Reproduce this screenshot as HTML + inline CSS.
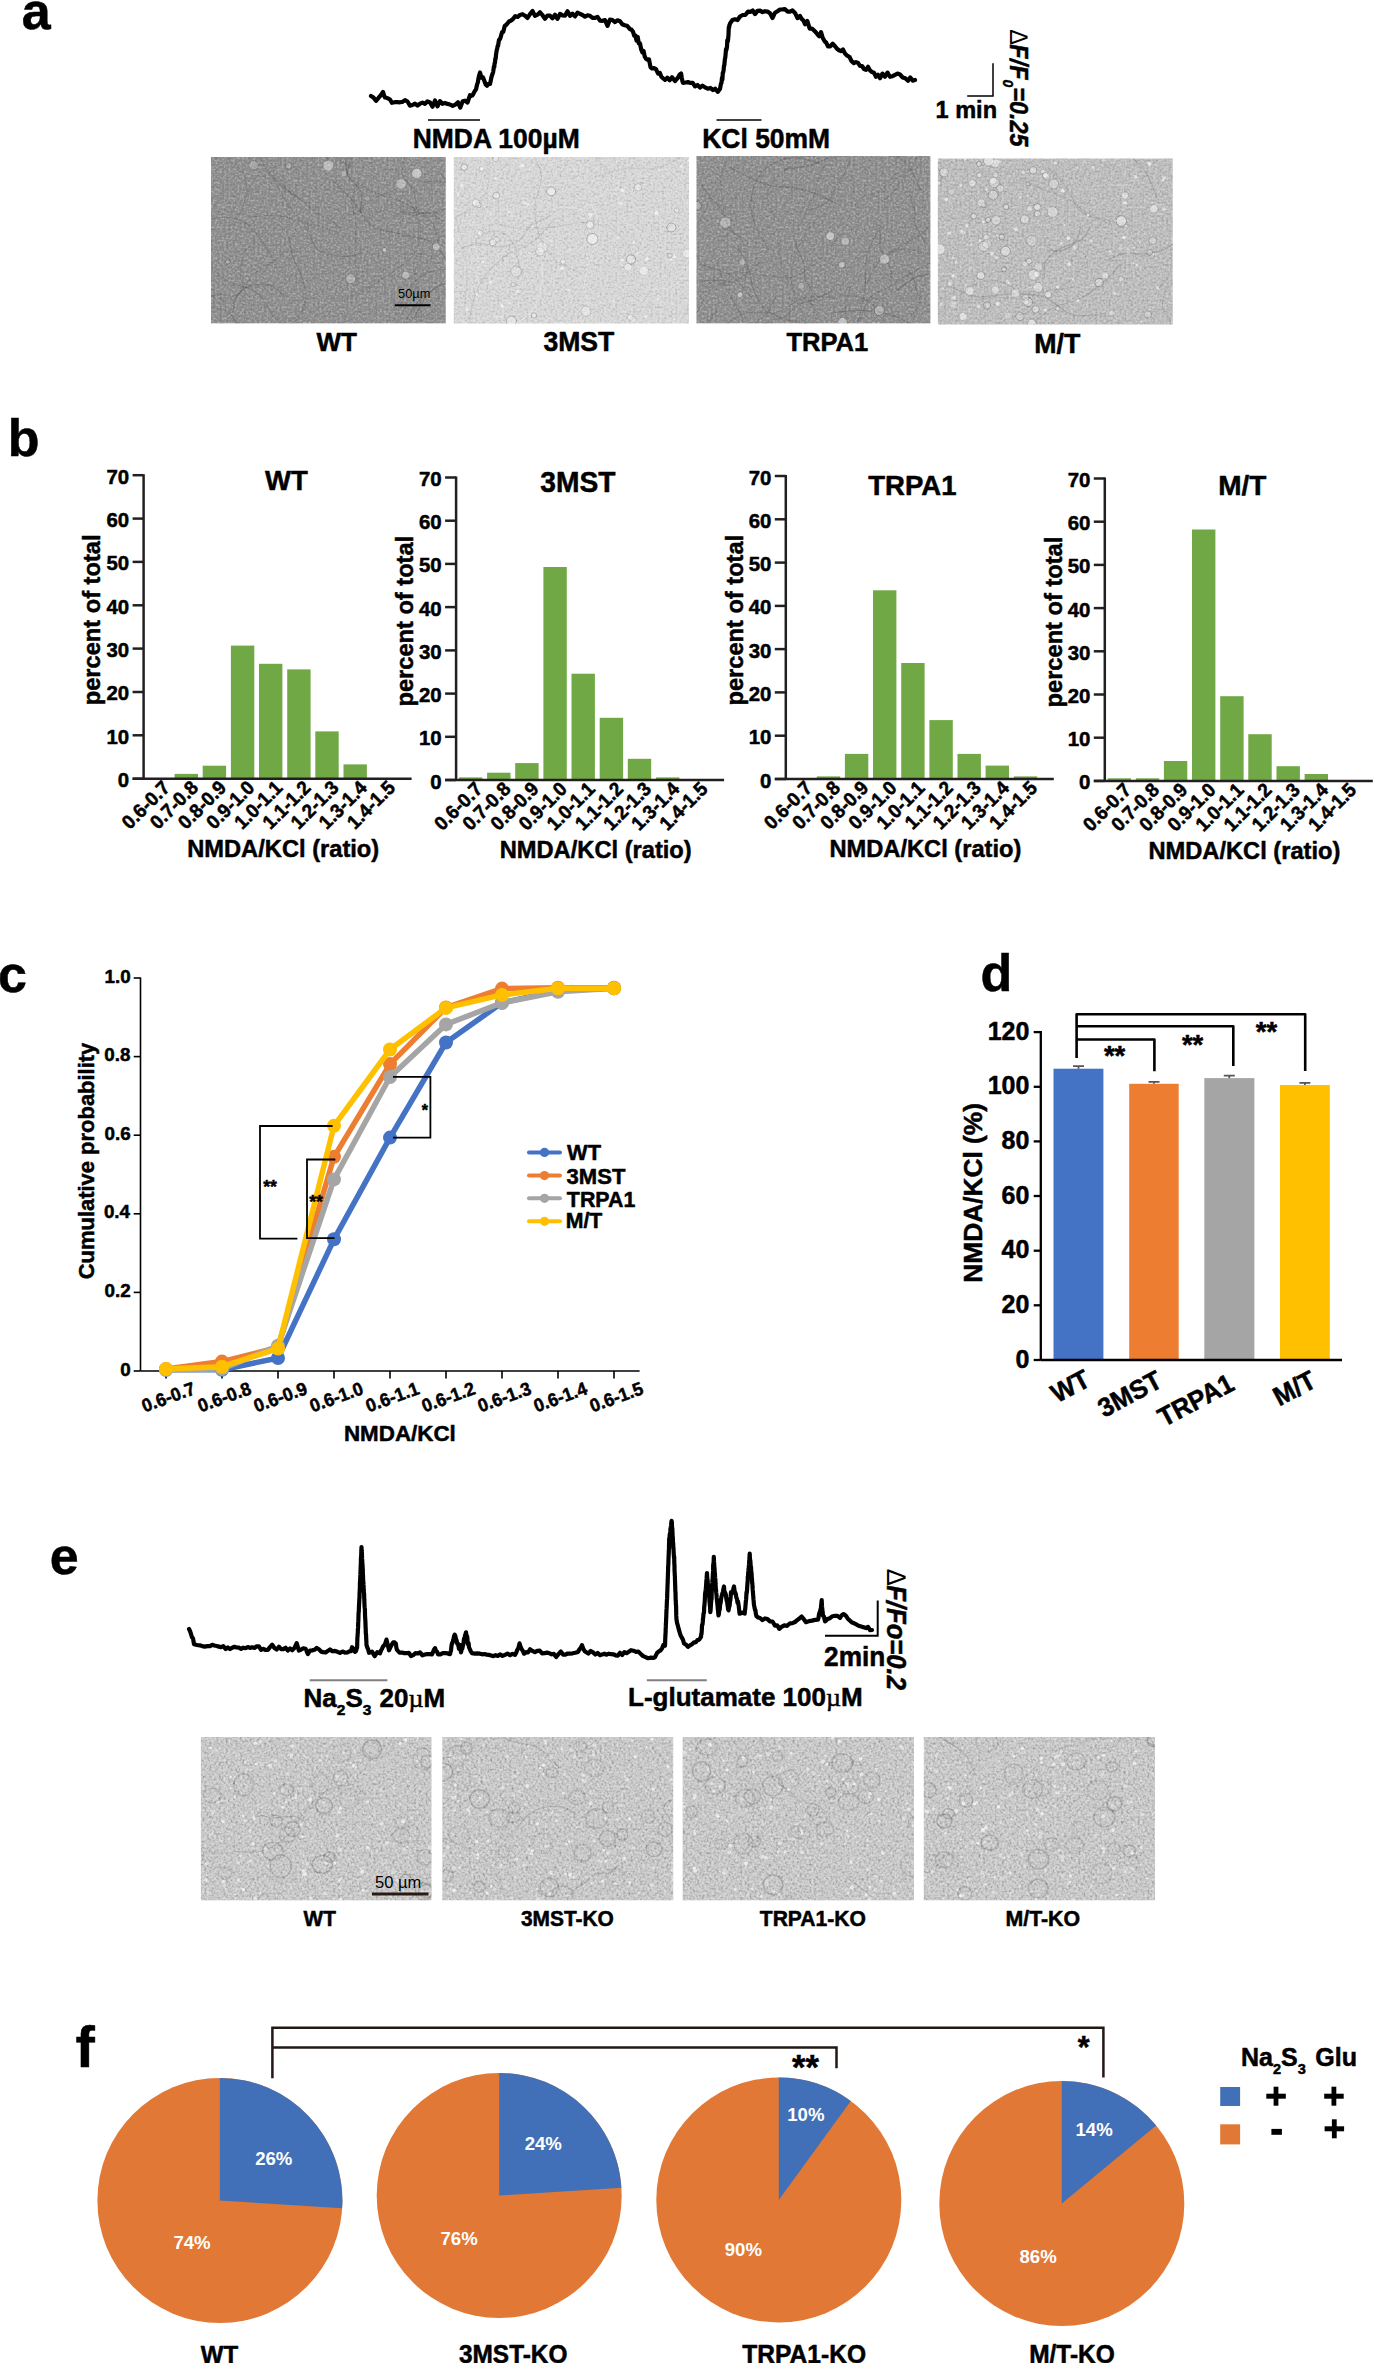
<!DOCTYPE html>
<html><head><meta charset="utf-8"><style>html,body{margin:0;padding:0;background:#fff;}svg{display:block;}text{stroke:#000;stroke-width:0.5px;stroke-linejoin:round;}text[fill="#fff"]{stroke:none;}</style></head>
<body><svg width="1373" height="2363" viewBox="0 0 1373 2363">
<defs>
<filter id="tex" x="0" y="0" width="100%" height="100%"><feTurbulence type="fractalNoise" baseFrequency="0.45" numOctaves="2" seed="3"/><feColorMatrix type="saturate" values="0"/><feComponentTransfer><feFuncA type="linear" slope="0" intercept="1"/></feComponentTransfer><feBlend in="SourceGraphic" mode="overlay"/></filter>
<filter id="tex2" x="0" y="0" width="100%" height="100%"><feTurbulence type="fractalNoise" baseFrequency="0.42" numOctaves="2" seed="8"/><feColorMatrix type="saturate" values="0"/><feComponentTransfer><feFuncA type="linear" slope="0" intercept="1"/></feComponentTransfer><feBlend in="SourceGraphic" mode="overlay"/></filter>
</defs>
<rect width="1373" height="2363" fill="#fff"/>
<text transform="translate(23.20,28.50)" x="-1.52" y="0" font-family="Liberation Sans, sans-serif" font-size="52.00" font-weight="bold" >a</text>
<polyline points="371.0,96.0 373.5,97.6 376.0,100.8 380.0,96.2 381.5,94.1 383.0,91.9 384.0,95.4 385.0,97.5 386.0,97.6 388.0,98.4 390.0,99.5 392.0,102.8 394.7,102.2 397.3,102.2 400.0,102.3 402.5,101.9 405.0,100.1 407.5,101.5 410.0,105.6 412.5,105.0 415.0,103.6 417.5,105.5 420.0,103.7 422.5,102.6 425.0,103.9 427.5,101.3 430.0,102.4 432.5,106.7 435.0,100.5 437.5,106.4 440.0,101.1 442.5,103.8 445.0,103.0 447.5,103.9 450.0,104.5 452.7,105.9 455.3,104.7 458.0,102.3 460.3,107.6 462.7,101.3 465.0,100.7 467.5,102.5 470.0,95.2 471.3,95.8 472.7,95.2 474.0,92.5 475.0,90.7 476.0,89.5 477.0,84.8 477.8,82.6 478.5,78.2 479.2,75.3 480.0,72.5 481.5,77.6 483.0,77.4 484.3,80.8 485.7,84.5 487.0,85.8 488.5,83.9 490.0,84.0 490.8,80.4 491.6,76.5 492.4,74.2 493.2,71.8 494.0,66.0 494.3,67.1 494.6,63.1 494.9,63.1 495.1,61.2 495.4,58.3 495.7,58.7 496.0,55.0 496.4,52.3 496.8,49.8 497.2,48.7 497.6,46.0 498.0,46.1 499.0,39.9 500.0,39.2 501.0,36.0 502.0,32.3 503.3,31.8 504.7,26.0 506.0,25.1 507.5,23.3 509.0,21.5 511.0,20.6 513.0,19.0 515.3,16.1 517.7,17.0 520.0,14.9 522.5,14.2 525.0,15.7 527.5,17.9 530.0,14.1 532.5,11.0 535.0,15.9 537.5,14.7 540.0,12.3 542.5,15.2 545.0,18.8 547.5,15.5 550.0,15.6 552.5,18.3 555.0,14.7 557.5,18.9 560.0,13.9 562.5,15.3 565.0,15.6 567.5,11.3 570.0,15.8 572.5,13.7 575.0,16.4 577.5,12.7 580.0,13.8 582.5,15.0 585.0,16.7 587.5,15.3 590.0,15.8 592.5,17.8 595.0,17.9 597.5,16.8 600.0,20.7 602.5,20.8 605.0,20.1 607.5,25.9 610.0,19.6 612.5,20.0 615.0,22.1 617.5,20.3 620.0,21.3 622.3,24.3 624.7,25.3 627.0,25.8 628.5,27.4 630.0,29.3 631.5,29.6 633.0,31.7 634.2,35.7 635.3,35.4 636.5,40.6 637.7,36.9 638.8,43.3 640.0,43.4 641.2,49.5 642.4,52.4 643.6,51.1 644.8,56.7 646.0,58.8 647.5,59.8 649.0,59.4 650.5,67.1 652.0,68.5 654.0,68.1 656.0,69.1 658.0,73.5 659.8,72.9 661.5,77.0 663.2,78.4 665.0,79.8 667.3,77.8 669.7,80.2 672.0,77.2 675.0,81.0 678.0,77.6 678.6,76.3 679.2,75.4 679.9,74.3 680.5,74.0 681.1,73.5 681.8,78.1 682.4,81.0 683.0,82.8 685.5,82.5 688.0,82.1 690.3,82.9 692.7,82.8 695.0,86.4 697.5,85.0 700.0,87.5 702.5,85.6 705.0,87.4 707.7,88.7 710.3,87.9 713.0,90.0 715.3,88.7 717.7,91.8 720.0,89.0 720.5,86.2 721.0,83.6 721.5,82.7 722.0,77.6 722.4,79.6 722.8,72.9 723.2,72.4 723.6,70.4 724.0,65.3 724.3,65.5 724.7,61.0 725.0,58.6 725.3,57.4 725.7,53.1 726.0,49.1 726.3,50.3 726.7,48.5 727.0,46.9 727.3,40.3 727.6,39.8 727.9,41.2 728.2,38.1 728.5,35.0 728.8,27.0 729.1,27.9 729.4,25.1 729.7,24.9 730.0,23.4 732.5,20.1 735.0,19.3 737.5,20.1 740.0,16.5 742.7,15.0 745.3,15.0 748.0,11.6 750.3,11.9 752.7,10.5 755.0,14.1 757.5,10.9 760.0,10.7 762.5,12.1 765.0,11.2 767.5,11.6 770.0,13.3 772.5,18.0 775.0,12.7 777.5,11.2 780.0,9.5 782.5,9.4 785.0,9.2 787.5,11.6 790.0,11.6 792.5,10.4 795.0,12.9 797.5,18.1 800.0,15.9 801.7,19.0 803.3,20.3 805.0,24.3 807.3,21.0 809.7,28.6 812.0,28.6 813.8,30.2 815.6,32.0 817.4,34.3 819.2,36.2 821.0,32.2 822.8,38.0 824.5,41.1 826.2,42.6 828.0,46.3 830.3,46.3 832.7,43.8 835.0,46.2 837.0,48.8 839.0,50.3 841.0,51.1 843.0,49.5 845.0,53.6 847.2,55.7 849.4,56.8 851.6,61.2 853.8,63.1 856.0,62.1 858.0,62.9 860.0,65.9 862.0,66.0 864.0,69.0 866.0,69.8 868.0,66.8 870.0,70.4 872.0,72.1 874.0,72.8 876.0,76.7 878.0,74.8 880.0,78.2 882.5,73.6 885.0,76.7 887.5,72.6 890.0,76.8 892.5,76.2 895.0,74.9 897.5,73.6 900.0,74.5 902.7,77.5 905.3,78.3 908.0,80.8 910.3,77.4 912.7,80.6 915.0,80.0" fill="none" stroke="#000" stroke-width="4.2" stroke-linejoin="round" stroke-linecap="round"/>
<line x1="428" y1="120" x2="480" y2="120" stroke="#000" stroke-width="1.6"/>
<line x1="716.5" y1="120" x2="761.5" y2="120" stroke="#000" stroke-width="1.6"/>
<text transform="translate(414.50,148.20) scale(1,1.02)" x="-1.77" y="0" font-family="Liberation Sans, sans-serif" font-size="26.44" font-weight="bold" >NMDA 100µM</text>
<text transform="translate(704.00,148.30) scale(1,1.02)" x="-1.77" y="0" font-family="Liberation Sans, sans-serif" font-size="26.46" font-weight="bold" >KCl 50mM</text>
<polyline points="967.2,96 993,96 993,63.3" fill="none" stroke="#000" stroke-width="1.5"/>
<text transform="translate(937.00,118.00) scale(1,1.02)" x="-1.48" y="0" font-family="Liberation Sans, sans-serif" font-size="23.56" font-weight="bold" >1 min</text>
<text transform="translate(1009.5,30) rotate(90) scale(0.92,1)" font-family="Liberation Sans, sans-serif" font-size="25.5" font-weight="bold" font-style="italic"><tspan font-weight="normal" font-style="normal" style="stroke:none">∆</tspan>F/F<tspan font-size="15" dy="6">0</tspan><tspan dy="-6">=0.25</tspan></text>
<clipPath id="c1"><rect x="211" y="157" width="234.8" height="166.4"/></clipPath>
<g clip-path="url(#c1)">
<rect x="211" y="157" width="234.8" height="166.4" fill="#8f8f8f"/>
<rect x="211" y="157" width="234.8" height="166.4" fill="#8f8f8f" filter="url(#tex)" opacity="0.5"/>
<path d="M231.0,230.9 C233.0,227.0 239.1,215.3 242.6,207.2 C246.1,199.2 247.3,189.8 252.0,182.6 C256.6,175.4 264.2,170.0 270.5,163.9 C276.8,157.8 285.6,153.3 289.9,146.1 C294.2,138.9 295.2,124.8 296.2,120.5" fill="none" stroke="#000" stroke-opacity="0.11" stroke-width="0.8"/>
<path d="M447.4,332.5 C445.3,334.1 438.1,338.3 434.7,342.3 C431.3,346.3 428.4,351.4 427.0,356.4 C425.6,361.4 425.4,367.3 426.3,372.4 C427.2,377.6 429.9,382.6 432.4,387.3 C434.9,392.0 440.0,398.3 441.5,400.5" fill="none" stroke="#000" stroke-opacity="0.12" stroke-width="1.5"/>
<path d="M248.9,334.3 C245.3,330.6 235.5,317.3 226.9,311.9 C218.2,306.6 206.5,306.4 197.0,302.1 C187.5,297.8 179.6,289.0 169.9,286.3 C160.1,283.7 147.7,283.0 138.4,286.4 C129.2,289.7 118.3,303.1 114.2,306.4" fill="none" stroke="#000" stroke-opacity="0.10" stroke-width="1.3"/>
<path d="M346.6,176.8 C347.7,171.6 351.3,156.1 353.0,145.7 C354.8,135.2 354.8,124.4 357.2,114.2 C359.6,103.9 361.6,92.4 367.4,84.1 C373.2,75.7 386.0,72.4 392.0,64.1 C398.0,55.8 401.5,39.4 403.4,34.4" fill="none" stroke="#000" stroke-opacity="0.12" stroke-width="1.5"/>
<path d="M358.4,285.1 C357.9,281.6 356.0,271.1 355.5,264.1 C355.0,257.0 355.2,249.9 355.2,242.9 C355.3,235.8 356.4,228.7 355.9,221.7 C355.3,214.7 351.4,207.7 351.8,200.9 C352.2,194.1 357.1,184.1 358.2,180.7" fill="none" stroke="#000" stroke-opacity="0.10" stroke-width="1.1"/>
<path d="M400.3,305.0 C402.4,301.4 407.3,289.3 413.0,283.5 C418.7,277.8 426.6,272.6 434.3,270.5 C442.0,268.5 451.1,269.7 459.2,271.1 C467.3,272.6 475.7,275.1 482.8,279.1 C490.0,283.1 498.8,292.5 501.9,295.2" fill="none" stroke="#000" stroke-opacity="0.11" stroke-width="1.1"/>
<path d="M351.1,167.4 C347.0,164.4 333.5,156.6 326.7,149.3 C319.8,142.1 314.3,133.0 310.0,123.9 C305.8,114.8 306.5,103.1 301.3,94.8 C296.2,86.5 287.8,78.1 279.1,74.0 C270.4,70.0 253.9,71.0 248.9,70.4" fill="none" stroke="#000" stroke-opacity="0.12" stroke-width="1.0"/>
<path d="M276.1,265.2 C273.8,261.3 267.8,248.8 262.3,241.5 C256.9,234.2 251.1,225.5 243.4,221.6 C235.7,217.7 224.9,216.8 216.1,218.1 C207.4,219.3 198.2,223.8 191.0,229.1 C183.7,234.3 175.7,246.2 172.7,249.6" fill="none" stroke="#000" stroke-opacity="0.11" stroke-width="1.3"/>
<path d="M248.5,217.5 C251.5,217.2 260.7,215.7 266.8,215.6 C272.9,215.5 279.2,215.7 285.2,216.8 C291.2,217.9 296.9,220.4 302.8,222.0 C308.7,223.7 314.8,225.0 320.6,226.7 C326.5,228.4 335.2,231.5 338.1,232.5" fill="none" stroke="#000" stroke-opacity="0.13" stroke-width="0.9"/>
<path d="M410.5,317.2 C412.7,317.0 419.7,317.8 423.6,316.4 C427.6,315.0 431.6,312.0 434.3,308.7 C437.0,305.5 437.7,300.6 439.9,296.9 C442.2,293.1 446.2,290.3 447.8,286.3 C449.4,282.4 449.0,275.4 449.3,273.3" fill="none" stroke="#000" stroke-opacity="0.07" stroke-width="1.5"/>
<path d="M301.5,248.6 C298.7,249.2 290.0,250.0 285.0,252.4 C280.0,254.7 276.2,259.5 271.5,262.7 C266.9,265.9 261.2,267.8 257.0,271.4 C252.9,275.1 248.7,279.6 246.4,284.6 C244.1,289.6 243.8,298.5 243.3,301.3" fill="none" stroke="#000" stroke-opacity="0.08" stroke-width="1.1"/>
<path d="M446.7,260.4 C449.4,259.0 457.4,254.1 463.2,252.3 C469.0,250.4 475.8,251.5 481.4,249.3 C487.0,247.1 491.0,240.4 496.6,239.0 C502.2,237.6 508.8,240.7 515.0,240.9 C521.1,241.1 530.3,240.1 533.4,240.0" fill="none" stroke="#000" stroke-opacity="0.09" stroke-width="1.0"/>
<path d="M274.7,330.3 C278.1,328.8 290.1,326.0 295.2,321.1 C300.3,316.2 304.0,308.0 305.2,300.9 C306.4,293.8 304.3,285.7 302.3,278.6 C300.3,271.4 295.6,265.0 293.3,257.9 C291.0,250.8 289.4,239.6 288.6,235.9" fill="none" stroke="#000" stroke-opacity="0.12" stroke-width="1.4"/>
<path d="M416.6,209.8 C416.1,206.6 415.9,196.4 413.5,190.5 C411.2,184.6 404.1,180.3 402.5,174.3 C400.8,168.4 405.4,160.8 403.8,154.8 C402.1,148.9 395.9,144.4 392.7,138.7 C389.5,133.1 385.8,124.0 384.4,121.0" fill="none" stroke="#000" stroke-opacity="0.10" stroke-width="1.4"/>
<path d="M230.5,320.9 C234.8,322.2 247.7,326.3 256.3,329.0 C264.9,331.8 273.3,336.7 282.1,337.4 C290.9,338.2 300.2,335.6 309.0,333.6 C317.8,331.7 326.3,328.5 334.8,325.5 C343.3,322.5 355.8,317.1 360.0,315.4" fill="none" stroke="#000" stroke-opacity="0.08" stroke-width="0.9"/>
<path d="M422.5,250.4 C421.2,254.3 415.4,265.7 414.9,273.5 C414.5,281.3 418.5,289.3 419.6,297.3 C420.7,305.3 421.3,313.4 421.4,321.5 C421.5,329.6 418.6,338.1 420.3,345.7 C422.1,353.3 430.0,363.5 432.0,367.0" fill="none" stroke="#000" stroke-opacity="0.09" stroke-width="1.4"/>
<path d="M350.1,183.0 C347.0,184.3 338.0,189.6 331.6,190.4 C325.2,191.2 318.1,186.8 311.8,187.9 C305.6,188.9 298.5,192.1 293.9,196.5 C289.4,200.9 287.5,208.1 284.6,214.1 C281.7,220.1 278.1,229.4 276.8,232.4" fill="none" stroke="#000" stroke-opacity="0.06" stroke-width="0.9"/>
<path d="M220.2,155.3 C219.1,153.9 214.7,150.3 213.5,147.2 C212.3,144.1 214.1,140.0 213.1,136.7 C212.2,133.5 208.9,130.9 207.7,127.7 C206.5,124.5 206.3,120.9 205.9,117.4 C205.5,113.9 205.3,108.7 205.2,106.9" fill="none" stroke="#000" stroke-opacity="0.08" stroke-width="1.5"/>
<path d="M393.4,215.3 C395.2,214.9 400.4,212.8 403.9,212.8 C407.3,212.9 410.8,215.5 414.2,215.4 C417.7,215.4 421.1,212.4 424.5,212.3 C427.9,212.3 431.7,213.8 434.8,215.4 C437.9,217.0 441.7,221.1 443.0,222.2" fill="none" stroke="#000" stroke-opacity="0.15" stroke-width="1.0"/>
<path d="M393.9,297.9 C394.0,299.4 394.3,303.9 394.5,306.8 C394.6,309.8 394.9,312.8 394.9,315.7 C395.0,318.7 394.1,321.8 394.8,324.6 C395.5,327.4 398.0,329.7 399.2,332.4 C400.4,335.1 401.6,339.4 402.0,340.8" fill="none" stroke="#000" stroke-opacity="0.07" stroke-width="1.1"/>
<path d="M331.3,179.0 C335.0,182.7 346.5,193.5 353.4,201.4 C360.3,209.3 364.3,220.9 372.6,226.4 C380.9,231.9 393.0,231.5 403.1,234.4 C413.2,237.2 425.1,237.7 433.2,243.4 C441.3,249.2 448.7,264.6 451.8,268.8" fill="none" stroke="#000" stroke-opacity="0.14" stroke-width="1.3"/>
<path d="M201.9,256.4 C205.9,260.3 216.7,273.9 225.9,280.0 C235.1,286.0 248.4,286.1 257.0,292.7 C265.6,299.3 268.8,312.9 277.4,319.5 C285.9,326.1 297.7,329.6 308.5,332.3 C319.3,335.0 336.4,335.4 341.9,336.0" fill="none" stroke="#000" stroke-opacity="0.09" stroke-width="1.4"/>
<path d="M382.3,329.8 C383.3,331.2 386.7,335.2 388.0,338.4 C389.3,341.5 389.7,345.0 390.2,348.4 C390.6,351.8 391.5,355.5 390.6,358.7 C389.8,361.9 387.3,364.8 385.1,367.4 C382.9,370.0 378.6,373.0 377.3,374.1" fill="none" stroke="#000" stroke-opacity="0.07" stroke-width="1.0"/>
<path d="M247.0,192.3 C246.4,189.0 246.7,178.4 243.8,173.0 C240.8,167.6 232.5,165.3 229.2,160.0 C225.9,154.7 227.0,146.7 224.0,141.2 C220.9,135.6 214.2,132.2 210.7,126.8 C207.3,121.4 204.3,111.8 203.1,108.8" fill="none" stroke="#000" stroke-opacity="0.14" stroke-width="0.8"/>
<path d="M340.0,338.2 C343.5,338.0 354.0,338.0 360.9,337.0 C367.8,336.0 375.2,335.3 381.3,332.4 C387.5,329.5 393.6,324.9 398.0,319.7 C402.3,314.4 405.4,307.6 407.5,301.0 C409.5,294.5 409.9,283.8 410.4,280.3" fill="none" stroke="#000" stroke-opacity="0.08" stroke-width="1.0"/>
<path d="M438.8,332.9 C439.2,334.3 441.1,338.5 441.1,341.3 C441.2,344.1 439.1,346.9 439.1,349.8 C439.1,352.6 440.7,355.4 441.0,358.3 C441.3,361.1 440.2,364.3 440.9,367.0 C441.7,369.7 444.8,373.1 445.6,374.4" fill="none" stroke="#000" stroke-opacity="0.10" stroke-width="0.9"/>
<path d="M360.4,213.4 C360.5,209.8 362.8,198.4 360.7,192.0 C358.6,185.5 350.5,181.3 347.6,174.9 C344.8,168.6 347.1,159.7 343.8,153.8 C340.5,147.9 333.3,144.1 328.0,139.2 C322.7,134.4 314.8,127.1 312.2,124.7" fill="none" stroke="#000" stroke-opacity="0.16" stroke-width="1.4"/>
<path d="M288.7,328.9 C288.1,332.7 287.4,344.5 285.1,351.8 C282.7,359.0 277.1,365.2 274.7,372.4 C272.3,379.6 271.5,387.5 270.8,395.2 C270.0,402.8 269.4,410.7 270.1,418.3 C270.9,425.9 274.3,437.1 275.1,440.9" fill="none" stroke="#000" stroke-opacity="0.15" stroke-width="1.3"/>
<path d="M284.4,296.7 C282.6,295.1 277.9,289.0 273.7,287.0 C269.6,285.0 264.3,284.4 259.5,284.5 C254.8,284.6 249.5,285.5 245.5,287.8 C241.5,290.1 237.7,294.2 235.7,298.3 C233.6,302.5 233.7,310.2 233.3,312.5" fill="none" stroke="#000" stroke-opacity="0.12" stroke-width="1.4"/>
<path d="M420.4,182.2 C423.1,182.1 431.5,181.2 437.0,181.2 C442.6,181.3 448.2,182.1 453.7,182.5 C459.3,182.8 465.0,182.2 470.4,183.1 C475.8,184.1 481.9,185.2 486.3,188.1 C490.8,191.1 495.5,198.6 497.3,200.7" fill="none" stroke="#000" stroke-opacity="0.13" stroke-width="1.2"/>
<path d="M427.7,291.0 C424.4,295.4 410.9,307.7 407.6,317.7 C404.2,327.7 410.9,341.1 407.5,351.1 C404.1,361.2 395.9,371.7 387.2,377.8 C378.5,383.8 366.0,384.6 355.3,387.6 C344.5,390.7 328.3,394.6 322.9,395.9" fill="none" stroke="#000" stroke-opacity="0.14" stroke-width="1.3"/>
<path d="M218.1,301.2 C214.2,297.4 203.3,284.4 194.4,278.1 C185.6,271.8 173.5,269.9 164.8,263.3 C156.2,256.7 149.8,247.1 142.8,238.6 C135.7,230.1 126.7,222.2 122.6,212.4 C118.5,202.5 118.9,185.0 118.2,179.6" fill="none" stroke="#000" stroke-opacity="0.06" stroke-width="1.3"/>
<path d="M441.0,174.6 C443.4,177.1 451.3,184.0 455.7,189.3 C460.1,194.6 463.6,200.6 467.4,206.4 C471.2,212.2 474.2,218.6 478.5,224.0 C482.7,229.4 489.1,233.2 493.1,238.7 C497.2,244.2 501.3,253.9 502.9,257.0" fill="none" stroke="#000" stroke-opacity="0.16" stroke-width="1.2"/>
<path d="M299.7,337.0 C299.6,340.7 300.9,352.4 299.2,359.6 C297.6,366.8 294.1,374.1 289.9,380.2 C285.7,386.3 279.9,391.7 274.1,396.4 C268.2,401.0 261.0,404.0 254.7,408.1 C248.4,412.2 239.3,419.0 236.2,421.1" fill="none" stroke="#000" stroke-opacity="0.16" stroke-width="0.8"/>
<path d="M307.4,230.0 C305.9,227.9 301.5,221.5 298.3,217.5 C295.2,213.4 291.3,209.8 288.4,205.6 C285.5,201.4 283.3,196.6 280.9,192.1 C278.5,187.5 274.9,183.1 273.9,178.2 C272.9,173.4 274.7,165.4 274.8,162.8" fill="none" stroke="#000" stroke-opacity="0.11" stroke-width="0.9"/>
<path d="M367.4,217.4 C370.3,216.2 378.6,212.2 384.5,210.4 C390.4,208.7 396.7,206.4 402.6,206.9 C408.5,207.4 414.5,210.5 419.8,213.6 C425.0,216.7 430.8,220.5 433.9,225.4 C436.9,230.4 437.4,240.4 438.1,243.3" fill="none" stroke="#000" stroke-opacity="0.07" stroke-width="1.4"/>
<path d="M400.8,186.6 C398.9,187.5 393.3,190.1 389.5,191.8 C385.7,193.5 381.6,194.8 377.9,196.7 C374.3,198.6 370.7,200.8 367.3,203.3 C364.0,205.7 361.3,209.2 357.8,211.4 C354.4,213.6 348.3,215.6 346.4,216.4" fill="none" stroke="#000" stroke-opacity="0.13" stroke-width="0.9"/>
<path d="M347.8,297.5 C351.9,295.4 364.3,289.6 372.3,285.1 C380.2,280.6 388.1,275.8 395.4,270.3 C402.6,264.8 411.6,259.5 415.7,251.9 C419.8,244.4 421.4,233.5 420.2,224.9 C419.0,216.2 410.6,204.1 408.7,200.0" fill="none" stroke="#000" stroke-opacity="0.13" stroke-width="1.0"/>
<path d="M333.7,170.6 C331.1,165.8 324.3,151.0 318.4,142.1 C312.5,133.1 301.8,126.5 298.2,116.9 C294.6,107.3 298.5,95.2 297.0,84.6 C295.5,74.0 293.3,63.1 289.2,53.3 C285.0,43.5 275.0,30.4 272.1,25.8" fill="none" stroke="#000" stroke-opacity="0.10" stroke-width="1.5"/>
<path d="M297.4,197.0 C294.1,194.6 283.3,188.2 277.6,182.5 C271.8,176.8 266.9,170.0 262.8,162.9 C258.7,155.9 256.8,147.6 253.1,140.4 C249.5,133.1 245.2,126.0 240.8,119.1 C236.4,112.3 229.0,102.4 226.7,99.1" fill="none" stroke="#000" stroke-opacity="0.16" stroke-width="1.1"/>
<path d="M400.1,211.1 C403.1,211.4 412.1,212.8 418.1,213.0 C424.2,213.2 430.6,213.7 436.3,212.3 C442.1,210.8 448.1,208.1 452.7,204.4 C457.3,200.7 461.8,195.4 463.7,190.0 C465.6,184.5 464.0,174.8 464.1,171.8" fill="none" stroke="#000" stroke-opacity="0.13" stroke-width="1.2"/>
<path d="M415.2,315.2 C417.8,311.2 423.9,297.2 430.9,291.3 C437.9,285.4 448.0,281.6 457.2,279.8 C466.3,278.1 477.1,278.0 485.8,280.9 C494.5,283.7 501.2,292.4 509.6,296.9 C518.0,301.3 531.8,305.7 536.2,307.4" fill="none" stroke="#000" stroke-opacity="0.16" stroke-width="1.4"/>
<path d="M414.4,312.3 C414.4,308.5 412.3,296.3 414.4,289.4 C416.6,282.4 424.2,277.3 427.5,270.5 C430.8,263.7 431.4,255.7 434.5,248.7 C437.5,241.7 440.4,233.7 445.7,228.7 C451.0,223.7 462.9,220.3 466.3,218.7" fill="none" stroke="#000" stroke-opacity="0.09" stroke-width="0.9"/>
<path d="M276.3,228.2 C274.1,228.9 266.8,230.1 263.0,232.6 C259.1,235.0 256.4,239.3 253.3,242.7 C250.1,246.2 246.0,249.2 244.0,253.3 C241.9,257.3 241.5,262.4 240.9,267.0 C240.4,271.7 240.8,278.7 240.7,281.1" fill="none" stroke="#000" stroke-opacity="0.08" stroke-width="1.2"/>
<path d="M361.4,184.4 C363.6,185.8 369.8,190.6 374.4,192.6 C379.0,194.7 384.3,195.3 389.2,197.0 C394.0,198.6 398.9,200.4 403.5,202.5 C408.2,204.7 412.7,207.2 417.1,209.9 C421.4,212.5 427.6,217.2 429.7,218.6" fill="none" stroke="#000" stroke-opacity="0.09" stroke-width="1.4"/>
<path d="M362.1,252.7 C359.7,253.3 352.3,256.0 347.2,256.4 C342.2,256.8 336.9,256.3 331.9,255.1 C327.0,253.9 321.3,252.6 317.7,249.4 C314.1,246.2 312.0,240.7 310.3,235.9 C308.6,231.1 308.0,223.3 307.6,220.8" fill="none" stroke="#000" stroke-opacity="0.16" stroke-width="1.0"/>
<path d="M267.1,342.8 C263.2,342.6 251.3,340.1 244.0,341.7 C236.8,343.2 229.0,347.2 223.5,352.2 C218.0,357.2 215.1,365.1 211.2,371.7 C207.2,378.3 202.1,384.6 199.8,391.8 C197.5,399.0 197.9,410.9 197.6,414.8" fill="none" stroke="#000" stroke-opacity="0.07" stroke-width="1.3"/>
<path d="M342.3,230.8 C340.3,229.1 334.7,223.3 330.4,220.2 C326.1,217.2 320.8,215.6 316.4,212.7 C312.0,209.7 308.3,205.7 304.2,202.5 C300.0,199.2 295.4,196.3 291.4,193.0 C287.3,189.6 281.6,183.9 279.7,182.1" fill="none" stroke="#000" stroke-opacity="0.11" stroke-width="1.2"/>
<path d="M203.5,298.0 C205.1,297.6 209.8,296.4 213.0,295.8 C216.2,295.2 219.5,294.3 222.7,294.4 C226.0,294.5 229.3,296.8 232.3,296.4 C235.4,296.0 238.9,294.1 241.1,291.9 C243.2,289.7 244.6,284.5 245.3,283.1" fill="none" stroke="#000" stroke-opacity="0.11" stroke-width="1.2"/>
<path d="M219.9,297.2 C222.6,301.7 232.1,314.5 235.9,324.0 C239.8,333.5 243.2,344.3 242.9,354.4 C242.7,364.5 235.9,374.3 234.6,384.5 C233.3,394.7 235.8,405.3 235.2,415.7 C234.6,426.0 231.6,441.4 230.9,446.6" fill="none" stroke="#000" stroke-opacity="0.06" stroke-width="1.3"/>
<circle cx="253.6" cy="165.3" r="4.7" fill="#fff" fill-opacity="0.22" stroke="#000" stroke-opacity="0.19" stroke-width="1"/>
<circle cx="436.3" cy="246.9" r="3.9" fill="#fff" fill-opacity="0.43" stroke="#000" stroke-opacity="0.21" stroke-width="1"/>
<circle cx="328.4" cy="165.6" r="5.4" fill="#fff" fill-opacity="0.42" stroke="#000" stroke-opacity="0.16" stroke-width="1"/>
<circle cx="367.7" cy="198.8" r="2.8" fill="#fff" fill-opacity="0.21" stroke="#000" stroke-opacity="0.15" stroke-width="1"/>
<circle cx="343.9" cy="173.9" r="2.6" fill="#fff" fill-opacity="0.32" stroke="#000" stroke-opacity="0.08" stroke-width="1"/>
<circle cx="401.1" cy="183.9" r="5.2" fill="#fff" fill-opacity="0.37" stroke="#000" stroke-opacity="0.13" stroke-width="1"/>
<circle cx="227.8" cy="261.8" r="2.2" fill="#fff" fill-opacity="0.30" stroke="#000" stroke-opacity="0.25" stroke-width="1"/>
<circle cx="405.6" cy="275.1" r="4.0" fill="#fff" fill-opacity="0.39" stroke="#000" stroke-opacity="0.21" stroke-width="1"/>
<circle cx="416.8" cy="173.4" r="5.1" fill="#fff" fill-opacity="0.49" stroke="#000" stroke-opacity="0.18" stroke-width="1"/>
<circle cx="288.7" cy="165.7" r="3.2" fill="#fff" fill-opacity="0.21" stroke="#000" stroke-opacity="0.20" stroke-width="1"/>
<circle cx="350.7" cy="278.7" r="5.0" fill="#fff" fill-opacity="0.29" stroke="#000" stroke-opacity="0.21" stroke-width="1"/>
<circle cx="384.6" cy="249.9" r="2.2" fill="#fff" fill-opacity="0.46" stroke="#000" stroke-opacity="0.17" stroke-width="1"/>
</g>
<clipPath id="c2"><rect x="453.8" y="157" width="235.2" height="166.4"/></clipPath>
<g clip-path="url(#c2)">
<rect x="453.8" y="157" width="235.2" height="166.4" fill="#d8d8d8"/>
<rect x="453.8" y="157" width="235.2" height="166.4" fill="#d8d8d8" filter="url(#tex)" opacity="0.55"/>
<path d="M593.7,177.2 C598.9,175.8 614.2,170.4 624.6,168.8 C635.1,167.2 646.5,170.1 656.6,167.7 C666.8,165.3 677.2,160.4 685.7,154.2 C694.1,148.0 701.5,139.4 707.4,130.7 C713.4,122.0 719.0,106.6 721.3,101.8" fill="none" stroke="#000" stroke-opacity="0.05" stroke-width="1.5"/>
<path d="M453.2,176.9 C457.5,178.6 470.5,183.8 479.3,187.1 C488.0,190.3 496.7,194.3 505.8,196.2 C514.8,198.1 524.5,197.0 533.7,198.7 C542.8,200.4 551.5,204.4 560.6,206.4 C569.7,208.4 583.7,209.8 588.3,210.5" fill="none" stroke="#fff" stroke-opacity="0.19" stroke-width="1.0"/>
<path d="M464.3,306.9 C464.7,302.8 466.5,290.2 466.7,281.8 C466.9,273.4 466.6,264.9 465.4,256.5 C464.3,248.2 462.2,240.0 459.9,231.9 C457.6,223.8 455.0,215.7 451.8,207.9 C448.5,200.2 442.4,189.0 440.5,185.3" fill="none" stroke="#000" stroke-opacity="0.04" stroke-width="1.1"/>
<path d="M581.1,208.3 C584.8,206.0 595.8,198.8 603.5,194.6 C611.2,190.3 620.6,188.4 627.1,182.9 C633.6,177.4 640.1,169.5 642.5,161.6 C645.0,153.6 644.0,143.6 641.9,135.3 C639.7,127.0 631.9,115.7 629.9,111.8" fill="none" stroke="#fff" stroke-opacity="0.13" stroke-width="1.3"/>
<path d="M634.2,211.9 C632.3,209.1 624.7,201.4 622.5,195.3 C620.2,189.1 622.1,181.5 620.7,175.0 C619.2,168.4 614.2,162.4 613.6,155.9 C613.0,149.4 615.0,142.2 616.9,135.8 C618.9,129.4 624.1,120.4 625.5,117.3" fill="none" stroke="#000" stroke-opacity="0.04" stroke-width="0.9"/>
<path d="M442.6,208.4 C447.7,209.1 463.3,213.8 473.1,212.5 C482.9,211.2 491.6,203.1 501.5,200.6 C511.3,198.0 522.0,196.4 532.0,197.2 C542.1,198.0 552.8,200.8 561.7,205.5 C570.5,210.2 581.1,222.2 585.0,225.5" fill="none" stroke="#000" stroke-opacity="0.05" stroke-width="0.9"/>
<path d="M651.9,289.4 C655.2,288.9 665.5,289.2 671.4,286.8 C677.2,284.5 681.2,277.1 687.1,275.2 C693.0,273.3 700.7,273.6 706.7,275.3 C712.8,277.0 717.6,282.7 723.5,285.4 C729.4,288.1 739.1,290.5 742.2,291.5" fill="none" stroke="#fff" stroke-opacity="0.21" stroke-width="1.3"/>
<path d="M530.2,148.9 C532.1,153.4 540.7,166.7 541.5,176.1 C542.3,185.4 535.5,195.1 535.1,204.8 C534.7,214.4 535.8,224.9 538.9,234.0 C542.1,243.0 547.3,252.7 554.2,259.2 C561.1,265.6 575.9,270.6 580.2,272.8" fill="none" stroke="#000" stroke-opacity="0.09" stroke-width="1.0"/>
<path d="M460.1,271.8 C461.3,271.2 464.7,268.4 467.3,267.7 C469.9,267.0 472.9,267.7 475.6,267.5 C478.4,267.4 481.2,267.0 483.9,266.9 C486.7,266.8 489.6,266.4 492.2,267.0 C494.9,267.7 498.5,270.0 499.8,270.6" fill="none" stroke="#fff" stroke-opacity="0.15" stroke-width="1.3"/>
<path d="M585.8,247.5 C584.6,252.7 582.1,269.0 578.3,279.0 C574.6,289.0 570.4,300.1 563.3,307.6 C556.1,315.2 544.3,318.0 535.4,324.1 C526.6,330.2 515.8,335.8 510.1,344.3 C504.5,352.9 502.9,370.3 501.4,375.5" fill="none" stroke="#fff" stroke-opacity="0.11" stroke-width="0.9"/>
<path d="M466.9,207.7 C464.2,209.5 456.4,215.7 450.6,218.6 C444.8,221.4 438.4,223.7 432.1,225.1 C425.7,226.4 418.9,225.5 412.5,226.6 C406.1,227.7 400.0,230.8 393.6,231.7 C387.1,232.7 377.2,232.4 373.9,232.5" fill="none" stroke="#fff" stroke-opacity="0.13" stroke-width="1.2"/>
<path d="M521.4,276.5 C521.0,274.2 519.8,267.1 518.8,262.5 C517.7,257.9 517.0,253.0 515.2,248.7 C513.4,244.3 511.4,239.4 508.0,236.4 C504.6,233.4 499.3,231.3 494.8,230.9 C490.3,230.6 483.3,233.7 481.0,234.3" fill="none" stroke="#000" stroke-opacity="0.08" stroke-width="1.1"/>
<path d="M617.3,192.5 C618.0,187.1 620.4,170.9 621.6,160.1 C622.8,149.2 620.2,136.9 624.4,127.5 C628.6,118.1 637.9,108.9 647.0,103.8 C656.1,98.7 669.9,102.0 678.9,96.7 C687.9,91.5 697.2,76.5 700.9,72.4" fill="none" stroke="#fff" stroke-opacity="0.19" stroke-width="1.0"/>
<path d="M603.4,166.6 C600.5,162.5 590.3,151.0 585.6,142.2 C580.8,133.4 579.8,122.4 574.8,113.8 C569.8,105.2 561.1,98.8 555.5,90.5 C549.9,82.1 544.6,73.2 541.1,63.8 C537.5,54.5 535.3,39.2 534.2,34.3" fill="none" stroke="#000" stroke-opacity="0.09" stroke-width="1.0"/>
<path d="M634.7,167.3 C633.0,164.6 628.9,155.9 624.7,151.3 C620.6,146.7 615.3,142.6 609.7,139.9 C604.2,137.3 597.0,138.0 591.5,135.3 C585.9,132.5 582.2,125.9 576.6,123.6 C571.0,121.4 561.0,122.0 557.9,121.7" fill="none" stroke="#fff" stroke-opacity="0.14" stroke-width="0.9"/>
<path d="M634.7,258.2 C631.7,253.9 624.7,238.4 616.8,232.4 C608.8,226.5 597.1,223.7 586.9,222.7 C576.8,221.6 566.2,225.2 555.7,226.4 C545.3,227.5 534.8,229.9 524.5,229.4 C514.1,228.8 498.9,224.0 493.7,222.9" fill="none" stroke="#000" stroke-opacity="0.07" stroke-width="1.0"/>
<path d="M596.9,329.9 C592.2,332.4 578.1,340.4 568.4,344.9 C558.7,349.4 548.4,352.7 538.4,356.8 C528.5,360.8 517.0,363.0 508.8,369.4 C500.6,375.8 493.2,385.4 489.4,395.1 C485.6,404.7 486.6,421.8 486.1,427.1" fill="none" stroke="#fff" stroke-opacity="0.22" stroke-width="1.3"/>
<path d="M707.2,261.4 C709.8,259.7 719.1,256.1 722.9,251.7 C726.7,247.2 728.6,240.6 730.2,234.7 C731.7,228.8 731.3,222.4 732.1,216.3 C732.9,210.2 732.1,203.2 734.9,198.0 C737.6,192.9 746.2,187.6 748.5,185.6" fill="none" stroke="#fff" stroke-opacity="0.15" stroke-width="1.3"/>
<path d="M540.7,252.3 C540.9,257.3 543.1,272.6 541.7,282.4 C540.2,292.2 537.7,303.3 532.0,311.0 C526.4,318.8 515.0,322.1 507.7,329.0 C500.5,335.8 491.8,343.2 488.3,352.0 C484.8,360.9 487.1,377.2 486.9,382.2" fill="none" stroke="#fff" stroke-opacity="0.28" stroke-width="1.1"/>
<path d="M488.9,168.2 C488.8,171.4 489.8,181.7 487.8,187.6 C485.8,193.5 481.4,199.1 477.0,203.7 C472.5,208.2 466.9,212.2 461.1,214.9 C455.3,217.6 448.0,216.9 442.3,219.8 C436.7,222.7 429.8,230.1 427.3,232.2" fill="none" stroke="#000" stroke-opacity="0.05" stroke-width="1.2"/>
<path d="M443.0,321.2 C445.0,324.5 451.7,334.3 455.0,341.3 C458.3,348.3 461.1,355.8 462.7,363.4 C464.3,371.0 463.2,379.1 464.5,386.8 C465.9,394.4 470.2,401.7 470.6,409.4 C471.1,417.0 467.8,428.7 467.2,432.5" fill="none" stroke="#000" stroke-opacity="0.08" stroke-width="1.5"/>
<path d="M667.7,148.5 C667.2,146.8 666.1,141.7 664.9,138.5 C663.7,135.2 661.1,132.4 660.5,129.1 C659.8,125.8 661.8,121.9 661.0,118.7 C660.1,115.6 656.1,113.3 655.2,110.1 C654.3,106.9 655.5,101.4 655.6,99.7" fill="none" stroke="#fff" stroke-opacity="0.11" stroke-width="0.8"/>
<path d="M468.3,340.5 C468.8,335.3 469.0,319.1 471.4,308.9 C473.8,298.6 477.0,287.8 482.6,279.0 C488.1,270.3 496.4,262.5 504.8,256.2 C513.2,250.0 524.6,247.8 533.0,241.5 C541.4,235.2 551.4,222.4 555.1,218.6" fill="none" stroke="#000" stroke-opacity="0.08" stroke-width="1.3"/>
<path d="M512.1,219.0 C512.2,215.4 510.6,204.1 512.8,197.6 C515.0,191.1 521.4,186.2 525.3,180.2 C529.1,174.1 530.9,166.5 535.7,161.5 C540.5,156.4 549.5,155.3 553.8,150.1 C558.2,144.9 560.4,133.5 561.7,130.2" fill="none" stroke="#fff" stroke-opacity="0.24" stroke-width="0.8"/>
<path d="M625.4,196.0 C621.6,194.9 608.6,193.6 602.2,189.3 C595.8,185.1 593.1,175.6 587.2,170.3 C581.2,165.1 573.9,160.1 566.4,157.9 C558.9,155.7 550.3,157.0 542.2,157.1 C534.2,157.1 522.1,158.0 518.0,158.2" fill="none" stroke="#fff" stroke-opacity="0.12" stroke-width="1.3"/>
<path d="M460.6,248.7 C463.8,247.8 473.3,243.6 479.7,243.3 C486.1,243.0 492.7,247.2 499.1,246.9 C505.5,246.5 512.9,244.7 518.1,241.3 C523.4,237.8 525.7,230.1 530.7,226.0 C535.8,221.9 545.4,218.4 548.3,216.8" fill="none" stroke="#000" stroke-opacity="0.09" stroke-width="1.3"/>
<path d="M574.1,334.7 C576.4,330.7 586.0,319.1 587.8,310.5 C589.5,301.8 584.2,291.9 584.7,282.8 C585.2,273.7 588.3,264.5 590.9,255.7 C593.6,246.8 600.3,238.2 600.3,229.5 C600.4,220.7 592.7,207.6 591.1,203.2" fill="none" stroke="#fff" stroke-opacity="0.24" stroke-width="1.2"/>
<path d="M588.6,196.3 C586.2,191.7 578.8,178.2 574.4,168.9 C570.0,159.6 564.7,150.4 562.2,140.6 C559.8,130.7 563.3,119.0 559.7,109.8 C556.1,100.6 548.7,91.5 540.8,85.4 C532.9,79.3 517.2,75.2 512.5,73.2" fill="none" stroke="#fff" stroke-opacity="0.27" stroke-width="0.9"/>
<path d="M474.4,240.2 C474.6,242.1 475.2,247.9 475.9,251.7 C476.6,255.5 478.5,259.2 478.7,263.0 C478.8,266.8 476.4,270.8 476.7,274.5 C476.9,278.3 479.7,281.9 480.0,285.7 C480.3,289.5 478.6,295.3 478.4,297.2" fill="none" stroke="#fff" stroke-opacity="0.15" stroke-width="1.3"/>
<path d="M435.7,203.5 C435.9,205.8 435.2,213.1 436.6,217.4 C437.9,221.8 442.0,225.2 443.7,229.5 C445.4,233.7 447.1,238.6 446.9,243.1 C446.6,247.6 442.9,251.7 442.1,256.3 C441.4,260.8 442.2,267.9 442.2,270.2" fill="none" stroke="#000" stroke-opacity="0.06" stroke-width="1.3"/>
<circle cx="590.4" cy="215.3" r="1.9" fill="#fff" fill-opacity="0.58"/>
<circle cx="528.9" cy="252.4" r="1.2" fill="#fff" fill-opacity="0.41"/>
<circle cx="674.5" cy="319.3" r="1.0" fill="#fff" fill-opacity="0.67"/>
<circle cx="621.7" cy="158.8" r="0.9" fill="#fff" fill-opacity="0.47"/>
<circle cx="662.5" cy="302.4" r="1.1" fill="#fff" fill-opacity="0.48"/>
<circle cx="671.4" cy="191.9" r="0.9" fill="#fff" fill-opacity="0.47"/>
<circle cx="613.9" cy="302.2" r="1.9" fill="#fff" fill-opacity="0.30"/>
<circle cx="495.1" cy="178.4" r="1.5" fill="#fff" fill-opacity="0.46"/>
<circle cx="670.7" cy="259.4" r="1.5" fill="#fff" fill-opacity="0.57"/>
<circle cx="502.0" cy="305.9" r="1.8" fill="#fff" fill-opacity="0.63"/>
<circle cx="637.8" cy="185.7" r="0.9" fill="#fff" fill-opacity="0.45"/>
<circle cx="622.4" cy="190.4" r="1.8" fill="#fff" fill-opacity="0.64"/>
<circle cx="617.7" cy="237.6" r="1.0" fill="#fff" fill-opacity="0.62"/>
<circle cx="494.4" cy="239.5" r="1.7" fill="#fff" fill-opacity="0.55"/>
<circle cx="509.3" cy="303.3" r="1.2" fill="#fff" fill-opacity="0.47"/>
<circle cx="556.9" cy="273.7" r="0.8" fill="#fff" fill-opacity="0.56"/>
<circle cx="568.5" cy="290.3" r="1.2" fill="#fff" fill-opacity="0.53"/>
<circle cx="681.4" cy="166.7" r="1.8" fill="#fff" fill-opacity="0.49"/>
<circle cx="524.3" cy="202.7" r="1.1" fill="#fff" fill-opacity="0.64"/>
<circle cx="501.4" cy="317.1" r="1.4" fill="#fff" fill-opacity="0.41"/>
<circle cx="638.0" cy="253.7" r="1.9" fill="#fff" fill-opacity="0.36"/>
<circle cx="616.6" cy="161.6" r="1.0" fill="#fff" fill-opacity="0.47"/>
<circle cx="527.5" cy="204.0" r="1.5" fill="#fff" fill-opacity="0.60"/>
<circle cx="551.6" cy="241.6" r="1.7" fill="#fff" fill-opacity="0.39"/>
<circle cx="688.5" cy="160.9" r="1.2" fill="#fff" fill-opacity="0.63"/>
<circle cx="509.1" cy="212.0" r="1.0" fill="#fff" fill-opacity="0.69"/>
<circle cx="659.9" cy="170.5" r="1.4" fill="#fff" fill-opacity="0.36"/>
<circle cx="458.1" cy="193.8" r="1.6" fill="#fff" fill-opacity="0.51"/>
<circle cx="521.4" cy="253.5" r="0.9" fill="#fff" fill-opacity="0.44"/>
<circle cx="476.9" cy="294.2" r="1.3" fill="#fff" fill-opacity="0.59"/>
<circle cx="532.7" cy="226.1" r="1.5" fill="#fff" fill-opacity="0.40"/>
<circle cx="582.5" cy="285.5" r="0.9" fill="#fff" fill-opacity="0.38"/>
<circle cx="458.6" cy="238.3" r="0.9" fill="#fff" fill-opacity="0.51"/>
<circle cx="491.7" cy="244.5" r="1.1" fill="#fff" fill-opacity="0.60"/>
<circle cx="645.6" cy="316.6" r="1.4" fill="#fff" fill-opacity="0.66"/>
<circle cx="656.5" cy="212.9" r="2.0" fill="#fff" fill-opacity="0.68"/>
<circle cx="490.8" cy="282.1" r="1.6" fill="#fff" fill-opacity="0.55"/>
<circle cx="621.0" cy="203.3" r="1.8" fill="#fff" fill-opacity="0.59"/>
<circle cx="496.9" cy="317.7" r="1.7" fill="#fff" fill-opacity="0.32"/>
<circle cx="461.4" cy="185.2" r="1.6" fill="#fff" fill-opacity="0.59"/>
<circle cx="672.8" cy="304.0" r="1.0" fill="#fff" fill-opacity="0.38"/>
<circle cx="473.8" cy="221.9" r="1.3" fill="#fff" fill-opacity="0.45"/>
<circle cx="646.9" cy="259.0" r="1.8" fill="#fff" fill-opacity="0.64"/>
<circle cx="633.8" cy="242.5" r="1.3" fill="#fff" fill-opacity="0.51"/>
<circle cx="562.0" cy="268.3" r="1.8" fill="#fff" fill-opacity="0.57"/>
<circle cx="513.6" cy="250.9" r="1.3" fill="#fff" fill-opacity="0.35"/>
<circle cx="478.6" cy="232.0" r="1.9" fill="#fff" fill-opacity="0.58"/>
<circle cx="466.9" cy="309.5" r="1.7" fill="#fff" fill-opacity="0.54"/>
<circle cx="455.3" cy="208.6" r="1.2" fill="#fff" fill-opacity="0.49"/>
<circle cx="482.7" cy="261.8" r="1.5" fill="#fff" fill-opacity="0.56"/>
<circle cx="570.1" cy="249.8" r="0.9" fill="#fff" fill-opacity="0.63"/>
<circle cx="658.0" cy="298.7" r="1.7" fill="#fff" fill-opacity="0.40"/>
<circle cx="522.9" cy="165.5" r="1.7" fill="#fff" fill-opacity="0.64"/>
<circle cx="674.1" cy="256.9" r="1.8" fill="#fff" fill-opacity="0.64"/>
<circle cx="482.2" cy="168.4" r="1.9" fill="#fff" fill-opacity="0.69"/>
<circle cx="622.2" cy="260.1" r="1.3" fill="#fff" fill-opacity="0.64"/>
<circle cx="520.8" cy="166.0" r="1.8" fill="#fff" fill-opacity="0.32"/>
<circle cx="622.2" cy="265.2" r="0.9" fill="#fff" fill-opacity="0.47"/>
<circle cx="517.8" cy="291.3" r="1.7" fill="#fff" fill-opacity="0.43"/>
<circle cx="490.1" cy="214.0" r="1.3" fill="#fff" fill-opacity="0.54"/>
<circle cx="676.7" cy="210.4" r="2.5" fill="#fff" fill-opacity="0.39" stroke="#000" stroke-opacity="0.15" stroke-width="1"/>
<circle cx="628.1" cy="267.2" r="3.9" fill="#fff" fill-opacity="0.44" stroke="#000" stroke-opacity="0.11" stroke-width="1"/>
<circle cx="637.9" cy="187.4" r="3.7" fill="#fff" fill-opacity="0.37" stroke="#000" stroke-opacity="0.17" stroke-width="1"/>
<circle cx="480.2" cy="233.4" r="3.0" fill="#fff" fill-opacity="0.28" stroke="#000" stroke-opacity="0.15" stroke-width="1"/>
<circle cx="551.1" cy="191.4" r="4.4" fill="#fff" fill-opacity="0.48" stroke="#000" stroke-opacity="0.24" stroke-width="1"/>
<circle cx="496.2" cy="195.6" r="3.4" fill="#fff" fill-opacity="0.38" stroke="#000" stroke-opacity="0.20" stroke-width="1"/>
<circle cx="592.4" cy="239.0" r="5.5" fill="#fff" fill-opacity="0.49" stroke="#000" stroke-opacity="0.22" stroke-width="1"/>
<circle cx="513.1" cy="284.7" r="2.1" fill="#fff" fill-opacity="0.48" stroke="#000" stroke-opacity="0.20" stroke-width="1"/>
<circle cx="671.4" cy="227.5" r="4.5" fill="#fff" fill-opacity="0.28" stroke="#000" stroke-opacity="0.24" stroke-width="1"/>
<circle cx="495.8" cy="158.5" r="3.0" fill="#fff" fill-opacity="0.40" stroke="#000" stroke-opacity="0.17" stroke-width="1"/>
<circle cx="643.7" cy="270.8" r="4.7" fill="#fff" fill-opacity="0.48" stroke="#000" stroke-opacity="0.09" stroke-width="1"/>
<circle cx="478.7" cy="205.0" r="2.5" fill="#fff" fill-opacity="0.37" stroke="#000" stroke-opacity="0.20" stroke-width="1"/>
<circle cx="496.5" cy="239.6" r="2.9" fill="#fff" fill-opacity="0.21" stroke="#000" stroke-opacity="0.13" stroke-width="1"/>
<circle cx="516.2" cy="271.5" r="5.4" fill="#fff" fill-opacity="0.22" stroke="#000" stroke-opacity="0.16" stroke-width="1"/>
<circle cx="563.0" cy="261.5" r="2.5" fill="#fff" fill-opacity="0.49" stroke="#000" stroke-opacity="0.13" stroke-width="1"/>
<circle cx="589.9" cy="224.9" r="4.0" fill="#fff" fill-opacity="0.46" stroke="#000" stroke-opacity="0.19" stroke-width="1"/>
<circle cx="534.0" cy="315.5" r="2.6" fill="#fff" fill-opacity="0.49" stroke="#000" stroke-opacity="0.19" stroke-width="1"/>
<circle cx="511.3" cy="321.1" r="5.0" fill="#fff" fill-opacity="0.35" stroke="#000" stroke-opacity="0.22" stroke-width="1"/>
<circle cx="475.9" cy="202.8" r="3.7" fill="#fff" fill-opacity="0.48" stroke="#000" stroke-opacity="0.14" stroke-width="1"/>
<circle cx="687.1" cy="253.5" r="4.5" fill="#fff" fill-opacity="0.43" stroke="#000" stroke-opacity="0.10" stroke-width="1"/>
<circle cx="669.9" cy="255.7" r="2.4" fill="#fff" fill-opacity="0.25" stroke="#000" stroke-opacity="0.22" stroke-width="1"/>
<circle cx="585.9" cy="311.3" r="5.0" fill="#fff" fill-opacity="0.36" stroke="#000" stroke-opacity="0.15" stroke-width="1"/>
<circle cx="633.0" cy="319.7" r="3.1" fill="#fff" fill-opacity="0.36" stroke="#000" stroke-opacity="0.10" stroke-width="1"/>
<circle cx="464.2" cy="167.2" r="3.3" fill="#fff" fill-opacity="0.39" stroke="#000" stroke-opacity="0.23" stroke-width="1"/>
<circle cx="630.2" cy="317.4" r="2.9" fill="#fff" fill-opacity="0.46" stroke="#000" stroke-opacity="0.13" stroke-width="1"/>
<circle cx="542.0" cy="247.4" r="5.5" fill="#fff" fill-opacity="0.34" stroke="#000" stroke-opacity="0.09" stroke-width="1"/>
<circle cx="540.0" cy="251.4" r="4.4" fill="#fff" fill-opacity="0.25" stroke="#000" stroke-opacity="0.13" stroke-width="1"/>
<circle cx="492.9" cy="242.3" r="3.4" fill="#fff" fill-opacity="0.30" stroke="#000" stroke-opacity="0.17" stroke-width="1"/>
<circle cx="631.0" cy="259.5" r="4.6" fill="#fff" fill-opacity="0.32" stroke="#000" stroke-opacity="0.24" stroke-width="1"/>
<circle cx="481.3" cy="169.0" r="2.3" fill="#fff" fill-opacity="0.34" stroke="#000" stroke-opacity="0.14" stroke-width="1"/>
</g>
<clipPath id="c3"><rect x="696.4" y="156" width="234.1" height="167.4"/></clipPath>
<g clip-path="url(#c3)">
<rect x="696.4" y="156" width="234.1" height="167.4" fill="#8f8f8f"/>
<rect x="696.4" y="156" width="234.1" height="167.4" fill="#8f8f8f" filter="url(#tex)" opacity="0.5"/>
<path d="M717.0,263.8 C718.5,267.9 722.5,280.6 726.2,288.6 C729.9,296.6 735.6,303.7 739.3,311.7 C743.0,319.7 745.8,328.2 748.4,336.6 C751.1,345.0 750.6,355.2 755.2,362.3 C759.8,369.3 772.5,376.0 775.9,378.8" fill="none" stroke="#000" stroke-opacity="0.11" stroke-width="1.2"/>
<path d="M818.8,318.4 C817.5,315.8 814.5,306.8 810.7,302.6 C806.8,298.3 799.8,297.0 795.7,292.9 C791.7,288.7 788.7,283.2 786.3,277.8 C783.8,272.5 782.4,266.5 781.1,260.8 C779.8,255.0 779.0,246.1 778.6,243.1" fill="none" stroke="#000" stroke-opacity="0.10" stroke-width="1.2"/>
<path d="M737.3,246.0 C739.1,249.6 745.5,260.0 748.3,267.5 C751.1,275.0 750.8,283.7 754.0,291.0 C757.2,298.2 761.5,306.1 767.4,311.0 C773.4,315.9 782.0,318.3 789.6,320.6 C797.3,322.9 809.4,324.1 813.4,324.7" fill="none" stroke="#000" stroke-opacity="0.13" stroke-width="1.2"/>
<path d="M881.3,225.4 C879.0,230.1 869.8,243.7 867.1,253.6 C864.4,263.6 866.6,274.7 865.3,285.2 C864.1,295.6 862.5,306.1 859.6,316.2 C856.8,326.3 851.6,335.8 848.3,345.8 C845.1,355.8 841.3,371.1 839.9,376.2" fill="none" stroke="#000" stroke-opacity="0.12" stroke-width="1.1"/>
<path d="M859.7,320.3 C861.4,316.6 864.7,303.7 869.9,298.0 C875.2,292.2 884.4,290.1 891.4,285.8 C898.4,281.5 904.7,276.1 911.9,272.2 C919.0,268.3 926.6,263.5 934.4,262.3 C942.3,261.1 954.8,264.4 958.9,264.9" fill="none" stroke="#000" stroke-opacity="0.13" stroke-width="1.1"/>
<path d="M880.1,260.5 C883.6,258.6 893.9,250.4 901.4,249.2 C909.0,248.0 917.4,251.9 925.3,253.4 C933.2,255.0 940.9,257.4 948.9,258.6 C956.9,259.8 965.9,257.5 973.0,260.4 C980.2,263.2 988.7,273.1 991.8,275.7" fill="none" stroke="#000" stroke-opacity="0.15" stroke-width="0.9"/>
<path d="M696.3,314.0 C697.7,311.3 701.3,302.9 704.7,298.1 C708.2,293.2 712.0,287.7 717.0,284.9 C722.0,282.1 729.2,283.6 734.6,281.2 C740.0,278.9 744.6,274.6 749.4,271.0 C754.2,267.4 761.0,261.5 763.4,259.6" fill="none" stroke="#000" stroke-opacity="0.13" stroke-width="1.0"/>
<path d="M790.1,165.6 C788.4,167.2 782.8,171.5 779.6,174.8 C776.3,178.1 772.5,181.4 770.5,185.5 C768.5,189.5 767.4,194.7 767.6,199.2 C767.9,203.6 769.6,208.6 772.0,212.4 C774.5,216.2 780.5,220.4 782.2,222.0" fill="none" stroke="#000" stroke-opacity="0.10" stroke-width="1.0"/>
<path d="M876.0,221.9 C876.7,224.0 879.5,230.0 880.2,234.1 C880.8,238.3 879.2,242.9 880.0,247.0 C880.8,251.2 883.3,255.0 885.0,258.9 C886.8,262.8 889.7,266.4 890.7,270.5 C891.7,274.6 890.9,281.2 891.0,283.4" fill="none" stroke="#000" stroke-opacity="0.14" stroke-width="1.1"/>
<path d="M907.4,269.2 C908.4,270.7 912.0,274.7 913.3,277.8 C914.7,280.9 914.5,284.7 915.4,288.0 C916.4,291.3 918.6,294.4 919.0,297.7 C919.4,301.1 919.2,305.1 917.8,308.1 C916.4,311.1 911.8,314.3 910.6,315.6" fill="none" stroke="#000" stroke-opacity="0.15" stroke-width="1.1"/>
<path d="M678.5,193.3 C678.1,197.4 679.3,210.7 676.3,218.1 C673.4,225.5 666.7,231.9 660.7,237.5 C654.7,243.1 647.8,249.4 640.3,251.6 C632.7,253.8 623.6,251.8 615.4,250.7 C607.2,249.6 595.2,246.0 591.2,245.0" fill="none" stroke="#000" stroke-opacity="0.11" stroke-width="1.4"/>
<path d="M751.5,297.5 C748.0,293.8 738.8,280.8 730.5,275.3 C722.3,269.7 709.6,270.2 702.2,264.0 C694.7,257.8 693.0,244.9 685.9,238.2 C678.7,231.4 668.2,228.0 659.2,223.4 C650.1,218.7 636.1,212.6 631.5,210.4" fill="none" stroke="#000" stroke-opacity="0.12" stroke-width="1.1"/>
<path d="M917.4,334.2 C915.7,334.9 910.3,337.1 906.9,338.8 C903.4,340.5 899.7,341.8 896.7,344.1 C893.7,346.4 890.7,349.4 889.0,352.6 C887.3,355.9 886.0,360.2 886.4,363.8 C886.8,367.4 890.6,372.4 891.4,374.1" fill="none" stroke="#000" stroke-opacity="0.12" stroke-width="1.0"/>
<path d="M828.9,327.7 C824.7,331.2 813.2,343.6 803.9,349.0 C794.6,354.3 783.7,358.2 773.0,360.0 C762.4,361.8 750.1,363.0 740.3,359.6 C730.5,356.2 724.1,342.9 714.3,339.6 C704.5,336.3 686.9,339.6 681.5,339.6" fill="none" stroke="#000" stroke-opacity="0.11" stroke-width="1.2"/>
<path d="M840.4,233.7 C837.1,237.8 828.3,251.2 820.8,258.3 C813.2,265.5 804.6,273.6 795.1,276.5 C785.5,279.4 774.1,276.3 763.6,275.7 C753.1,275.0 742.2,270.5 732.3,272.5 C722.4,274.4 709.1,284.7 704.5,287.2" fill="none" stroke="#000" stroke-opacity="0.13" stroke-width="0.9"/>
<path d="M882.2,270.5 C883.7,271.8 887.9,276.4 891.4,278.2 C894.9,279.9 899.9,279.0 903.0,281.0 C906.2,283.1 907.4,287.9 910.4,290.5 C913.3,293.1 918.0,293.8 920.7,296.6 C923.4,299.3 925.5,305.3 926.4,307.0" fill="none" stroke="#000" stroke-opacity="0.07" stroke-width="1.0"/>
<path d="M805.8,210.3 C808.1,209.7 815.5,208.9 819.7,206.8 C823.8,204.8 828.2,201.8 830.9,198.1 C833.6,194.4 833.7,188.9 836.0,184.8 C838.2,180.7 842.0,177.4 844.4,173.3 C846.7,169.2 849.1,162.4 850.0,160.2" fill="none" stroke="#000" stroke-opacity="0.11" stroke-width="1.3"/>
<path d="M700.8,147.3 C695.8,144.6 681.2,136.1 671.1,131.0 C661.1,125.8 648.0,124.1 640.5,116.6 C633.0,109.1 628.3,96.8 626.0,86.0 C623.8,75.3 623.1,62.1 626.9,52.2 C630.7,42.3 645.3,30.8 648.9,26.5" fill="none" stroke="#000" stroke-opacity="0.11" stroke-width="1.5"/>
<path d="M691.7,233.9 C693.3,231.3 698.1,223.6 700.9,218.2 C703.8,212.9 706.8,207.6 709.0,202.0 C711.2,196.4 711.3,189.7 714.2,184.6 C717.1,179.4 721.3,173.8 726.3,171.1 C731.3,168.3 741.2,168.4 744.2,167.8" fill="none" stroke="#000" stroke-opacity="0.08" stroke-width="1.0"/>
<path d="M896.7,290.3 C900.3,287.9 910.3,278.9 918.2,276.1 C926.0,273.3 935.2,273.5 943.8,273.4 C952.3,273.3 960.9,276.2 969.4,275.6 C977.9,275.0 987.3,274.0 994.5,270.0 C1001.7,266.0 1009.5,254.6 1012.4,251.6" fill="none" stroke="#000" stroke-opacity="0.15" stroke-width="1.4"/>
<path d="M920.8,190.9 C918.3,186.2 913.2,169.4 905.8,162.4 C898.4,155.5 886.7,151.3 876.4,149.3 C866.2,147.3 854.5,148.0 844.3,150.4 C834.0,152.9 825.1,160.6 815.0,163.8 C804.8,167.0 788.6,168.6 783.3,169.5" fill="none" stroke="#000" stroke-opacity="0.14" stroke-width="1.4"/>
<path d="M865.3,338.9 C868.2,340.2 877.7,343.3 883.0,346.8 C888.4,350.2 892.2,356.3 897.6,359.6 C903.1,362.9 909.9,363.9 915.8,366.6 C921.6,369.2 926.8,374.0 932.9,375.6 C939.0,377.2 949.1,376.0 952.4,376.1" fill="none" stroke="#000" stroke-opacity="0.10" stroke-width="1.4"/>
<path d="M679.1,247.3 C677.8,249.4 673.8,256.0 671.0,260.3 C668.2,264.6 664.8,268.5 662.4,273.1 C660.1,277.6 657.5,282.6 657.1,287.5 C656.7,292.4 658.8,297.6 660.2,302.5 C661.6,307.4 664.6,314.5 665.4,316.9" fill="none" stroke="#000" stroke-opacity="0.13" stroke-width="0.9"/>
<path d="M891.6,153.3 C888.8,152.4 879.6,151.0 875.0,147.8 C870.3,144.7 866.6,139.4 863.6,134.5 C860.6,129.5 860.1,123.2 857.2,118.2 C854.3,113.1 850.5,108.4 846.4,104.3 C842.3,100.2 834.9,95.3 832.6,93.5" fill="none" stroke="#000" stroke-opacity="0.14" stroke-width="1.2"/>
<path d="M850.5,286.1 C849.7,289.0 846.6,297.6 845.7,303.5 C844.8,309.4 846.7,315.9 845.1,321.5 C843.5,327.1 837.7,331.5 836.1,337.1 C834.5,342.7 833.7,349.7 835.4,355.1 C837.1,360.5 844.4,367.1 846.1,369.5" fill="none" stroke="#000" stroke-opacity="0.11" stroke-width="1.0"/>
<path d="M839.7,295.7 C843.2,295.9 854.3,294.8 860.6,297.1 C866.9,299.4 873.2,304.3 877.5,309.6 C881.9,314.8 885.5,321.8 886.7,328.4 C887.9,335.0 886.7,342.6 884.9,349.3 C883.2,356.0 877.7,365.3 876.3,368.5" fill="none" stroke="#000" stroke-opacity="0.09" stroke-width="1.2"/>
<path d="M825.5,212.3 C822.6,215.2 812.4,222.9 807.6,229.5 C802.8,236.2 799.7,244.2 796.9,252.0 C794.1,259.8 791.0,268.1 790.9,276.1 C790.9,284.2 794.1,292.5 796.7,300.3 C799.4,308.1 805.3,319.2 807.0,323.0" fill="none" stroke="#000" stroke-opacity="0.10" stroke-width="0.9"/>
<path d="M853.2,207.3 C854.7,205.5 858.4,198.6 862.3,196.2 C866.1,193.9 872.1,195.2 876.3,193.2 C880.5,191.2 884.0,187.5 887.4,184.2 C890.8,180.9 892.8,175.6 896.7,173.3 C900.6,171.1 908.4,171.0 910.8,170.5" fill="none" stroke="#000" stroke-opacity="0.10" stroke-width="1.0"/>
<path d="M718.5,308.0 C715.7,312.4 705.4,324.7 702.1,334.2 C698.8,343.6 703.0,356.1 698.7,364.8 C694.5,373.5 685.3,381.7 676.6,386.4 C667.9,391.0 656.6,392.4 646.4,392.8 C636.3,393.2 621.0,389.3 615.9,388.6" fill="none" stroke="#000" stroke-opacity="0.12" stroke-width="1.3"/>
<path d="M936.2,176.9 C937.0,181.5 942.4,195.7 940.9,204.3 C939.4,212.9 933.4,222.0 927.3,228.6 C921.2,235.3 912.0,239.1 904.3,244.2 C896.5,249.3 887.0,252.6 880.8,259.1 C874.5,265.6 869.0,279.1 866.7,283.1" fill="none" stroke="#000" stroke-opacity="0.12" stroke-width="1.2"/>
<path d="M835.5,297.5 C830.3,297.6 814.0,295.3 804.2,297.8 C794.4,300.3 786.4,309.7 776.6,312.3 C766.8,314.9 755.2,310.7 745.4,313.4 C735.7,316.0 727.8,326.2 718.0,328.3 C708.2,330.4 692.1,326.5 686.9,326.1" fill="none" stroke="#000" stroke-opacity="0.15" stroke-width="0.9"/>
<path d="M731.6,281.7 C728.6,281.4 719.7,280.0 713.9,280.2 C708.0,280.5 701.6,280.6 696.3,282.9 C691.1,285.2 687.2,290.4 682.4,293.9 C677.6,297.4 673.1,302.0 667.7,303.8 C662.3,305.7 653.0,304.9 650.0,305.1" fill="none" stroke="#000" stroke-opacity="0.16" stroke-width="0.9"/>
<path d="M880.9,203.2 C883.1,201.1 890.4,195.5 894.3,190.9 C898.2,186.4 901.0,180.9 904.5,175.9 C907.9,171.0 912.7,166.6 915.0,161.1 C917.2,155.7 915.9,148.8 917.9,143.2 C920.0,137.6 925.7,130.3 927.2,127.7" fill="none" stroke="#000" stroke-opacity="0.09" stroke-width="1.3"/>
<path d="M740.1,237.9 C738.4,236.4 732.5,232.7 729.9,229.2 C727.4,225.7 726.9,220.8 724.9,216.8 C722.9,212.8 720.7,208.8 718.1,205.3 C715.4,201.7 711.7,199.0 709.0,195.5 C706.2,192.0 702.8,186.2 701.6,184.3" fill="none" stroke="#000" stroke-opacity="0.13" stroke-width="1.4"/>
<path d="M831.3,313.1 C836.6,312.7 852.7,309.9 863.2,310.4 C873.8,310.9 884.7,313.0 894.8,316.3 C904.8,319.7 913.6,326.6 923.5,330.6 C933.4,334.6 943.9,340.0 954.1,340.3 C964.4,340.6 980.1,333.8 985.3,332.5" fill="none" stroke="#000" stroke-opacity="0.15" stroke-width="1.1"/>
<path d="M769.0,249.9 C766.7,245.5 757.7,233.2 754.8,223.9 C751.9,214.7 749.8,203.7 751.7,194.5 C753.6,185.3 759.2,174.9 766.1,168.7 C773.1,162.6 784.1,158.3 793.5,157.5 C802.9,156.8 817.5,163.1 822.3,164.2" fill="none" stroke="#000" stroke-opacity="0.12" stroke-width="1.4"/>
<path d="M838.3,312.0 C840.8,310.4 847.7,304.5 853.1,302.1 C858.4,299.8 864.7,297.5 870.3,297.9 C875.9,298.3 882.3,300.9 886.8,304.3 C891.3,307.8 893.7,314.0 897.3,318.7 C901.0,323.3 906.7,330.1 908.6,332.4" fill="none" stroke="#000" stroke-opacity="0.10" stroke-width="0.9"/>
<path d="M909.8,192.4 C910.2,194.1 911.1,199.4 912.0,202.8 C912.9,206.2 914.9,209.5 915.3,212.9 C915.7,216.4 913.6,220.2 914.4,223.5 C915.1,226.8 917.8,229.7 919.6,232.8 C921.3,235.9 924.1,240.4 925.0,241.9" fill="none" stroke="#000" stroke-opacity="0.13" stroke-width="1.3"/>
<path d="M728.5,235.7 C727.6,230.5 724.2,215.0 723.0,204.5 C721.9,194.0 719.2,182.7 721.4,172.8 C723.7,162.8 730.7,153.6 736.5,144.8 C742.3,136.0 748.1,126.5 756.0,119.8 C763.9,113.0 779.1,106.9 783.7,104.3" fill="none" stroke="#000" stroke-opacity="0.09" stroke-width="1.1"/>
<path d="M680.2,301.6 C679.1,299.8 676.4,293.8 673.5,290.8 C670.7,287.8 667.0,284.6 663.1,283.5 C659.3,282.4 654.6,284.5 650.4,284.1 C646.3,283.6 642.2,280.6 638.2,280.7 C634.1,280.7 628.1,284.0 626.1,284.6" fill="none" stroke="#000" stroke-opacity="0.13" stroke-width="0.9"/>
<path d="M682.6,288.8 C680.4,285.2 672.5,275.1 669.1,267.6 C665.8,260.0 666.4,250.5 662.6,243.3 C658.8,236.1 651.9,230.3 646.1,224.3 C640.3,218.3 633.4,213.2 627.7,207.2 C621.9,201.1 614.3,191.0 611.6,187.8" fill="none" stroke="#000" stroke-opacity="0.15" stroke-width="1.3"/>
<path d="M810.1,306.0 C810.4,303.6 813.1,296.1 812.2,291.7 C811.4,287.2 806.1,283.7 804.8,279.2 C803.5,274.8 805.5,269.4 804.5,264.7 C803.4,260.1 800.2,256.0 798.5,251.5 C796.7,247.0 794.7,240.1 794.0,237.8" fill="none" stroke="#000" stroke-opacity="0.11" stroke-width="1.3"/>
<path d="M933.6,272.2 C936.2,274.2 943.6,280.3 949.0,283.7 C954.4,287.1 961.0,288.7 966.0,292.5 C971.1,296.3 975.4,301.4 979.2,306.5 C983.1,311.5 986.4,317.2 989.2,322.9 C992.0,328.6 994.9,337.8 996.1,340.8" fill="none" stroke="#000" stroke-opacity="0.15" stroke-width="1.5"/>
<path d="M745.4,281.5 C745.5,280.1 745.8,275.7 745.7,272.8 C745.6,269.9 744.7,267.1 744.8,264.2 C744.8,261.3 746.1,258.4 746.0,255.6 C745.8,252.7 744.7,249.9 743.9,247.1 C743.0,244.3 741.4,240.3 740.9,238.9" fill="none" stroke="#000" stroke-opacity="0.07" stroke-width="1.5"/>
<path d="M687.9,151.1 C686.4,147.5 679.7,137.1 679.0,129.8 C678.4,122.6 681.4,114.5 684.1,107.4 C686.8,100.3 691.7,94.1 695.1,87.3 C698.6,80.4 700.6,72.7 704.7,66.4 C708.8,60.0 717.4,52.0 719.9,49.2" fill="none" stroke="#000" stroke-opacity="0.15" stroke-width="1.4"/>
<path d="M776.2,296.6 C774.7,299.2 771.1,307.7 767.5,312.4 C763.8,317.0 758.2,320.2 754.1,324.5 C749.9,328.8 746.5,333.8 742.5,338.3 C738.5,342.8 734.1,346.9 730.1,351.4 C726.2,356.0 720.8,363.2 718.9,365.6" fill="none" stroke="#000" stroke-opacity="0.13" stroke-width="1.2"/>
<path d="M800.6,223.0 C802.7,218.6 809.7,205.8 813.3,196.8 C816.9,187.9 817.0,176.9 822.2,169.2 C827.4,161.4 836.3,155.4 844.5,150.5 C852.7,145.6 862.3,142.7 871.5,139.8 C880.8,136.8 895.1,134.1 899.8,133.0" fill="none" stroke="#000" stroke-opacity="0.12" stroke-width="0.9"/>
<path d="M832.0,290.8 C829.2,292.2 821.1,296.8 815.4,299.2 C809.7,301.6 803.0,302.1 797.7,305.2 C792.4,308.2 789.0,314.6 783.7,317.5 C778.4,320.4 770.7,319.2 765.8,322.5 C760.8,325.7 755.9,334.4 753.9,336.8" fill="none" stroke="#000" stroke-opacity="0.14" stroke-width="1.2"/>
<path d="M745.1,188.1 C743.6,189.5 738.7,193.3 736.2,196.5 C733.8,199.7 731.2,203.4 730.4,207.2 C729.5,211.0 731.4,215.3 731.3,219.4 C731.2,223.4 731.3,228.0 729.6,231.5 C727.8,234.9 722.2,238.5 720.8,239.9" fill="none" stroke="#000" stroke-opacity="0.09" stroke-width="1.0"/>
<path d="M836.6,203.6 C833.2,202.0 823.1,196.5 816.0,193.8 C808.9,191.1 801.4,189.0 793.9,187.6 C786.5,186.3 778.5,187.5 771.1,185.8 C763.8,184.1 756.7,180.6 749.8,177.5 C742.8,174.4 732.8,168.9 729.4,167.2" fill="none" stroke="#000" stroke-opacity="0.15" stroke-width="1.1"/>
<circle cx="845.2" cy="241.4" r="4.1" fill="#fff" fill-opacity="0.35" stroke="#000" stroke-opacity="0.11" stroke-width="1"/>
<circle cx="725.4" cy="222.5" r="5.5" fill="#fff" fill-opacity="0.35" stroke="#000" stroke-opacity="0.16" stroke-width="1"/>
<circle cx="801.3" cy="285.9" r="3.2" fill="#fff" fill-opacity="0.32" stroke="#000" stroke-opacity="0.14" stroke-width="1"/>
<circle cx="830.3" cy="236.2" r="4.1" fill="#fff" fill-opacity="0.48" stroke="#000" stroke-opacity="0.14" stroke-width="1"/>
<circle cx="842.6" cy="322.1" r="4.6" fill="#fff" fill-opacity="0.45" stroke="#000" stroke-opacity="0.22" stroke-width="1"/>
<circle cx="742.4" cy="262.0" r="3.2" fill="#fff" fill-opacity="0.31" stroke="#000" stroke-opacity="0.10" stroke-width="1"/>
<circle cx="879.3" cy="310.5" r="5.0" fill="#fff" fill-opacity="0.33" stroke="#000" stroke-opacity="0.24" stroke-width="1"/>
<circle cx="884.6" cy="259.1" r="4.8" fill="#fff" fill-opacity="0.43" stroke="#000" stroke-opacity="0.08" stroke-width="1"/>
<circle cx="841.7" cy="264.8" r="3.3" fill="#fff" fill-opacity="0.44" stroke="#000" stroke-opacity="0.21" stroke-width="1"/>
<circle cx="717.7" cy="220.9" r="2.0" fill="#fff" fill-opacity="0.31" stroke="#000" stroke-opacity="0.10" stroke-width="1"/>
<circle cx="696.8" cy="205.9" r="4.5" fill="#fff" fill-opacity="0.25" stroke="#000" stroke-opacity="0.24" stroke-width="1"/>
<circle cx="740.0" cy="294.8" r="2.9" fill="#fff" fill-opacity="0.46" stroke="#000" stroke-opacity="0.17" stroke-width="1"/>
</g>
<clipPath id="c4"><rect x="937.8" y="158.5" width="234.9" height="166.0"/></clipPath>
<g clip-path="url(#c4)">
<rect x="937.8" y="158.5" width="234.9" height="166.0" fill="#bdbdbd"/>
<rect x="937.8" y="158.5" width="234.9" height="166.0" fill="#bdbdbd" filter="url(#tex)" opacity="0.6"/>
<path d="M1186.9,232.5 C1184.4,228.8 1178.5,215.5 1171.7,210.0 C1165.0,204.6 1154.7,203.8 1146.6,199.9 C1138.5,195.9 1131.6,188.5 1123.2,186.2 C1114.8,183.9 1105.1,185.4 1096.1,186.2 C1087.1,186.9 1073.8,189.9 1069.4,190.6" fill="none" stroke="#fff" stroke-opacity="0.14" stroke-width="0.9"/>
<path d="M940.4,184.3 C940.6,182.9 941.8,178.5 941.3,175.7 C940.9,173.0 939.4,170.1 937.6,167.9 C935.8,165.8 932.8,164.7 930.5,163.0 C928.2,161.3 926.1,159.0 923.6,157.9 C921.0,156.7 916.5,156.5 915.1,156.2" fill="none" stroke="#000" stroke-opacity="0.12" stroke-width="1.3"/>
<path d="M1031.9,300.4 C1027.0,299.9 1012.3,297.5 1002.6,297.4 C992.8,297.3 983.0,299.5 973.1,299.7 C963.3,299.9 952.5,301.9 943.7,298.7 C934.9,295.6 927.5,287.3 920.3,280.7 C913.1,274.1 903.6,262.7 900.3,259.1" fill="none" stroke="#000" stroke-opacity="0.08" stroke-width="1.0"/>
<path d="M977.1,341.7 C981.2,338.4 992.7,327.4 1001.6,322.2 C1010.5,317.0 1021.7,315.8 1030.6,310.6 C1039.5,305.4 1047.1,297.8 1055.2,291.3 C1063.3,284.7 1073.3,279.5 1079.2,271.4 C1085.2,263.2 1089.0,247.2 1090.9,242.4" fill="none" stroke="#000" stroke-opacity="0.08" stroke-width="0.9"/>
<path d="M1170.6,158.4 C1169.8,154.1 1167.5,141.2 1165.9,132.6 C1164.3,124.1 1159.5,115.1 1160.7,107.0 C1161.9,98.9 1167.1,89.4 1173.2,83.9 C1179.3,78.4 1189.1,76.9 1197.3,73.9 C1205.5,70.9 1218.2,67.3 1222.3,66.0" fill="none" stroke="#fff" stroke-opacity="0.12" stroke-width="1.0"/>
<path d="M1069.0,261.5 C1065.4,264.8 1055.5,276.1 1047.4,281.3 C1039.3,286.5 1027.5,286.6 1020.4,292.6 C1013.2,298.6 1009.6,308.8 1004.6,317.3 C999.7,325.7 992.4,334.0 990.9,343.1 C989.3,352.3 994.5,367.3 995.2,372.1" fill="none" stroke="#fff" stroke-opacity="0.14" stroke-width="1.2"/>
<path d="M1073.2,266.7 C1073.3,269.7 1074.1,278.8 1073.6,284.8 C1073.1,290.7 1070.9,296.5 1070.3,302.5 C1069.7,308.5 1070.1,314.5 1070.1,320.6 C1070.1,326.6 1069.6,332.7 1070.4,338.6 C1071.2,344.5 1074.1,353.1 1074.9,356.1" fill="none" stroke="#fff" stroke-opacity="0.12" stroke-width="1.0"/>
<path d="M1106.1,313.4 C1100.5,313.6 1083.0,317.4 1072.6,314.7 C1062.3,311.9 1054.4,300.7 1044.1,297.2 C1033.8,293.7 1021.9,293.8 1010.8,293.7 C999.7,293.6 988.2,298.0 977.4,296.6 C966.6,295.1 951.3,286.8 946.0,284.9" fill="none" stroke="#000" stroke-opacity="0.11" stroke-width="1.4"/>
<path d="M1177.3,279.0 C1175.3,281.0 1168.0,286.1 1165.6,290.8 C1163.1,295.5 1161.8,302.0 1162.6,307.2 C1163.4,312.4 1169.2,316.7 1170.3,321.9 C1171.5,327.2 1170.3,333.1 1169.5,338.5 C1168.7,344.0 1166.4,352.0 1165.7,354.7" fill="none" stroke="#000" stroke-opacity="0.09" stroke-width="1.0"/>
<path d="M1156.8,197.5 C1154.9,193.3 1150.7,179.9 1145.8,172.4 C1140.8,165.0 1133.1,159.3 1126.9,152.7 C1120.7,146.0 1115.2,138.6 1108.6,132.3 C1102.1,126.0 1094.3,121.0 1087.7,114.7 C1081.1,108.4 1072.3,97.9 1069.2,94.6" fill="none" stroke="#000" stroke-opacity="0.13" stroke-width="1.1"/>
<path d="M955.2,298.1 C958.8,295.7 968.7,286.4 976.5,283.7 C984.3,280.9 994.2,279.9 1002.2,281.8 C1010.1,283.6 1016.4,293.3 1024.3,294.8 C1032.2,296.4 1041.3,292.3 1049.7,290.9 C1058.2,289.5 1070.8,287.3 1075.0,286.5" fill="none" stroke="#000" stroke-opacity="0.08" stroke-width="1.0"/>
<path d="M1044.6,278.0 C1044.7,275.6 1043.2,267.6 1044.8,263.2 C1046.5,258.9 1050.7,255.0 1054.5,252.0 C1058.3,249.1 1063.2,247.5 1067.7,245.4 C1072.2,243.4 1077.6,242.7 1081.3,239.8 C1085.1,236.8 1088.6,229.8 1090.1,227.9" fill="none" stroke="#000" stroke-opacity="0.14" stroke-width="1.2"/>
<path d="M1154.2,299.9 C1152.6,295.4 1149.3,280.9 1144.6,272.6 C1139.9,264.4 1132.6,257.5 1126.1,250.4 C1119.6,243.3 1111.0,237.8 1105.6,230.0 C1100.3,222.1 1096.0,212.7 1094.1,203.4 C1092.1,194.2 1094.1,179.3 1094.1,174.5" fill="none" stroke="#fff" stroke-opacity="0.11" stroke-width="1.1"/>
<path d="M971.2,275.8 C970.2,272.4 964.8,262.1 965.1,255.3 C965.4,248.6 968.8,240.7 973.1,235.5 C977.5,230.3 986.6,229.1 991.1,224.0 C995.7,218.9 998.4,211.5 1000.5,204.8 C1002.6,198.1 1003.3,187.2 1003.9,183.7" fill="none" stroke="#fff" stroke-opacity="0.12" stroke-width="1.0"/>
<path d="M1173.7,233.4 C1173.3,231.9 1173.2,226.8 1171.7,224.3 C1170.1,221.8 1166.4,220.7 1164.5,218.3 C1162.5,216.0 1161.6,212.8 1160.2,210.0 C1158.8,207.2 1156.5,204.5 1156.2,201.6 C1155.8,198.6 1157.6,193.9 1157.9,192.4" fill="none" stroke="#fff" stroke-opacity="0.08" stroke-width="1.0"/>
<path d="M1020.9,179.3 C1024.7,181.0 1036.0,186.3 1043.6,189.4 C1051.3,192.5 1059.8,194.0 1067.0,198.0 C1074.2,201.9 1079.7,209.1 1086.9,212.9 C1094.1,216.8 1102.5,218.6 1110.5,221.0 C1118.4,223.3 1130.6,226.0 1134.6,227.0" fill="none" stroke="#000" stroke-opacity="0.08" stroke-width="1.3"/>
<path d="M944.9,220.8 C948.8,222.5 962.3,225.5 968.2,230.9 C974.2,236.2 976.4,245.7 980.7,253.0 C984.9,260.4 990.2,267.2 993.7,274.9 C997.2,282.5 999.0,291.0 1001.5,299.1 C1003.9,307.2 1007.3,319.4 1008.4,323.5" fill="none" stroke="#fff" stroke-opacity="0.12" stroke-width="1.2"/>
<path d="M926.6,167.7 C928.6,165.3 933.9,157.6 938.3,153.1 C942.6,148.6 947.1,143.7 952.5,140.9 C957.8,138.1 964.4,136.7 970.6,136.2 C976.7,135.6 983.8,135.4 989.2,137.8 C994.6,140.1 1000.8,148.2 1003.1,150.3" fill="none" stroke="#fff" stroke-opacity="0.14" stroke-width="1.1"/>
<path d="M991.3,161.2 C990.1,166.3 983.1,181.7 984.0,191.6 C984.8,201.4 989.6,213.0 996.2,220.3 C1002.8,227.7 1014.3,230.7 1023.5,235.5 C1032.7,240.3 1042.4,244.4 1051.6,249.2 C1060.8,254.0 1074.3,262.0 1078.8,264.6" fill="none" stroke="#000" stroke-opacity="0.05" stroke-width="1.0"/>
<path d="M1158.9,287.9 C1160.4,286.0 1166.0,280.5 1168.1,276.1 C1170.3,271.7 1171.2,266.5 1171.7,261.5 C1172.2,256.6 1169.8,251.1 1171.1,246.5 C1172.5,242.0 1177.7,238.7 1179.6,234.2 C1181.6,229.7 1182.1,221.9 1182.6,219.5" fill="none" stroke="#000" stroke-opacity="0.07" stroke-width="1.4"/>
<path d="M1106.7,260.2 C1109.9,259.1 1119.1,254.3 1125.5,253.3 C1132.0,252.2 1139.0,254.7 1145.6,254.0 C1152.2,253.3 1159.1,251.8 1165.0,249.1 C1171.0,246.3 1175.8,241.2 1181.4,237.5 C1186.9,233.7 1195.5,228.5 1198.3,226.7" fill="none" stroke="#000" stroke-opacity="0.13" stroke-width="1.3"/>
<path d="M1121.9,262.8 C1118.8,266.1 1109.9,276.6 1103.1,282.5 C1096.2,288.5 1088.8,294.3 1080.8,298.4 C1072.7,302.5 1062.7,302.7 1054.8,307.0 C1047.0,311.4 1038.9,317.3 1033.8,324.5 C1028.8,331.7 1026.2,346.0 1024.7,350.3" fill="none" stroke="#000" stroke-opacity="0.11" stroke-width="1.3"/>
<path d="M1048.1,250.5 C1049.7,250.5 1054.3,251.1 1057.4,250.7 C1060.4,250.4 1063.6,249.9 1066.4,248.7 C1069.2,247.5 1072.1,245.8 1074.1,243.5 C1076.1,241.3 1077.3,238.2 1078.4,235.4 C1079.5,232.5 1080.3,227.9 1080.7,226.4" fill="none" stroke="#000" stroke-opacity="0.13" stroke-width="1.5"/>
<path d="M1191.0,290.4 C1192.7,292.0 1198.3,296.6 1201.2,300.3 C1204.1,303.9 1207.1,308.1 1208.3,312.5 C1209.6,316.9 1207.6,322.2 1208.7,326.7 C1209.8,331.2 1212.1,335.7 1214.8,339.5 C1217.6,343.3 1223.4,347.6 1225.1,349.3" fill="none" stroke="#000" stroke-opacity="0.10" stroke-width="1.1"/>
<path d="M1047.2,167.0 C1049.4,169.1 1056.4,174.9 1060.3,179.4 C1064.2,184.0 1067.3,189.2 1070.5,194.3 C1073.6,199.4 1075.0,206.2 1079.1,210.2 C1083.2,214.1 1089.8,215.8 1095.3,218.2 C1100.8,220.6 1109.3,223.6 1112.1,224.7" fill="none" stroke="#000" stroke-opacity="0.11" stroke-width="1.1"/>
<path d="M1138.2,195.1 C1137.4,194.0 1134.5,191.0 1133.4,188.6 C1132.3,186.1 1131.6,183.2 1131.7,180.6 C1131.8,178.0 1133.5,175.5 1133.9,172.8 C1134.3,170.2 1134.5,167.3 1134.0,164.7 C1133.4,162.1 1131.2,158.5 1130.7,157.3" fill="none" stroke="#fff" stroke-opacity="0.11" stroke-width="0.9"/>
<path d="M1189.6,255.1 C1189.2,258.6 1188.2,269.2 1186.9,276.1 C1185.7,283.0 1183.2,289.7 1182.0,296.6 C1180.8,303.6 1179.8,310.6 1179.5,317.7 C1179.3,324.7 1181.5,331.8 1180.8,338.8 C1180.1,345.7 1176.1,355.8 1175.2,359.2" fill="none" stroke="#000" stroke-opacity="0.13" stroke-width="1.3"/>
<path d="M1177.2,170.2 C1178.3,166.0 1179.4,151.8 1183.8,144.5 C1188.2,137.3 1196.9,132.6 1203.4,126.6 C1209.9,120.7 1218.1,115.8 1223.0,108.8 C1227.9,101.7 1231.4,92.6 1232.9,84.1 C1234.5,75.6 1232.4,62.0 1232.3,57.6" fill="none" stroke="#fff" stroke-opacity="0.13" stroke-width="1.0"/>
<path d="M1163.1,146.3 C1163.9,142.3 1164.0,129.3 1167.5,122.3 C1171.0,115.3 1177.8,109.3 1184.2,104.4 C1190.6,99.5 1198.1,94.8 1205.7,92.8 C1213.4,90.8 1222.0,92.7 1230.2,92.4 C1238.3,92.1 1250.5,91.1 1254.6,90.8" fill="none" stroke="#fff" stroke-opacity="0.09" stroke-width="1.3"/>
<path d="M1124.2,221.8 C1124.1,217.3 1123.0,204.0 1123.2,195.1 C1123.4,186.2 1124.8,177.4 1125.5,168.5 C1126.1,159.7 1126.0,150.7 1127.2,141.9 C1128.3,133.1 1133.5,124.1 1132.4,115.8 C1131.3,107.4 1122.5,95.8 1120.6,91.9" fill="none" stroke="#fff" stroke-opacity="0.09" stroke-width="1.3"/>
<circle cx="994.5" cy="161.9" r="1.4" fill="#fff" fill-opacity="0.56"/>
<circle cx="1120.7" cy="248.3" r="1.9" fill="#fff" fill-opacity="0.37"/>
<circle cx="966.8" cy="225.5" r="1.6" fill="#fff" fill-opacity="0.61"/>
<circle cx="953.1" cy="257.8" r="1.2" fill="#fff" fill-opacity="0.51"/>
<circle cx="960.9" cy="185.3" r="1.6" fill="#fff" fill-opacity="0.44"/>
<circle cx="1167.1" cy="242.6" r="1.2" fill="#fff" fill-opacity="0.37"/>
<circle cx="1061.4" cy="243.3" r="1.1" fill="#fff" fill-opacity="0.69"/>
<circle cx="1057.3" cy="286.8" r="1.6" fill="#fff" fill-opacity="0.63"/>
<circle cx="962.0" cy="318.3" r="1.5" fill="#fff" fill-opacity="0.37"/>
<circle cx="1077.5" cy="168.0" r="1.3" fill="#fff" fill-opacity="0.34"/>
<circle cx="949.2" cy="233.2" r="1.8" fill="#fff" fill-opacity="0.60"/>
<circle cx="1157.5" cy="287.8" r="1.5" fill="#fff" fill-opacity="0.54"/>
<circle cx="1163.0" cy="180.0" r="1.4" fill="#fff" fill-opacity="0.52"/>
<circle cx="941.1" cy="303.8" r="1.6" fill="#fff" fill-opacity="0.44"/>
<circle cx="1124.5" cy="237.6" r="1.7" fill="#fff" fill-opacity="0.52"/>
<circle cx="1139.8" cy="242.3" r="0.9" fill="#fff" fill-opacity="0.61"/>
<circle cx="992.0" cy="253.5" r="1.9" fill="#fff" fill-opacity="0.59"/>
<circle cx="954.1" cy="297.7" r="2.0" fill="#fff" fill-opacity="0.49"/>
<circle cx="997.6" cy="235.4" r="1.4" fill="#fff" fill-opacity="0.32"/>
<circle cx="1136.8" cy="265.2" r="1.3" fill="#fff" fill-opacity="0.63"/>
<circle cx="978.5" cy="306.2" r="1.8" fill="#fff" fill-opacity="0.49"/>
<circle cx="964.3" cy="232.9" r="0.9" fill="#fff" fill-opacity="0.52"/>
<circle cx="971.2" cy="244.8" r="1.3" fill="#fff" fill-opacity="0.43"/>
<circle cx="1074.7" cy="247.2" r="1.9" fill="#fff" fill-opacity="0.48"/>
<circle cx="1072.8" cy="279.3" r="1.0" fill="#fff" fill-opacity="0.51"/>
<circle cx="980.1" cy="240.7" r="1.4" fill="#fff" fill-opacity="0.66"/>
<circle cx="1163.9" cy="209.1" r="1.8" fill="#fff" fill-opacity="0.45"/>
<circle cx="996.5" cy="257.5" r="1.2" fill="#fff" fill-opacity="0.68"/>
<circle cx="1149.5" cy="163.8" r="2.0" fill="#fff" fill-opacity="0.66"/>
<circle cx="970.2" cy="268.1" r="1.5" fill="#fff" fill-opacity="0.36"/>
<circle cx="1103.4" cy="160.2" r="1.2" fill="#fff" fill-opacity="0.50"/>
<circle cx="1126.3" cy="226.1" r="1.1" fill="#fff" fill-opacity="0.49"/>
<circle cx="1064.5" cy="224.9" r="0.9" fill="#fff" fill-opacity="0.64"/>
<circle cx="986.2" cy="189.5" r="1.1" fill="#fff" fill-opacity="0.69"/>
<circle cx="956.0" cy="261.9" r="1.5" fill="#fff" fill-opacity="0.39"/>
<circle cx="1121.9" cy="188.1" r="0.9" fill="#fff" fill-opacity="0.31"/>
<circle cx="1093.1" cy="167.2" r="1.5" fill="#fff" fill-opacity="0.56"/>
<circle cx="961.9" cy="319.2" r="1.0" fill="#fff" fill-opacity="0.43"/>
<circle cx="1125.8" cy="202.9" r="1.7" fill="#fff" fill-opacity="0.58"/>
<circle cx="1116.0" cy="220.8" r="1.1" fill="#fff" fill-opacity="0.49"/>
<circle cx="1084.3" cy="162.3" r="0.9" fill="#fff" fill-opacity="0.41"/>
<circle cx="949.9" cy="283.7" r="2.0" fill="#fff" fill-opacity="0.51"/>
<circle cx="1015.9" cy="229.2" r="1.9" fill="#fff" fill-opacity="0.59"/>
<circle cx="1069.0" cy="264.2" r="1.9" fill="#fff" fill-opacity="0.55"/>
<circle cx="987.3" cy="306.1" r="0.9" fill="#fff" fill-opacity="0.36"/>
<circle cx="983.4" cy="222.0" r="1.5" fill="#fff" fill-opacity="0.63"/>
<circle cx="997.6" cy="303.9" r="2.0" fill="#fff" fill-opacity="0.65"/>
<circle cx="1128.7" cy="252.6" r="1.3" fill="#fff" fill-opacity="0.36"/>
<circle cx="1028.0" cy="195.7" r="1.2" fill="#fff" fill-opacity="0.33"/>
<circle cx="1164.2" cy="228.1" r="0.9" fill="#fff" fill-opacity="0.35"/>
<circle cx="1042.9" cy="171.4" r="1.6" fill="#fff" fill-opacity="0.42"/>
<circle cx="1088.2" cy="215.0" r="1.3" fill="#fff" fill-opacity="0.65"/>
<circle cx="1045.3" cy="310.0" r="1.6" fill="#fff" fill-opacity="0.60"/>
<circle cx="1110.0" cy="251.6" r="1.2" fill="#fff" fill-opacity="0.57"/>
<circle cx="946.3" cy="199.6" r="1.8" fill="#fff" fill-opacity="0.64"/>
<circle cx="942.9" cy="288.4" r="1.3" fill="#fff" fill-opacity="0.38"/>
<circle cx="1153.5" cy="254.2" r="1.1" fill="#fff" fill-opacity="0.67"/>
<circle cx="953.2" cy="275.8" r="1.7" fill="#fff" fill-opacity="0.60"/>
<circle cx="1048.9" cy="208.3" r="1.1" fill="#fff" fill-opacity="0.60"/>
<circle cx="1055.4" cy="163.0" r="1.6" fill="#fff" fill-opacity="0.59"/>
<circle cx="1123.5" cy="237.5" r="1.6" fill="#fff" fill-opacity="0.54"/>
<circle cx="1123.8" cy="203.1" r="1.1" fill="#fff" fill-opacity="0.64"/>
<circle cx="999.1" cy="161.8" r="1.6" fill="#fff" fill-opacity="0.61"/>
<circle cx="1141.0" cy="321.8" r="0.9" fill="#fff" fill-opacity="0.68"/>
<circle cx="1004.5" cy="181.0" r="1.1" fill="#fff" fill-opacity="0.34"/>
<circle cx="939.1" cy="183.1" r="1.5" fill="#fff" fill-opacity="0.33"/>
<circle cx="1116.3" cy="158.9" r="1.1" fill="#fff" fill-opacity="0.37"/>
<circle cx="965.2" cy="158.5" r="1.4" fill="#fff" fill-opacity="0.33"/>
<circle cx="965.3" cy="158.7" r="1.8" fill="#fff" fill-opacity="0.36"/>
<circle cx="1034.3" cy="287.0" r="1.0" fill="#fff" fill-opacity="0.44"/>
<circle cx="1133.6" cy="263.7" r="1.0" fill="#fff" fill-opacity="0.51"/>
<circle cx="1134.1" cy="248.0" r="1.1" fill="#fff" fill-opacity="0.38"/>
<circle cx="1150.4" cy="223.6" r="1.0" fill="#fff" fill-opacity="0.41"/>
<circle cx="1078.0" cy="300.6" r="1.6" fill="#fff" fill-opacity="0.54"/>
<circle cx="1020.2" cy="197.5" r="1.6" fill="#fff" fill-opacity="0.44"/>
<circle cx="1007.9" cy="281.8" r="1.9" fill="#fff" fill-opacity="0.64"/>
<circle cx="966.3" cy="285.0" r="1.4" fill="#fff" fill-opacity="0.33"/>
<circle cx="1127.7" cy="248.8" r="1.4" fill="#fff" fill-opacity="0.33"/>
<circle cx="1068.4" cy="238.2" r="1.8" fill="#fff" fill-opacity="0.66"/>
<circle cx="968.8" cy="309.3" r="1.3" fill="#fff" fill-opacity="0.31"/>
<circle cx="1114.5" cy="293.2" r="1.8" fill="#fff" fill-opacity="0.36"/>
<circle cx="1111.2" cy="312.8" r="1.9" fill="#fff" fill-opacity="0.44"/>
<circle cx="1135.7" cy="176.9" r="1.9" fill="#fff" fill-opacity="0.53"/>
<circle cx="1093.1" cy="285.2" r="1.1" fill="#fff" fill-opacity="0.39"/>
<circle cx="952.8" cy="276.8" r="0.8" fill="#fff" fill-opacity="0.31"/>
<circle cx="1091.1" cy="241.1" r="2.0" fill="#fff" fill-opacity="0.35"/>
<circle cx="1062.8" cy="190.7" r="1.8" fill="#fff" fill-opacity="0.68"/>
<circle cx="1164.3" cy="177.6" r="1.7" fill="#fff" fill-opacity="0.52"/>
<circle cx="961.4" cy="231.2" r="1.7" fill="#fff" fill-opacity="0.59"/>
<circle cx="1045.1" cy="172.6" r="1.3" fill="#fff" fill-opacity="0.43"/>
<circle cx="1020.0" cy="316.4" r="4.2" fill="#fff" fill-opacity="0.20" stroke="#000" stroke-opacity="0.14" stroke-width="1"/>
<circle cx="1028.0" cy="184.0" r="2.1" fill="#fff" fill-opacity="0.30" stroke="#000" stroke-opacity="0.22" stroke-width="1"/>
<circle cx="1121.3" cy="221.0" r="5.2" fill="#fff" fill-opacity="0.48" stroke="#000" stroke-opacity="0.24" stroke-width="1"/>
<circle cx="1147.9" cy="314.5" r="3.6" fill="#fff" fill-opacity="0.28" stroke="#000" stroke-opacity="0.19" stroke-width="1"/>
<circle cx="1031.9" cy="323.6" r="4.4" fill="#fff" fill-opacity="0.49" stroke="#000" stroke-opacity="0.19" stroke-width="1"/>
<circle cx="1031.8" cy="240.7" r="5.4" fill="#fff" fill-opacity="0.24" stroke="#000" stroke-opacity="0.12" stroke-width="1"/>
<circle cx="979.1" cy="164.0" r="2.5" fill="#fff" fill-opacity="0.39" stroke="#000" stroke-opacity="0.21" stroke-width="1"/>
<circle cx="1033.3" cy="274.9" r="5.3" fill="#fff" fill-opacity="0.43" stroke="#000" stroke-opacity="0.18" stroke-width="1"/>
<circle cx="1003.9" cy="269.4" r="2.5" fill="#fff" fill-opacity="0.21" stroke="#000" stroke-opacity="0.23" stroke-width="1"/>
<circle cx="1029.7" cy="208.7" r="3.1" fill="#fff" fill-opacity="0.41" stroke="#000" stroke-opacity="0.14" stroke-width="1"/>
<circle cx="1028.2" cy="302.1" r="4.4" fill="#fff" fill-opacity="0.27" stroke="#000" stroke-opacity="0.23" stroke-width="1"/>
<circle cx="972.3" cy="183.2" r="3.6" fill="#fff" fill-opacity="0.44" stroke="#000" stroke-opacity="0.13" stroke-width="1"/>
<circle cx="995.4" cy="174.9" r="2.9" fill="#fff" fill-opacity="0.40" stroke="#000" stroke-opacity="0.17" stroke-width="1"/>
<circle cx="979.3" cy="175.2" r="2.6" fill="#fff" fill-opacity="0.41" stroke="#000" stroke-opacity="0.19" stroke-width="1"/>
<circle cx="1025.7" cy="301.7" r="3.0" fill="#fff" fill-opacity="0.47" stroke="#000" stroke-opacity="0.11" stroke-width="1"/>
<circle cx="1025.2" cy="263.9" r="2.9" fill="#fff" fill-opacity="0.43" stroke="#000" stroke-opacity="0.14" stroke-width="1"/>
<circle cx="1024.8" cy="219.3" r="4.4" fill="#fff" fill-opacity="0.38" stroke="#000" stroke-opacity="0.19" stroke-width="1"/>
<circle cx="983.8" cy="205.3" r="2.3" fill="#fff" fill-opacity="0.22" stroke="#000" stroke-opacity="0.20" stroke-width="1"/>
<circle cx="994.1" cy="182.6" r="5.1" fill="#fff" fill-opacity="0.32" stroke="#000" stroke-opacity="0.19" stroke-width="1"/>
<circle cx="1052.6" cy="212.1" r="5.4" fill="#fff" fill-opacity="0.35" stroke="#000" stroke-opacity="0.15" stroke-width="1"/>
<circle cx="1048.2" cy="294.5" r="3.4" fill="#fff" fill-opacity="0.50" stroke="#000" stroke-opacity="0.22" stroke-width="1"/>
<circle cx="1038.5" cy="266.9" r="4.3" fill="#fff" fill-opacity="0.29" stroke="#000" stroke-opacity="0.14" stroke-width="1"/>
<circle cx="983.4" cy="246.4" r="5.2" fill="#fff" fill-opacity="0.30" stroke="#000" stroke-opacity="0.16" stroke-width="1"/>
<circle cx="1149.7" cy="252.4" r="3.0" fill="#fff" fill-opacity="0.25" stroke="#000" stroke-opacity="0.22" stroke-width="1"/>
<circle cx="996.0" cy="220.4" r="4.8" fill="#fff" fill-opacity="0.31" stroke="#000" stroke-opacity="0.14" stroke-width="1"/>
<circle cx="1009.7" cy="283.7" r="2.7" fill="#fff" fill-opacity="0.25" stroke="#000" stroke-opacity="0.16" stroke-width="1"/>
<circle cx="1035.6" cy="309.3" r="3.7" fill="#fff" fill-opacity="0.41" stroke="#000" stroke-opacity="0.22" stroke-width="1"/>
<circle cx="1023.3" cy="172.4" r="2.4" fill="#fff" fill-opacity="0.44" stroke="#000" stroke-opacity="0.14" stroke-width="1"/>
<circle cx="993.0" cy="180.6" r="3.7" fill="#fff" fill-opacity="0.39" stroke="#000" stroke-opacity="0.11" stroke-width="1"/>
<circle cx="986.9" cy="244.0" r="4.4" fill="#fff" fill-opacity="0.25" stroke="#000" stroke-opacity="0.11" stroke-width="1"/>
<circle cx="953.3" cy="304.5" r="3.9" fill="#fff" fill-opacity="0.30" stroke="#000" stroke-opacity="0.08" stroke-width="1"/>
<circle cx="1006.2" cy="206.9" r="2.7" fill="#fff" fill-opacity="0.41" stroke="#000" stroke-opacity="0.25" stroke-width="1"/>
<circle cx="938.3" cy="183.2" r="2.8" fill="#fff" fill-opacity="0.29" stroke="#000" stroke-opacity="0.13" stroke-width="1"/>
<circle cx="1000.3" cy="188.5" r="3.8" fill="#fff" fill-opacity="0.35" stroke="#000" stroke-opacity="0.19" stroke-width="1"/>
<circle cx="1053.7" cy="184.0" r="4.9" fill="#fff" fill-opacity="0.30" stroke="#000" stroke-opacity="0.18" stroke-width="1"/>
<circle cx="1121.1" cy="279.4" r="2.8" fill="#fff" fill-opacity="0.32" stroke="#000" stroke-opacity="0.14" stroke-width="1"/>
<circle cx="963.3" cy="316.3" r="3.9" fill="#fff" fill-opacity="0.48" stroke="#000" stroke-opacity="0.09" stroke-width="1"/>
<circle cx="1033.1" cy="170.3" r="3.7" fill="#fff" fill-opacity="0.45" stroke="#000" stroke-opacity="0.23" stroke-width="1"/>
<circle cx="1153.8" cy="208.7" r="4.2" fill="#fff" fill-opacity="0.48" stroke="#000" stroke-opacity="0.13" stroke-width="1"/>
<circle cx="995.3" cy="289.9" r="3.9" fill="#fff" fill-opacity="0.44" stroke="#000" stroke-opacity="0.09" stroke-width="1"/>
<circle cx="1037.3" cy="207.2" r="3.5" fill="#fff" fill-opacity="0.49" stroke="#000" stroke-opacity="0.23" stroke-width="1"/>
<circle cx="995.2" cy="163.3" r="4.1" fill="#fff" fill-opacity="0.44" stroke="#000" stroke-opacity="0.09" stroke-width="1"/>
<circle cx="987.0" cy="305.4" r="3.7" fill="#fff" fill-opacity="0.22" stroke="#000" stroke-opacity="0.22" stroke-width="1"/>
<circle cx="1046.2" cy="175.7" r="3.7" fill="#fff" fill-opacity="0.46" stroke="#000" stroke-opacity="0.17" stroke-width="1"/>
<circle cx="1124.9" cy="195.7" r="3.7" fill="#fff" fill-opacity="0.46" stroke="#000" stroke-opacity="0.14" stroke-width="1"/>
<circle cx="1001.8" cy="237.0" r="2.8" fill="#fff" fill-opacity="0.26" stroke="#000" stroke-opacity="0.23" stroke-width="1"/>
<circle cx="1037.5" cy="213.7" r="3.1" fill="#fff" fill-opacity="0.35" stroke="#000" stroke-opacity="0.19" stroke-width="1"/>
<circle cx="1025.6" cy="297.4" r="3.3" fill="#fff" fill-opacity="0.24" stroke="#000" stroke-opacity="0.17" stroke-width="1"/>
<circle cx="1029.1" cy="261.1" r="2.9" fill="#fff" fill-opacity="0.37" stroke="#000" stroke-opacity="0.19" stroke-width="1"/>
<circle cx="973.6" cy="216.1" r="2.9" fill="#fff" fill-opacity="0.40" stroke="#000" stroke-opacity="0.23" stroke-width="1"/>
<circle cx="988.1" cy="219.8" r="2.5" fill="#fff" fill-opacity="0.40" stroke="#000" stroke-opacity="0.24" stroke-width="1"/>
<circle cx="981.2" cy="202.7" r="3.8" fill="#fff" fill-opacity="0.36" stroke="#000" stroke-opacity="0.11" stroke-width="1"/>
<circle cx="1015.5" cy="293.2" r="4.1" fill="#fff" fill-opacity="0.44" stroke="#000" stroke-opacity="0.09" stroke-width="1"/>
<circle cx="1036.8" cy="274.2" r="3.3" fill="#fff" fill-opacity="0.42" stroke="#000" stroke-opacity="0.12" stroke-width="1"/>
<circle cx="951.5" cy="191.7" r="3.4" fill="#fff" fill-opacity="0.21" stroke="#000" stroke-opacity="0.10" stroke-width="1"/>
<circle cx="1099.0" cy="282.6" r="4.1" fill="#fff" fill-opacity="0.32" stroke="#000" stroke-opacity="0.23" stroke-width="1"/>
<circle cx="969.7" cy="290.9" r="4.5" fill="#fff" fill-opacity="0.49" stroke="#000" stroke-opacity="0.13" stroke-width="1"/>
<circle cx="986.5" cy="237.2" r="2.7" fill="#fff" fill-opacity="0.45" stroke="#000" stroke-opacity="0.12" stroke-width="1"/>
<circle cx="1105.1" cy="275.4" r="3.3" fill="#fff" fill-opacity="0.46" stroke="#000" stroke-opacity="0.09" stroke-width="1"/>
<circle cx="1005.5" cy="251.3" r="4.9" fill="#fff" fill-opacity="0.40" stroke="#000" stroke-opacity="0.20" stroke-width="1"/>
<circle cx="1057.7" cy="308.5" r="2.3" fill="#fff" fill-opacity="0.36" stroke="#000" stroke-opacity="0.17" stroke-width="1"/>
<circle cx="943.9" cy="172.4" r="4.5" fill="#fff" fill-opacity="0.36" stroke="#000" stroke-opacity="0.17" stroke-width="1"/>
<circle cx="939.6" cy="249.3" r="5.4" fill="#fff" fill-opacity="0.48" stroke="#000" stroke-opacity="0.08" stroke-width="1"/>
<circle cx="1152.6" cy="240.7" r="4.0" fill="#fff" fill-opacity="0.28" stroke="#000" stroke-opacity="0.19" stroke-width="1"/>
<circle cx="1008.7" cy="316.1" r="3.9" fill="#fff" fill-opacity="0.26" stroke="#000" stroke-opacity="0.08" stroke-width="1"/>
<circle cx="988.7" cy="160.7" r="5.2" fill="#fff" fill-opacity="0.50" stroke="#000" stroke-opacity="0.19" stroke-width="1"/>
<circle cx="993.1" cy="195.1" r="4.9" fill="#fff" fill-opacity="0.24" stroke="#000" stroke-opacity="0.20" stroke-width="1"/>
<circle cx="1045.5" cy="175.5" r="2.8" fill="#fff" fill-opacity="0.45" stroke="#000" stroke-opacity="0.18" stroke-width="1"/>
<circle cx="980.8" cy="275.6" r="4.0" fill="#fff" fill-opacity="0.48" stroke="#000" stroke-opacity="0.21" stroke-width="1"/>
<circle cx="1037.9" cy="287.3" r="4.9" fill="#fff" fill-opacity="0.38" stroke="#000" stroke-opacity="0.15" stroke-width="1"/>
</g>
<text transform="translate(398.50,298.00) scale(1,1.02)" x="-0.51" y="0" font-family="Liberation Sans, sans-serif" font-size="12.83" style="stroke:none">50µm</text>
<line x1="394.8" y1="305.2" x2="430.5" y2="305.2" stroke="#000" stroke-width="2"/>
<text transform="translate(316.50,350.70) scale(1,1.02)" x="-0.03" y="0" font-family="Liberation Sans, sans-serif" font-size="25.99" font-weight="bold" >WT</text>
<text transform="translate(544.00,350.70) scale(1,1.02)" x="-0.61" y="0" font-family="Liberation Sans, sans-serif" font-size="26.58" font-weight="bold" >3MST</text>
<text transform="translate(786.70,350.80) scale(1,1.02)" x="-0.29" y="0" font-family="Liberation Sans, sans-serif" font-size="25.53" font-weight="bold" >TRPA1</text>
<text transform="translate(1036.00,353.30) scale(1,1.02)" x="-1.79" y="0" font-family="Liberation Sans, sans-serif" font-size="26.76" font-weight="bold" >M/T</text>
<text transform="translate(11.20,455.50)" x="-3.43" y="0" font-family="Liberation Sans, sans-serif" font-size="52.00" font-weight="bold" >b</text>
<rect x="174.6" y="773.9" width="23.4" height="4.8" fill="#70a846"/>
<rect x="202.7" y="765.7" width="23.4" height="13.0" fill="#70a846"/>
<rect x="230.9" y="645.6" width="23.4" height="133.1" fill="#70a846"/>
<rect x="259.0" y="663.8" width="23.4" height="114.9" fill="#70a846"/>
<rect x="287.2" y="669.4" width="23.4" height="109.3" fill="#70a846"/>
<rect x="315.3" y="731.4" width="23.4" height="47.3" fill="#70a846"/>
<rect x="343.5" y="764.4" width="23.4" height="14.3" fill="#70a846"/>
<line x1="143.6" y1="474.2" x2="143.6" y2="778.7" stroke="#231f20" stroke-width="2.5"/>
<line x1="132.6" y1="778.7" x2="411.6" y2="778.7" stroke="#231f20" stroke-width="2.5"/>
<line x1="132.6" y1="778.7" x2="143.6" y2="778.7" stroke="#231f20" stroke-width="2.5"/>
<text transform="translate(118.60,787.20) scale(1,1.02)" x="-0.81" y="0" font-family="Liberation Sans, sans-serif" font-size="20.40" font-weight="bold" >0</text>
<line x1="132.6" y1="735.3" x2="143.6" y2="735.3" stroke="#231f20" stroke-width="2.5"/>
<text transform="translate(107.73,743.84) scale(1,1.02)" x="-1.28" y="0" font-family="Liberation Sans, sans-serif" font-size="20.40" font-weight="bold" >10</text>
<line x1="132.6" y1="692.0" x2="143.6" y2="692.0" stroke="#231f20" stroke-width="2.5"/>
<text transform="translate(107.15,700.49) scale(1,1.02)" x="-0.71" y="0" font-family="Liberation Sans, sans-serif" font-size="20.40" font-weight="bold" >20</text>
<line x1="132.6" y1="648.6" x2="143.6" y2="648.6" stroke="#231f20" stroke-width="2.5"/>
<text transform="translate(106.91,657.13) scale(1,1.02)" x="-0.47" y="0" font-family="Liberation Sans, sans-serif" font-size="20.40" font-weight="bold" >30</text>
<line x1="132.6" y1="605.3" x2="143.6" y2="605.3" stroke="#231f20" stroke-width="2.5"/>
<text transform="translate(106.75,613.77) scale(1,1.02)" x="-0.31" y="0" font-family="Liberation Sans, sans-serif" font-size="20.40" font-weight="bold" >40</text>
<line x1="132.6" y1="561.9" x2="143.6" y2="561.9" stroke="#231f20" stroke-width="2.5"/>
<text transform="translate(107.07,570.41) scale(1,1.02)" x="-0.63" y="0" font-family="Liberation Sans, sans-serif" font-size="20.40" font-weight="bold" >50</text>
<line x1="132.6" y1="518.6" x2="143.6" y2="518.6" stroke="#231f20" stroke-width="2.5"/>
<text transform="translate(107.19,527.06) scale(1,1.02)" x="-0.75" y="0" font-family="Liberation Sans, sans-serif" font-size="20.40" font-weight="bold" >60</text>
<line x1="132.6" y1="475.2" x2="143.6" y2="475.2" stroke="#231f20" stroke-width="2.5"/>
<text transform="translate(107.32,483.70) scale(1,1.02)" x="-0.88" y="0" font-family="Liberation Sans, sans-serif" font-size="20.40" font-weight="bold" >70</text>
<text transform="translate(265.00,490.30) scale(1,1.02)" x="-0.03" y="0" font-family="Liberation Sans, sans-serif" font-size="27.48" font-weight="bold" >WT</text>
<text transform="translate(100.40,703.70) rotate(-90) scale(1,1.02)" x="-1.56" y="0" font-family="Liberation Sans, sans-serif" font-size="23.65" font-weight="bold" >percent of total</text>
<text transform="translate(188.80,856.90) scale(1,1.02)" x="-1.58" y="0" font-family="Liberation Sans, sans-serif" font-size="23.68" font-weight="bold" >NMDA/KCl (ratio)</text>
<text transform="translate(171.1,788.9) rotate(-45) scale(1,1.04)" font-family="Liberation Sans, sans-serif" font-size="18.8" font-weight="bold" text-anchor="end">0.6-0.7</text>
<text transform="translate(199.3,788.9) rotate(-45) scale(1,1.04)" font-family="Liberation Sans, sans-serif" font-size="18.8" font-weight="bold" text-anchor="end">0.7-0.8</text>
<text transform="translate(227.4,788.9) rotate(-45) scale(1,1.04)" font-family="Liberation Sans, sans-serif" font-size="18.8" font-weight="bold" text-anchor="end">0.8-0.9</text>
<text transform="translate(255.6,788.9) rotate(-45) scale(1,1.04)" font-family="Liberation Sans, sans-serif" font-size="18.8" font-weight="bold" text-anchor="end">0.9-1.0</text>
<text transform="translate(283.7,788.9) rotate(-45) scale(1,1.04)" font-family="Liberation Sans, sans-serif" font-size="18.8" font-weight="bold" text-anchor="end">1.0-1.1</text>
<text transform="translate(311.9,788.9) rotate(-45) scale(1,1.04)" font-family="Liberation Sans, sans-serif" font-size="18.8" font-weight="bold" text-anchor="end">1.1-1.2</text>
<text transform="translate(340.0,788.9) rotate(-45) scale(1,1.04)" font-family="Liberation Sans, sans-serif" font-size="18.8" font-weight="bold" text-anchor="end">1.2-1.3</text>
<text transform="translate(368.2,788.9) rotate(-45) scale(1,1.04)" font-family="Liberation Sans, sans-serif" font-size="18.8" font-weight="bold" text-anchor="end">1.3-1.4</text>
<text transform="translate(396.3,788.9) rotate(-45) scale(1,1.04)" font-family="Liberation Sans, sans-serif" font-size="18.8" font-weight="bold" text-anchor="end">1.4-1.5</text>
<rect x="458.9" y="777.4" width="23.4" height="2.6" fill="#70a846"/>
<rect x="487.1" y="772.7" width="23.4" height="7.3" fill="#70a846"/>
<rect x="515.2" y="763.1" width="23.4" height="16.9" fill="#70a846"/>
<rect x="543.4" y="567.0" width="23.4" height="213.0" fill="#70a846"/>
<rect x="571.5" y="673.7" width="23.4" height="106.3" fill="#70a846"/>
<rect x="599.7" y="717.8" width="23.4" height="62.2" fill="#70a846"/>
<rect x="627.8" y="758.8" width="23.4" height="21.2" fill="#70a846"/>
<rect x="656.0" y="777.4" width="23.4" height="2.6" fill="#70a846"/>
<line x1="456.1" y1="476.5" x2="456.1" y2="780.0" stroke="#231f20" stroke-width="2.5"/>
<line x1="445.1" y1="780.0" x2="724.1" y2="780.0" stroke="#231f20" stroke-width="2.5"/>
<line x1="445.1" y1="780.0" x2="456.1" y2="780.0" stroke="#231f20" stroke-width="2.5"/>
<text transform="translate(431.10,788.50) scale(1,1.02)" x="-0.81" y="0" font-family="Liberation Sans, sans-serif" font-size="20.40" font-weight="bold" >0</text>
<line x1="445.1" y1="736.8" x2="456.1" y2="736.8" stroke="#231f20" stroke-width="2.5"/>
<text transform="translate(420.23,745.29) scale(1,1.02)" x="-1.28" y="0" font-family="Liberation Sans, sans-serif" font-size="20.40" font-weight="bold" >10</text>
<line x1="445.1" y1="693.6" x2="456.1" y2="693.6" stroke="#231f20" stroke-width="2.5"/>
<text transform="translate(419.65,702.07) scale(1,1.02)" x="-0.71" y="0" font-family="Liberation Sans, sans-serif" font-size="20.40" font-weight="bold" >20</text>
<line x1="445.1" y1="650.4" x2="456.1" y2="650.4" stroke="#231f20" stroke-width="2.5"/>
<text transform="translate(419.41,658.86) scale(1,1.02)" x="-0.47" y="0" font-family="Liberation Sans, sans-serif" font-size="20.40" font-weight="bold" >30</text>
<line x1="445.1" y1="607.1" x2="456.1" y2="607.1" stroke="#231f20" stroke-width="2.5"/>
<text transform="translate(419.25,615.64) scale(1,1.02)" x="-0.31" y="0" font-family="Liberation Sans, sans-serif" font-size="20.40" font-weight="bold" >40</text>
<line x1="445.1" y1="563.9" x2="456.1" y2="563.9" stroke="#231f20" stroke-width="2.5"/>
<text transform="translate(419.57,572.43) scale(1,1.02)" x="-0.63" y="0" font-family="Liberation Sans, sans-serif" font-size="20.40" font-weight="bold" >50</text>
<line x1="445.1" y1="520.7" x2="456.1" y2="520.7" stroke="#231f20" stroke-width="2.5"/>
<text transform="translate(419.69,529.21) scale(1,1.02)" x="-0.75" y="0" font-family="Liberation Sans, sans-serif" font-size="20.40" font-weight="bold" >60</text>
<line x1="445.1" y1="477.5" x2="456.1" y2="477.5" stroke="#231f20" stroke-width="2.5"/>
<text transform="translate(419.82,486.00) scale(1,1.02)" x="-0.88" y="0" font-family="Liberation Sans, sans-serif" font-size="20.40" font-weight="bold" >70</text>
<text transform="translate(541.00,492.00) scale(1,1.02)" x="-0.65" y="0" font-family="Liberation Sans, sans-serif" font-size="28.18" font-weight="bold" >3MST</text>
<text transform="translate(412.90,705.00) rotate(-90) scale(1,1.02)" x="-1.56" y="0" font-family="Liberation Sans, sans-serif" font-size="23.65" font-weight="bold" >percent of total</text>
<text transform="translate(501.30,858.20) scale(1,1.02)" x="-1.58" y="0" font-family="Liberation Sans, sans-serif" font-size="23.68" font-weight="bold" >NMDA/KCl (ratio)</text>
<text transform="translate(483.6,790.2) rotate(-45) scale(1,1.04)" font-family="Liberation Sans, sans-serif" font-size="18.8" font-weight="bold" text-anchor="end">0.6-0.7</text>
<text transform="translate(511.8,790.2) rotate(-45) scale(1,1.04)" font-family="Liberation Sans, sans-serif" font-size="18.8" font-weight="bold" text-anchor="end">0.7-0.8</text>
<text transform="translate(539.9,790.2) rotate(-45) scale(1,1.04)" font-family="Liberation Sans, sans-serif" font-size="18.8" font-weight="bold" text-anchor="end">0.8-0.9</text>
<text transform="translate(568.1,790.2) rotate(-45) scale(1,1.04)" font-family="Liberation Sans, sans-serif" font-size="18.8" font-weight="bold" text-anchor="end">0.9-1.0</text>
<text transform="translate(596.2,790.2) rotate(-45) scale(1,1.04)" font-family="Liberation Sans, sans-serif" font-size="18.8" font-weight="bold" text-anchor="end">1.0-1.1</text>
<text transform="translate(624.4,790.2) rotate(-45) scale(1,1.04)" font-family="Liberation Sans, sans-serif" font-size="18.8" font-weight="bold" text-anchor="end">1.1-1.2</text>
<text transform="translate(652.5,790.2) rotate(-45) scale(1,1.04)" font-family="Liberation Sans, sans-serif" font-size="18.8" font-weight="bold" text-anchor="end">1.2-1.3</text>
<text transform="translate(680.7,790.2) rotate(-45) scale(1,1.04)" font-family="Liberation Sans, sans-serif" font-size="18.8" font-weight="bold" text-anchor="end">1.3-1.4</text>
<text transform="translate(708.8,790.2) rotate(-45) scale(1,1.04)" font-family="Liberation Sans, sans-serif" font-size="18.8" font-weight="bold" text-anchor="end">1.4-1.5</text>
<rect x="816.8" y="776.4" width="23.4" height="2.6" fill="#70a846"/>
<rect x="844.9" y="753.9" width="23.4" height="25.1" fill="#70a846"/>
<rect x="873.0" y="590.3" width="23.4" height="188.7" fill="#70a846"/>
<rect x="901.2" y="663.0" width="23.4" height="116.0" fill="#70a846"/>
<rect x="929.4" y="720.1" width="23.4" height="58.9" fill="#70a846"/>
<rect x="957.5" y="753.9" width="23.4" height="25.1" fill="#70a846"/>
<rect x="985.6" y="765.6" width="23.4" height="13.4" fill="#70a846"/>
<rect x="1013.8" y="776.4" width="23.4" height="2.6" fill="#70a846"/>
<line x1="785.8" y1="475.0" x2="785.8" y2="779.0" stroke="#231f20" stroke-width="2.5"/>
<line x1="774.8" y1="779.0" x2="1053.8" y2="779.0" stroke="#231f20" stroke-width="2.5"/>
<line x1="774.8" y1="779.0" x2="785.8" y2="779.0" stroke="#231f20" stroke-width="2.5"/>
<text transform="translate(760.80,787.50) scale(1,1.02)" x="-0.81" y="0" font-family="Liberation Sans, sans-serif" font-size="20.40" font-weight="bold" >0</text>
<line x1="774.8" y1="735.7" x2="785.8" y2="735.7" stroke="#231f20" stroke-width="2.5"/>
<text transform="translate(749.93,744.21) scale(1,1.02)" x="-1.28" y="0" font-family="Liberation Sans, sans-serif" font-size="20.40" font-weight="bold" >10</text>
<line x1="774.8" y1="692.4" x2="785.8" y2="692.4" stroke="#231f20" stroke-width="2.5"/>
<text transform="translate(749.35,700.93) scale(1,1.02)" x="-0.71" y="0" font-family="Liberation Sans, sans-serif" font-size="20.40" font-weight="bold" >20</text>
<line x1="774.8" y1="649.1" x2="785.8" y2="649.1" stroke="#231f20" stroke-width="2.5"/>
<text transform="translate(749.11,657.64) scale(1,1.02)" x="-0.47" y="0" font-family="Liberation Sans, sans-serif" font-size="20.40" font-weight="bold" >30</text>
<line x1="774.8" y1="605.9" x2="785.8" y2="605.9" stroke="#231f20" stroke-width="2.5"/>
<text transform="translate(748.95,614.36) scale(1,1.02)" x="-0.31" y="0" font-family="Liberation Sans, sans-serif" font-size="20.40" font-weight="bold" >40</text>
<line x1="774.8" y1="562.6" x2="785.8" y2="562.6" stroke="#231f20" stroke-width="2.5"/>
<text transform="translate(749.27,571.07) scale(1,1.02)" x="-0.63" y="0" font-family="Liberation Sans, sans-serif" font-size="20.40" font-weight="bold" >50</text>
<line x1="774.8" y1="519.3" x2="785.8" y2="519.3" stroke="#231f20" stroke-width="2.5"/>
<text transform="translate(749.39,527.79) scale(1,1.02)" x="-0.75" y="0" font-family="Liberation Sans, sans-serif" font-size="20.40" font-weight="bold" >60</text>
<line x1="774.8" y1="476.0" x2="785.8" y2="476.0" stroke="#231f20" stroke-width="2.5"/>
<text transform="translate(749.52,484.50) scale(1,1.02)" x="-0.88" y="0" font-family="Liberation Sans, sans-serif" font-size="20.40" font-weight="bold" >70</text>
<text transform="translate(868.60,494.50) scale(1,1.02)" x="-0.31" y="0" font-family="Liberation Sans, sans-serif" font-size="27.54" font-weight="bold" >TRPA1</text>
<text transform="translate(742.60,704.00) rotate(-90) scale(1,1.02)" x="-1.56" y="0" font-family="Liberation Sans, sans-serif" font-size="23.65" font-weight="bold" >percent of total</text>
<text transform="translate(831.00,857.20) scale(1,1.02)" x="-1.58" y="0" font-family="Liberation Sans, sans-serif" font-size="23.68" font-weight="bold" >NMDA/KCl (ratio)</text>
<text transform="translate(813.3,789.2) rotate(-45) scale(1,1.04)" font-family="Liberation Sans, sans-serif" font-size="18.8" font-weight="bold" text-anchor="end">0.6-0.7</text>
<text transform="translate(841.5,789.2) rotate(-45) scale(1,1.04)" font-family="Liberation Sans, sans-serif" font-size="18.8" font-weight="bold" text-anchor="end">0.7-0.8</text>
<text transform="translate(869.6,789.2) rotate(-45) scale(1,1.04)" font-family="Liberation Sans, sans-serif" font-size="18.8" font-weight="bold" text-anchor="end">0.8-0.9</text>
<text transform="translate(897.8,789.2) rotate(-45) scale(1,1.04)" font-family="Liberation Sans, sans-serif" font-size="18.8" font-weight="bold" text-anchor="end">0.9-1.0</text>
<text transform="translate(925.9,789.2) rotate(-45) scale(1,1.04)" font-family="Liberation Sans, sans-serif" font-size="18.8" font-weight="bold" text-anchor="end">1.0-1.1</text>
<text transform="translate(954.1,789.2) rotate(-45) scale(1,1.04)" font-family="Liberation Sans, sans-serif" font-size="18.8" font-weight="bold" text-anchor="end">1.1-1.2</text>
<text transform="translate(982.2,789.2) rotate(-45) scale(1,1.04)" font-family="Liberation Sans, sans-serif" font-size="18.8" font-weight="bold" text-anchor="end">1.2-1.3</text>
<text transform="translate(1010.4,789.2) rotate(-45) scale(1,1.04)" font-family="Liberation Sans, sans-serif" font-size="18.8" font-weight="bold" text-anchor="end">1.3-1.4</text>
<text transform="translate(1038.5,789.2) rotate(-45) scale(1,1.04)" font-family="Liberation Sans, sans-serif" font-size="18.8" font-weight="bold" text-anchor="end">1.4-1.5</text>
<rect x="1107.6" y="778.3" width="23.4" height="2.6" fill="#70a846"/>
<rect x="1135.8" y="778.3" width="23.4" height="2.6" fill="#70a846"/>
<rect x="1163.9" y="761.0" width="23.4" height="19.9" fill="#70a846"/>
<rect x="1192.0" y="529.5" width="23.4" height="251.4" fill="#70a846"/>
<rect x="1220.2" y="696.2" width="23.4" height="84.7" fill="#70a846"/>
<rect x="1248.3" y="734.2" width="23.4" height="46.7" fill="#70a846"/>
<rect x="1276.5" y="766.2" width="23.4" height="14.7" fill="#70a846"/>
<rect x="1304.6" y="774.0" width="23.4" height="6.9" fill="#70a846"/>
<line x1="1104.8" y1="477.5" x2="1104.8" y2="780.9" stroke="#231f20" stroke-width="2.5"/>
<line x1="1093.8" y1="780.9" x2="1372.8" y2="780.9" stroke="#231f20" stroke-width="2.5"/>
<line x1="1093.8" y1="780.9" x2="1104.8" y2="780.9" stroke="#231f20" stroke-width="2.5"/>
<text transform="translate(1079.80,789.40) scale(1,1.02)" x="-0.81" y="0" font-family="Liberation Sans, sans-serif" font-size="20.40" font-weight="bold" >0</text>
<line x1="1093.8" y1="737.7" x2="1104.8" y2="737.7" stroke="#231f20" stroke-width="2.5"/>
<text transform="translate(1068.93,746.20) scale(1,1.02)" x="-1.28" y="0" font-family="Liberation Sans, sans-serif" font-size="20.40" font-weight="bold" >10</text>
<line x1="1093.8" y1="694.5" x2="1104.8" y2="694.5" stroke="#231f20" stroke-width="2.5"/>
<text transform="translate(1068.35,703.00) scale(1,1.02)" x="-0.71" y="0" font-family="Liberation Sans, sans-serif" font-size="20.40" font-weight="bold" >20</text>
<line x1="1093.8" y1="651.3" x2="1104.8" y2="651.3" stroke="#231f20" stroke-width="2.5"/>
<text transform="translate(1068.11,659.80) scale(1,1.02)" x="-0.47" y="0" font-family="Liberation Sans, sans-serif" font-size="20.40" font-weight="bold" >30</text>
<line x1="1093.8" y1="608.1" x2="1104.8" y2="608.1" stroke="#231f20" stroke-width="2.5"/>
<text transform="translate(1067.95,616.60) scale(1,1.02)" x="-0.31" y="0" font-family="Liberation Sans, sans-serif" font-size="20.40" font-weight="bold" >40</text>
<line x1="1093.8" y1="564.9" x2="1104.8" y2="564.9" stroke="#231f20" stroke-width="2.5"/>
<text transform="translate(1068.27,573.40) scale(1,1.02)" x="-0.63" y="0" font-family="Liberation Sans, sans-serif" font-size="20.40" font-weight="bold" >50</text>
<line x1="1093.8" y1="521.7" x2="1104.8" y2="521.7" stroke="#231f20" stroke-width="2.5"/>
<text transform="translate(1068.39,530.20) scale(1,1.02)" x="-0.75" y="0" font-family="Liberation Sans, sans-serif" font-size="20.40" font-weight="bold" >60</text>
<line x1="1093.8" y1="478.5" x2="1104.8" y2="478.5" stroke="#231f20" stroke-width="2.5"/>
<text transform="translate(1068.52,487.00) scale(1,1.02)" x="-0.88" y="0" font-family="Liberation Sans, sans-serif" font-size="20.40" font-weight="bold" >70</text>
<text transform="translate(1220.00,494.50) scale(1,1.02)" x="-1.87" y="0" font-family="Liberation Sans, sans-serif" font-size="27.98" font-weight="bold" >M/T</text>
<text transform="translate(1061.60,705.90) rotate(-90) scale(1,1.02)" x="-1.56" y="0" font-family="Liberation Sans, sans-serif" font-size="23.65" font-weight="bold" >percent of total</text>
<text transform="translate(1150.00,859.10) scale(1,1.02)" x="-1.58" y="0" font-family="Liberation Sans, sans-serif" font-size="23.68" font-weight="bold" >NMDA/KCl (ratio)</text>
<text transform="translate(1132.3,791.1) rotate(-45) scale(1,1.04)" font-family="Liberation Sans, sans-serif" font-size="18.8" font-weight="bold" text-anchor="end">0.6-0.7</text>
<text transform="translate(1160.5,791.1) rotate(-45) scale(1,1.04)" font-family="Liberation Sans, sans-serif" font-size="18.8" font-weight="bold" text-anchor="end">0.7-0.8</text>
<text transform="translate(1188.6,791.1) rotate(-45) scale(1,1.04)" font-family="Liberation Sans, sans-serif" font-size="18.8" font-weight="bold" text-anchor="end">0.8-0.9</text>
<text transform="translate(1216.8,791.1) rotate(-45) scale(1,1.04)" font-family="Liberation Sans, sans-serif" font-size="18.8" font-weight="bold" text-anchor="end">0.9-1.0</text>
<text transform="translate(1244.9,791.1) rotate(-45) scale(1,1.04)" font-family="Liberation Sans, sans-serif" font-size="18.8" font-weight="bold" text-anchor="end">1.0-1.1</text>
<text transform="translate(1273.0,791.1) rotate(-45) scale(1,1.04)" font-family="Liberation Sans, sans-serif" font-size="18.8" font-weight="bold" text-anchor="end">1.1-1.2</text>
<text transform="translate(1301.2,791.1) rotate(-45) scale(1,1.04)" font-family="Liberation Sans, sans-serif" font-size="18.8" font-weight="bold" text-anchor="end">1.2-1.3</text>
<text transform="translate(1329.3,791.1) rotate(-45) scale(1,1.04)" font-family="Liberation Sans, sans-serif" font-size="18.8" font-weight="bold" text-anchor="end">1.3-1.4</text>
<text transform="translate(1357.5,791.1) rotate(-45) scale(1,1.04)" font-family="Liberation Sans, sans-serif" font-size="18.8" font-weight="bold" text-anchor="end">1.4-1.5</text>
<text transform="translate(0.00,991.50)" x="-2.03" y="0" font-family="Liberation Sans, sans-serif" font-size="52.00" font-weight="bold" >c</text>
<line x1="140.5" y1="977.5" x2="140.5" y2="1371" stroke="#000" stroke-width="1.6"/>
<line x1="140.5" y1="1371" x2="639.6" y2="1371" stroke="#000" stroke-width="1.6"/>
<line x1="133.7" y1="1371.0" x2="140.5" y2="1371.0" stroke="#000" stroke-width="1.6"/>
<text transform="translate(120.96,1375.50) scale(1,1.02)" x="-0.74" y="0" font-family="Liberation Sans, sans-serif" font-size="18.80" font-weight="bold" >0</text>
<line x1="133.7" y1="1292.4" x2="140.5" y2="1292.4" stroke="#000" stroke-width="1.6"/>
<text transform="translate(105.26,1296.90) scale(1,1.02)" x="-0.74" y="0" font-family="Liberation Sans, sans-serif" font-size="18.80" font-weight="bold" >0.2</text>
<line x1="133.7" y1="1213.8" x2="140.5" y2="1213.8" stroke="#000" stroke-width="1.6"/>
<text transform="translate(104.61,1218.30) scale(1,1.02)" x="-0.74" y="0" font-family="Liberation Sans, sans-serif" font-size="18.80" font-weight="bold" >0.4</text>
<line x1="133.7" y1="1135.2" x2="140.5" y2="1135.2" stroke="#000" stroke-width="1.6"/>
<text transform="translate(105.19,1139.70) scale(1,1.02)" x="-0.74" y="0" font-family="Liberation Sans, sans-serif" font-size="18.80" font-weight="bold" >0.6</text>
<line x1="133.7" y1="1056.6" x2="140.5" y2="1056.6" stroke="#000" stroke-width="1.6"/>
<text transform="translate(105.09,1061.10) scale(1,1.02)" x="-0.74" y="0" font-family="Liberation Sans, sans-serif" font-size="18.80" font-weight="bold" >0.8</text>
<line x1="133.7" y1="978.0" x2="140.5" y2="978.0" stroke="#000" stroke-width="1.6"/>
<text transform="translate(105.72,982.50) scale(1,1.02)" x="-1.18" y="0" font-family="Liberation Sans, sans-serif" font-size="18.80" font-weight="bold" >1.0</text>
<line x1="166" y1="1371" x2="166" y2="1378.5" stroke="#000" stroke-width="1.6"/>
<text transform="translate(170.5,1403.0) rotate(-20) scale(1,1.04)" font-family="Liberation Sans, sans-serif" font-size="17.8" font-weight="bold" text-anchor="middle">0.6-0.7</text>
<line x1="222" y1="1371" x2="222" y2="1378.5" stroke="#000" stroke-width="1.6"/>
<text transform="translate(226.5,1403.0) rotate(-20) scale(1,1.04)" font-family="Liberation Sans, sans-serif" font-size="17.8" font-weight="bold" text-anchor="middle">0.6-0.8</text>
<line x1="278" y1="1371" x2="278" y2="1378.5" stroke="#000" stroke-width="1.6"/>
<text transform="translate(282.5,1403.0) rotate(-20) scale(1,1.04)" font-family="Liberation Sans, sans-serif" font-size="17.8" font-weight="bold" text-anchor="middle">0.6-0.9</text>
<line x1="334" y1="1371" x2="334" y2="1378.5" stroke="#000" stroke-width="1.6"/>
<text transform="translate(338.5,1403.0) rotate(-20) scale(1,1.04)" font-family="Liberation Sans, sans-serif" font-size="17.8" font-weight="bold" text-anchor="middle">0.6-1.0</text>
<line x1="390" y1="1371" x2="390" y2="1378.5" stroke="#000" stroke-width="1.6"/>
<text transform="translate(394.5,1403.0) rotate(-20) scale(1,1.04)" font-family="Liberation Sans, sans-serif" font-size="17.8" font-weight="bold" text-anchor="middle">0.6-1.1</text>
<line x1="446" y1="1371" x2="446" y2="1378.5" stroke="#000" stroke-width="1.6"/>
<text transform="translate(450.5,1403.0) rotate(-20) scale(1,1.04)" font-family="Liberation Sans, sans-serif" font-size="17.8" font-weight="bold" text-anchor="middle">0.6-1.2</text>
<line x1="502" y1="1371" x2="502" y2="1378.5" stroke="#000" stroke-width="1.6"/>
<text transform="translate(506.5,1403.0) rotate(-20) scale(1,1.04)" font-family="Liberation Sans, sans-serif" font-size="17.8" font-weight="bold" text-anchor="middle">0.6-1.3</text>
<line x1="558" y1="1371" x2="558" y2="1378.5" stroke="#000" stroke-width="1.6"/>
<text transform="translate(562.5,1403.0) rotate(-20) scale(1,1.04)" font-family="Liberation Sans, sans-serif" font-size="17.8" font-weight="bold" text-anchor="middle">0.6-1.4</text>
<line x1="614" y1="1371" x2="614" y2="1378.5" stroke="#000" stroke-width="1.6"/>
<text transform="translate(618.5,1403.0) rotate(-20) scale(1,1.04)" font-family="Liberation Sans, sans-serif" font-size="17.8" font-weight="bold" text-anchor="middle">0.6-1.5</text>
<polyline points="166.0,1369.8 222.0,1369.8 278.0,1358.0 334.0,1239.3 390.0,1137.6 446.0,1042.5 502.0,1002.8 558.0,990.6 614.0,988.2" fill="none" stroke="#4472c4" stroke-width="5.5" stroke-linejoin="round"/>
<circle cx="166.0" cy="1369.8" r="7" fill="#4472c4"/>
<circle cx="222.0" cy="1369.8" r="7" fill="#4472c4"/>
<circle cx="278.0" cy="1358.0" r="7" fill="#4472c4"/>
<circle cx="334.0" cy="1239.3" r="7" fill="#4472c4"/>
<circle cx="390.0" cy="1137.6" r="7" fill="#4472c4"/>
<circle cx="446.0" cy="1042.5" r="7" fill="#4472c4"/>
<circle cx="502.0" cy="1002.8" r="7" fill="#4472c4"/>
<circle cx="558.0" cy="990.6" r="7" fill="#4472c4"/>
<circle cx="614.0" cy="988.2" r="7" fill="#4472c4"/>
<polyline points="166.0,1369.0 222.0,1361.6 278.0,1347.4 334.0,1156.8 390.0,1064.1 446.0,1007.5 502.0,988.6 558.0,987.8 614.0,987.8" fill="none" stroke="#ed7d31" stroke-width="5.5" stroke-linejoin="round"/>
<circle cx="166.0" cy="1369.0" r="7" fill="#ed7d31"/>
<circle cx="222.0" cy="1361.6" r="7" fill="#ed7d31"/>
<circle cx="278.0" cy="1347.4" r="7" fill="#ed7d31"/>
<circle cx="334.0" cy="1156.8" r="7" fill="#ed7d31"/>
<circle cx="390.0" cy="1064.1" r="7" fill="#ed7d31"/>
<circle cx="446.0" cy="1007.5" r="7" fill="#ed7d31"/>
<circle cx="502.0" cy="988.6" r="7" fill="#ed7d31"/>
<circle cx="558.0" cy="987.8" r="7" fill="#ed7d31"/>
<circle cx="614.0" cy="987.8" r="7" fill="#ed7d31"/>
<polyline points="166.0,1369.8 222.0,1369.0 278.0,1345.8 334.0,1179.4 390.0,1077.0 446.0,1024.4 502.0,1002.8 558.0,991.8 614.0,988.2" fill="none" stroke="#a5a5a5" stroke-width="5.5" stroke-linejoin="round"/>
<circle cx="166.0" cy="1369.8" r="7" fill="#a5a5a5"/>
<circle cx="222.0" cy="1369.0" r="7" fill="#a5a5a5"/>
<circle cx="278.0" cy="1345.8" r="7" fill="#a5a5a5"/>
<circle cx="334.0" cy="1179.4" r="7" fill="#a5a5a5"/>
<circle cx="390.0" cy="1077.0" r="7" fill="#a5a5a5"/>
<circle cx="446.0" cy="1024.4" r="7" fill="#a5a5a5"/>
<circle cx="502.0" cy="1002.8" r="7" fill="#a5a5a5"/>
<circle cx="558.0" cy="991.8" r="7" fill="#a5a5a5"/>
<circle cx="614.0" cy="988.2" r="7" fill="#a5a5a5"/>
<polyline points="166.0,1369.0 222.0,1366.7 278.0,1348.6 334.0,1125.8 390.0,1049.5 446.0,1007.9 502.0,994.9 558.0,988.2 614.0,988.2" fill="none" stroke="#ffc000" stroke-width="5.5" stroke-linejoin="round"/>
<circle cx="166.0" cy="1369.0" r="7" fill="#ffc000"/>
<circle cx="222.0" cy="1366.7" r="7" fill="#ffc000"/>
<circle cx="278.0" cy="1348.6" r="7" fill="#ffc000"/>
<circle cx="334.0" cy="1125.8" r="7" fill="#ffc000"/>
<circle cx="390.0" cy="1049.5" r="7" fill="#ffc000"/>
<circle cx="446.0" cy="1007.9" r="7" fill="#ffc000"/>
<circle cx="502.0" cy="994.9" r="7" fill="#ffc000"/>
<circle cx="558.0" cy="988.2" r="7" fill="#ffc000"/>
<circle cx="614.0" cy="988.2" r="7" fill="#ffc000"/>
<path d="M332.6,1126 H260 V1238.7 H297.4 M335.3,1159.5 H307 V1238.2 H334.5 M393,1076.9 H430.4 V1137.7 H393" fill="none" stroke="#000" stroke-width="1.8"/>
<text transform="translate(263.20,1193.10) scale(1,1.02)" x="-0.05" y="0" font-family="Liberation Sans, sans-serif" font-size="17.70" font-weight="bold" >**</text>
<text transform="translate(309.20,1208.30) scale(1,1.02)" x="-0.05" y="0" font-family="Liberation Sans, sans-serif" font-size="17.70" font-weight="bold" >**</text>
<text transform="translate(421.90,1116.20) scale(1,1.02)" x="-0.05" y="0" font-family="Liberation Sans, sans-serif" font-size="16.00" font-weight="bold" >*</text>
<line x1="529" y1="1152.4" x2="560" y2="1152.4" stroke="#4472c4" stroke-width="4" stroke-linecap="round"/>
<circle cx="544.5" cy="1152.4" r="4.6" fill="#4472c4"/>
<text transform="translate(567.10,1160.10) scale(1,1.02)" x="-0.02" y="0" font-family="Liberation Sans, sans-serif" font-size="21.84" font-weight="bold" >WT</text>
<line x1="529" y1="1175.6" x2="560" y2="1175.6" stroke="#ed7d31" stroke-width="4" stroke-linecap="round"/>
<circle cx="544.5" cy="1175.6" r="4.6" fill="#ed7d31"/>
<text transform="translate(567.10,1184.00) scale(1,1.02)" x="-0.51" y="0" font-family="Liberation Sans, sans-serif" font-size="22.06" font-weight="bold" >3MST</text>
<line x1="529" y1="1198.3" x2="560" y2="1198.3" stroke="#a5a5a5" stroke-width="4" stroke-linecap="round"/>
<circle cx="544.5" cy="1198.3" r="4.6" fill="#a5a5a5"/>
<text transform="translate(567.10,1206.50) scale(1,1.02)" x="-0.24" y="0" font-family="Liberation Sans, sans-serif" font-size="21.39" font-weight="bold" >TRPA1</text>
<line x1="529" y1="1221.3" x2="560" y2="1221.3" stroke="#ffc000" stroke-width="4" stroke-linecap="round"/>
<circle cx="544.5" cy="1221.3" r="4.6" fill="#ffc000"/>
<text transform="translate(567.10,1228.40) scale(1,1.02)" x="-1.42" y="0" font-family="Liberation Sans, sans-serif" font-size="21.29" font-weight="bold" >M/T</text>
<text transform="translate(345.40,1441.00) scale(1,1.02)" x="-1.50" y="0" font-family="Liberation Sans, sans-serif" font-size="22.40" font-weight="bold" >NMDA/KCl</text>
<text transform="translate(94.40,1278.40) rotate(-90) scale(1,1.02)" x="-0.90" y="0" font-family="Liberation Sans, sans-serif" font-size="21.96" font-weight="bold" >Cumulative probability</text>
<text transform="translate(982.60,990.60)" x="-2.13" y="0" font-family="Liberation Sans, sans-serif" font-size="52.00" font-weight="bold" >d</text>
<rect x="1053.5" y="1068.7" width="49.9" height="291.3" fill="#4472c4"/>
<path d="M1078.5,1068.7 V1066.1 M1073.0,1066.1 H1084.0" stroke="#555" stroke-width="1.8" fill="none"/>
<rect x="1129.2" y="1083.8" width="49.5" height="276.2" fill="#ed7d31"/>
<path d="M1154.0,1083.8 V1081.9 M1148.5,1081.9 H1159.5" stroke="#555" stroke-width="1.8" fill="none"/>
<rect x="1204.3" y="1078.1" width="50.1" height="281.9" fill="#a5a5a5"/>
<path d="M1229.3,1078.1 V1075.6 M1223.8,1075.6 H1234.8" stroke="#555" stroke-width="1.8" fill="none"/>
<rect x="1280" y="1085" width="49.8" height="275.0" fill="#ffc000"/>
<path d="M1304.9,1085 V1082.9 M1299.4,1082.9 H1310.4" stroke="#555" stroke-width="1.8" fill="none"/>
<line x1="1040.8" y1="1031" x2="1040.8" y2="1360" stroke="#000" stroke-width="2.3"/>
<line x1="1040.8" y1="1360" x2="1342" y2="1360" stroke="#000" stroke-width="2.3"/>
<line x1="1033.7" y1="1360.0" x2="1040.8" y2="1360.0" stroke="#000" stroke-width="2.3"/>
<text transform="translate(1016.41,1367.60) scale(1,1.02)" x="-0.99" y="0" font-family="Liberation Sans, sans-serif" font-size="25.00" font-weight="bold" >0</text>
<line x1="1033.7" y1="1305.3" x2="1040.8" y2="1305.3" stroke="#000" stroke-width="2.3"/>
<text transform="translate(1002.38,1312.95) scale(1,1.02)" x="-0.87" y="0" font-family="Liberation Sans, sans-serif" font-size="25.00" font-weight="bold" >20</text>
<line x1="1033.7" y1="1250.7" x2="1040.8" y2="1250.7" stroke="#000" stroke-width="2.3"/>
<text transform="translate(1001.90,1258.30) scale(1,1.02)" x="-0.38" y="0" font-family="Liberation Sans, sans-serif" font-size="25.00" font-weight="bold" >40</text>
<line x1="1033.7" y1="1196.0" x2="1040.8" y2="1196.0" stroke="#000" stroke-width="2.3"/>
<text transform="translate(1002.43,1203.65) scale(1,1.02)" x="-0.92" y="0" font-family="Liberation Sans, sans-serif" font-size="25.00" font-weight="bold" >60</text>
<line x1="1033.7" y1="1141.4" x2="1040.8" y2="1141.4" stroke="#000" stroke-width="2.3"/>
<text transform="translate(1002.31,1149.00) scale(1,1.02)" x="-0.79" y="0" font-family="Liberation Sans, sans-serif" font-size="25.00" font-weight="bold" >80</text>
<line x1="1033.7" y1="1086.8" x2="1040.8" y2="1086.8" stroke="#000" stroke-width="2.3"/>
<text transform="translate(989.19,1094.35) scale(1,1.02)" x="-1.57" y="0" font-family="Liberation Sans, sans-serif" font-size="25.00" font-weight="bold" >100</text>
<line x1="1033.7" y1="1032.1" x2="1040.8" y2="1032.1" stroke="#000" stroke-width="2.3"/>
<text transform="translate(989.19,1039.70) scale(1,1.02)" x="-1.57" y="0" font-family="Liberation Sans, sans-serif" font-size="25.00" font-weight="bold" >120</text>
<path d="M1076.6,1058 V1014.3 H1305.2 V1071 M1076.6,1026.3 H1233.3 V1066 M1076.6,1039.5 H1154.4 V1071.3" fill="none" stroke="#000" stroke-width="2.6" stroke-linejoin="round"/>
<text transform="translate(1104.00,1064.81) scale(1,1.02)" x="-0.08" y="0" font-family="Liberation Sans, sans-serif" font-size="27.50" font-weight="bold" >**</text>
<text transform="translate(1182.00,1054.11) scale(1,1.02)" x="-0.08" y="0" font-family="Liberation Sans, sans-serif" font-size="27.50" font-weight="bold" >**</text>
<text transform="translate(1255.80,1040.51) scale(1,1.02)" x="-0.08" y="0" font-family="Liberation Sans, sans-serif" font-size="27.50" font-weight="bold" >**</text>
<text transform="translate(981.90,1281.00) rotate(-90)" x="-1.76" y="0" font-family="Liberation Sans, sans-serif" font-size="26.30" font-weight="bold" >NMDA/KCl (%)</text>
<text transform="translate(1092.0,1385.0) rotate(-28) scale(1,1.04)" font-family="Liberation Sans, sans-serif" font-size="25.5" font-weight="bold" text-anchor="end">WT</text>
<text transform="translate(1164.0,1386.0) rotate(-28) scale(1,1.04)" font-family="Liberation Sans, sans-serif" font-size="25.5" font-weight="bold" text-anchor="end">3MST</text>
<text transform="translate(1236.0,1389.0) rotate(-28) scale(1,1.04)" font-family="Liberation Sans, sans-serif" font-size="25.5" font-weight="bold" text-anchor="end">TRPA1</text>
<text transform="translate(1318.0,1386.0) rotate(-28) scale(1,1.04)" font-family="Liberation Sans, sans-serif" font-size="25.5" font-weight="bold" text-anchor="end">M/T</text>
<text transform="translate(51.70,1573.90)" x="-2.03" y="0" font-family="Liberation Sans, sans-serif" font-size="52.00" font-weight="bold" >e</text>
<polyline points="189.0,1629.0 190.0,1630.9 191.0,1634.0 192.0,1637.4 193.0,1638.3 194.0,1644.2 197.0,1645.0 199.6,1645.3 202.2,1646.1 204.8,1646.6 207.4,1646.1 210.0,1646.1 212.2,1644.9 214.4,1645.5 216.7,1646.0 218.9,1646.6 221.1,1647.2 223.3,1646.1 225.6,1649.0 227.8,1647.5 230.0,1649.1 232.2,1647.7 234.4,1646.8 236.7,1647.5 238.9,1647.7 241.1,1648.9 243.3,1647.7 245.6,1648.2 247.8,1647.0 250.0,1647.9 252.2,1647.3 254.4,1648.0 256.7,1646.3 258.9,1646.3 261.1,1649.9 263.3,1648.9 265.6,1650.0 267.8,1649.9 270.0,1647.1 272.2,1644.7 274.4,1648.0 276.7,1649.5 278.9,1646.7 281.1,1649.2 283.3,1649.1 285.6,1647.7 287.8,1650.6 290.0,1648.5 292.2,1650.2 294.4,1648.1 296.7,1643.1 298.9,1650.6 301.1,1649.5 303.3,1648.3 305.6,1648.8 307.8,1654.0 310.0,1650.7 312.2,1650.4 314.4,1649.8 316.7,1648.0 318.9,1649.3 321.1,1651.6 323.3,1652.1 325.6,1652.5 327.8,1650.9 330.0,1649.5 332.5,1651.3 335.0,1650.9 337.5,1651.8 340.0,1652.9 342.5,1651.5 345.0,1652.6 347.5,1652.4 350.0,1651.0 351.0,1651.2 352.0,1647.2 353.5,1648.7 355.0,1651.8 356.0,1651.0 357.0,1647.4 357.1,1647.8 357.2,1644.6 357.3,1641.2 357.4,1637.2 357.5,1637.0 357.7,1633.5 357.8,1633.1 357.9,1628.7 358.0,1628.8 358.1,1627.4 358.2,1622.5 358.3,1621.4 358.4,1619.8 358.5,1615.5 358.6,1612.4 358.8,1611.7 358.9,1608.0 359.0,1605.7 359.1,1603.5 359.2,1602.8 359.3,1600.1 359.4,1598.1 359.5,1598.5 359.6,1592.0 359.7,1591.4 359.8,1588.7 359.9,1587.9 359.9,1583.7 360.0,1582.5 360.1,1580.5 360.2,1579.9 360.3,1575.3 360.4,1574.4 360.5,1571.1 360.6,1569.5 360.7,1566.1 360.8,1564.4 360.9,1562.8 360.9,1559.4 361.0,1557.7 361.1,1556.2 361.2,1555.9 361.3,1550.8 361.4,1549.3 361.5,1547.0 361.6,1548.8 361.7,1551.1 361.9,1552.9 362.0,1556.5 362.1,1558.9 362.2,1560.1 362.3,1561.9 362.4,1564.3 362.6,1566.2 362.7,1569.5 362.8,1570.8 362.9,1574.5 363.0,1575.0 363.1,1578.2 363.2,1581.2 363.4,1582.4 363.5,1584.7 363.6,1586.1 363.7,1589.7 363.8,1591.1 363.9,1592.6 364.1,1593.5 364.2,1597.8 364.3,1599.2 364.4,1601.9 364.5,1605.6 364.6,1606.7 364.7,1607.8 364.9,1609.3 365.0,1614.1 365.1,1617.3 365.2,1618.1 365.3,1619.9 365.4,1621.3 365.5,1624.1 365.6,1627.6 365.7,1628.2 365.8,1633.1 365.9,1633.4 366.1,1635.1 366.2,1638.7 366.3,1640.2 366.4,1641.9 366.5,1645.0 367.3,1647.5 368.2,1649.4 369.0,1652.8 372.0,1651.7 374.7,1656.2 377.3,1652.1 380.0,1653.3 381.0,1650.5 382.0,1648.9 383.0,1646.5 384.0,1645.7 385.2,1643.5 386.5,1639.6 387.1,1642.3 387.8,1645.3 388.4,1647.6 389.0,1650.3 390.5,1647.2 392.0,1644.2 393.2,1642.4 394.5,1642.3 395.1,1643.7 395.8,1643.5 396.4,1647.7 397.0,1649.9 399.5,1652.6 402.0,1652.5 404.2,1653.1 406.5,1653.2 408.8,1652.8 411.0,1656.0 413.2,1655.1 415.5,1653.2 417.8,1653.5 420.0,1652.4 422.4,1655.4 424.8,1654.5 427.2,1654.2 429.6,1654.1 432.0,1654.4 433.0,1652.2 434.0,1649.6 435.0,1648.1 436.0,1650.8 437.0,1651.6 438.0,1654.3 440.4,1654.3 442.8,1653.1 445.2,1653.0 447.6,1653.4 450.0,1654.2 450.5,1652.0 451.0,1650.3 451.5,1645.8 452.0,1643.1 452.5,1643.2 453.1,1640.2 453.6,1638.5 454.2,1635.6 454.7,1634.6 455.4,1636.2 456.0,1639.1 456.7,1640.8 457.3,1643.8 458.0,1643.6 459.0,1648.9 460.0,1645.0 461.0,1652.4 461.7,1649.3 462.3,1648.6 463.0,1645.1 463.5,1643.3 464.0,1638.7 464.5,1639.9 465.0,1635.6 465.5,1634.3 466.0,1632.3 466.4,1634.9 466.9,1636.0 467.3,1637.2 467.7,1642.6 468.1,1644.7 468.6,1643.1 469.0,1647.2 470.5,1650.8 472.0,1653.2 474.7,1653.6 477.3,1653.4 480.0,1653.7 482.2,1654.3 484.4,1654.0 486.7,1654.6 488.9,1654.9 491.1,1655.5 493.3,1656.1 495.6,1655.2 497.8,1656.0 500.0,1654.4 502.5,1655.9 505.0,1654.8 507.5,1653.6 510.0,1655.2 512.5,1653.8 515.0,1654.9 516.1,1653.0 517.2,1650.0 518.4,1648.0 519.5,1643.4 520.6,1647.0 521.8,1649.4 522.9,1651.0 524.0,1653.7 526.0,1652.2 528.0,1652.5 530.0,1649.3 532.4,1650.9 534.9,1652.2 537.3,1650.9 539.7,1650.7 542.1,1653.4 544.6,1653.2 547.0,1652.6 549.3,1653.2 551.6,1654.3 553.9,1653.9 556.2,1657.0 558.5,1654.2 560.8,1651.5 563.1,1654.6 565.4,1654.6 567.7,1653.5 570.0,1653.6 572.7,1653.3 575.3,1652.8 578.0,1651.9 579.3,1649.6 580.7,1647.8 582.0,1645.1 583.3,1648.9 584.7,1651.2 586.0,1652.1 588.3,1653.6 590.7,1651.0 593.0,1652.4 595.3,1654.5 597.7,1653.0 600.0,1655.2 602.2,1654.4 604.4,1653.7 606.7,1654.7 608.9,1653.7 611.1,1654.2 613.3,1654.3 615.6,1655.3 617.8,1655.6 620.0,1652.8 622.2,1655.1 624.4,1652.1 626.6,1653.2 628.8,1651.8 631.0,1650.2 633.5,1650.7 636.0,1651.8 638.2,1651.5 640.5,1653.8 642.8,1655.9 645.0,1656.9 648.0,1658.2 651.0,1657.6 653.0,1657.9 655.0,1657.2 657.0,1653.1 658.7,1651.4 660.3,1650.6 662.0,1648.5 663.5,1644.8 665.0,1645.7 665.1,1643.2 665.2,1640.3 665.3,1637.5 665.4,1635.9 665.5,1633.4 665.6,1633.3 665.7,1628.7 665.8,1626.9 665.9,1623.5 666.0,1623.0 666.1,1619.8 666.2,1617.9 666.3,1615.8 666.4,1612.4 666.5,1609.7 666.6,1608.7 666.7,1607.0 666.8,1604.3 666.9,1601.4 667.0,1599.8 667.1,1598.4 667.2,1596.2 667.2,1594.4 667.3,1592.2 667.4,1589.3 667.5,1586.5 667.6,1583.5 667.7,1582.9 667.7,1579.6 667.8,1579.0 667.9,1575.3 668.0,1572.2 668.1,1570.6 668.1,1567.8 668.2,1565.9 668.3,1565.4 668.4,1562.6 668.5,1559.3 668.5,1559.4 668.6,1555.7 668.7,1554.7 668.8,1551.6 668.9,1549.7 669.0,1548.2 669.0,1545.5 669.1,1542.1 669.2,1538.3 669.5,1539.8 669.7,1534.5 670.0,1534.1 670.3,1531.4 670.5,1528.2 670.8,1527.4 671.1,1525.2 671.3,1522.7 671.6,1520.9 671.7,1523.0 671.9,1522.1 672.0,1526.8 672.2,1529.0 672.3,1528.0 672.5,1532.5 672.6,1535.7 672.8,1537.2 672.9,1540.5 673.0,1542.5 673.2,1543.3 673.3,1548.1 673.5,1548.0 673.6,1551.3 673.8,1554.7 673.9,1556.4 674.1,1558.4 674.2,1556.5 674.3,1563.6 674.4,1564.5 674.5,1566.6 674.5,1569.6 674.6,1571.2 674.7,1573.0 674.8,1575.5 674.9,1575.7 675.0,1580.4 675.1,1583.5 675.1,1583.6 675.2,1585.4 675.3,1589.9 675.4,1592.2 675.5,1591.7 675.6,1597.1 675.6,1598.0 675.7,1600.9 675.8,1600.4 675.9,1604.6 676.0,1604.8 676.1,1606.8 676.2,1612.2 676.2,1612.7 676.3,1615.9 676.4,1617.5 676.5,1619.6 677.1,1623.1 677.7,1625.1 678.2,1627.1 678.8,1629.5 679.4,1631.3 680.0,1633.7 681.0,1636.2 682.0,1637.9 683.0,1639.8 684.0,1643.5 686.0,1644.6 688.0,1646.9 690.0,1645.4 692.0,1644.2 694.0,1642.3 695.8,1642.3 697.5,1640.1 699.2,1639.7 701.0,1636.9 701.2,1634.3 701.5,1634.0 701.8,1630.3 702.0,1625.3 702.2,1624.7 702.5,1624.4 702.8,1621.7 703.0,1618.7 703.2,1617.7 703.5,1613.7 703.8,1613.1 704.0,1612.5 704.2,1606.9 704.4,1605.8 704.6,1603.1 704.8,1600.1 704.9,1598.6 705.1,1593.0 705.3,1593.7 705.5,1590.8 705.7,1589.8 705.9,1587.9 706.1,1585.6 706.2,1583.7 706.4,1580.6 706.6,1578.5 706.8,1575.5 707.0,1573.0 707.2,1577.1 707.4,1579.2 707.6,1580.0 707.8,1583.1 708.0,1585.4 708.2,1587.7 708.4,1589.7 708.6,1592.1 708.9,1593.7 709.1,1596.1 709.3,1597.4 709.5,1601.7 709.7,1602.9 709.9,1605.6 710.1,1607.7 710.3,1612.2 710.5,1611.1 710.6,1610.0 710.8,1607.2 710.9,1605.4 711.0,1603.2 711.2,1601.8 711.3,1598.2 711.5,1596.4 711.6,1599.1 711.7,1591.9 711.9,1590.2 712.0,1587.0 712.1,1585.0 712.3,1582.9 712.4,1580.2 712.6,1579.3 712.7,1577.2 712.8,1575.4 713.0,1571.6 713.1,1570.4 713.2,1564.2 713.4,1565.6 713.5,1564.3 713.7,1560.3 713.8,1556.9 714.0,1561.4 714.1,1562.6 714.3,1567.1 714.4,1566.9 714.6,1569.1 714.7,1573.1 714.9,1573.0 715.1,1577.7 715.2,1578.7 715.4,1579.2 715.5,1583.2 715.7,1586.1 715.8,1589.7 716.0,1589.4 716.2,1592.4 716.5,1594.9 716.7,1597.9 716.9,1600.1 717.1,1601.4 717.4,1604.4 717.6,1606.2 717.8,1608.8 718.0,1610.6 718.3,1613.9 718.5,1615.4 718.9,1614.0 719.2,1610.5 719.6,1610.0 719.9,1607.8 720.3,1602.3 720.6,1603.2 721.0,1599.6 721.5,1596.7 722.0,1594.9 722.5,1593.0 723.0,1591.7 723.5,1588.7 724.0,1586.5 724.5,1593.7 725.0,1592.4 725.5,1593.6 726.0,1595.5 726.4,1598.9 726.7,1600.8 727.1,1601.8 727.5,1605.0 727.9,1607.5 728.2,1609.8 728.6,1610.3 728.9,1607.9 729.3,1606.3 729.6,1605.9 730.0,1601.0 730.3,1600.6 730.7,1596.4 731.0,1592.2 732.0,1593.4 733.0,1590.1 734.0,1586.5 734.6,1591.2 735.2,1592.7 735.8,1594.1 736.4,1597.8 737.0,1598.9 737.5,1602.8 738.0,1601.5 738.6,1605.0 739.1,1609.4 739.6,1613.7 742.2,1612.7 744.7,1613.5 744.9,1610.9 745.2,1609.2 745.4,1606.9 745.6,1604.4 745.9,1600.9 746.1,1599.5 746.3,1596.3 746.5,1592.0 746.8,1592.9 747.0,1590.6 747.2,1586.8 747.3,1585.5 747.5,1582.8 747.7,1581.3 747.8,1576.6 748.0,1576.9 748.2,1572.8 748.4,1570.9 748.5,1568.8 748.7,1569.4 748.9,1565.5 749.0,1564.7 749.2,1561.1 749.4,1559.7 749.5,1556.6 749.7,1553.6 749.9,1557.7 750.1,1560.6 750.3,1560.5 750.5,1562.6 750.7,1567.1 751.0,1566.7 751.2,1571.0 751.4,1572.3 751.6,1573.9 751.8,1577.9 752.0,1579.1 752.2,1583.3 752.4,1583.6 752.5,1586.5 752.7,1589.7 752.9,1591.8 753.1,1594.7 753.3,1596.9 753.5,1599.7 753.6,1600.4 753.8,1602.8 754.0,1605.1 754.5,1607.3 755.0,1609.8 755.4,1610.1 755.9,1613.9 756.4,1616.1 758.2,1617.5 760.0,1618.0 762.5,1620.1 765.0,1618.4 767.5,1619.1 770.0,1621.4 772.5,1621.5 775.0,1625.6 777.2,1625.3 779.3,1628.9 781.5,1626.9 784.3,1625.4 787.2,1625.8 790.0,1623.3 792.5,1623.1 795.0,1622.0 797.2,1620.2 799.4,1618.5 801.6,1616.5 803.8,1619.2 806.0,1622.2 809.0,1621.1 812.0,1620.6 815.0,1619.9 818.0,1619.7 818.5,1617.8 819.0,1614.2 819.5,1612.8 820.0,1611.5 820.9,1608.0 821.7,1600.2 822.0,1606.7 822.2,1608.2 822.5,1611.3 822.7,1612.2 823.0,1615.9 824.0,1616.7 825.0,1621.4 827.5,1619.1 830.0,1618.2 832.5,1616.2 835.0,1615.8 837.5,1615.9 840.0,1617.9 841.8,1615.2 843.5,1614.1 845.0,1615.1 846.5,1616.6 848.0,1619.0 850.0,1620.7 852.0,1622.6 854.2,1623.3 856.4,1624.4 858.6,1625.8 862.0,1626.8 866.0,1628.1 868.0,1626.9 870.0,1630.1 872.0,1630.0" fill="none" stroke="#000" stroke-width="4.2" stroke-linejoin="round" stroke-linecap="round"/>
<line x1="309.7" y1="1680.2" x2="387.4" y2="1680.2" stroke="#808080" stroke-width="2"/>
<line x1="646.8" y1="1680.2" x2="706.8" y2="1680.2" stroke="#808080" stroke-width="2"/>
<text x="303.5" y="1706.7" font-family="Liberation Sans, sans-serif" font-size="26" font-weight="bold">Na<tspan font-size="15.5" dy="8.5">2</tspan><tspan dy="-8.5">S</tspan><tspan font-size="15.5" dy="8.5">3</tspan><tspan dy="-8.5" dx="1"> 20</tspan><tspan font-weight="normal" font-family="Liberation Serif, serif">µ</tspan>M</text>
<text x="628" y="1706" font-family="Liberation Sans, sans-serif" font-size="26" font-weight="bold">L-glutamate 100<tspan font-weight="normal" font-family="Liberation Serif, serif">µ</tspan>M</text>
<polyline points="825,1635.7 877.7,1635.7 877.7,1600.5" fill="none" stroke="#000" stroke-width="2"/>
<text transform="translate(825.00,1665.80) scale(1,1.02)" x="-0.91" y="0" font-family="Liberation Sans, sans-serif" font-size="26.24" font-weight="bold" >2min</text>
<text transform="translate(887.3,1569.5) rotate(90) scale(0.95,1)" font-family="Liberation Sans, sans-serif" font-size="27" font-weight="bold" font-style="italic"><tspan font-weight="normal" font-style="normal" style="stroke:none">∆</tspan>F/Fo=0.2</text>
<clipPath id="c5"><rect x="200.9" y="1737.1" width="230.5" height="163.2"/></clipPath>
<g clip-path="url(#c5)">
<rect x="200.9" y="1737.1" width="230.5" height="163.2" fill="#c9c9c9"/>
<rect x="200.9" y="1737.1" width="230.5" height="163.2" fill="#c9c9c9" filter="url(#tex2)" opacity="0.8"/>
<path d="M193.2,1758.4 C193.7,1756.5 195.8,1750.9 196.1,1747.1 C196.4,1743.2 196.7,1738.8 195.2,1735.4 C193.7,1732.0 189.9,1729.6 187.1,1726.9 C184.3,1724.2 181.6,1721.0 178.3,1719.2 C174.9,1717.4 168.9,1716.7 167.0,1716.2" fill="none" stroke="#000" stroke-opacity="0.08" stroke-width="1.1"/>
<path d="M233.1,1890.4 C232.6,1894.7 228.9,1908.2 230.3,1916.5 C231.8,1924.7 237.6,1932.4 241.8,1940.0 C246.0,1947.7 251.9,1954.5 255.4,1962.5 C258.9,1970.4 260.2,1979.3 262.7,1987.6 C265.3,1996.0 269.2,2008.5 270.6,2012.7" fill="none" stroke="#fff" stroke-opacity="0.06" stroke-width="0.9"/>
<path d="M216.1,1817.0 C218.8,1815.8 228.0,1813.3 232.5,1809.6 C236.9,1805.9 240.3,1800.2 242.6,1794.8 C245.0,1789.4 244.5,1782.9 246.5,1777.2 C248.5,1771.6 250.9,1765.8 254.5,1761.1 C258.1,1756.5 265.8,1751.4 268.1,1749.4" fill="none" stroke="#fff" stroke-opacity="0.06" stroke-width="1.2"/>
<path d="M245.1,1869.4 C242.5,1866.0 231.7,1856.8 229.1,1849.1 C226.4,1841.4 229.4,1831.8 229.3,1823.2 C229.2,1814.5 225.9,1805.0 228.4,1797.3 C230.8,1789.6 240.0,1784.2 244.1,1776.8 C248.3,1769.3 251.8,1756.6 253.3,1752.5" fill="none" stroke="#fff" stroke-opacity="0.06" stroke-width="1.3"/>
<path d="M423.5,1829.9 C419.0,1832.0 406.1,1839.5 396.7,1842.3 C387.4,1845.0 377.0,1843.8 367.5,1846.1 C358.0,1848.5 349.1,1853.0 339.8,1856.2 C330.6,1859.5 319.1,1859.9 311.9,1865.7 C304.7,1871.5 299.2,1886.7 296.7,1890.9" fill="none" stroke="#fff" stroke-opacity="0.08" stroke-width="1.3"/>
<path d="M186.2,1808.1 C186.7,1810.9 189.0,1819.3 188.9,1824.9 C188.8,1830.5 187.2,1836.1 185.5,1841.5 C183.8,1846.9 180.5,1851.8 178.8,1857.1 C177.1,1862.5 174.8,1868.3 175.2,1873.7 C175.6,1879.2 180.0,1887.0 181.0,1889.7" fill="none" stroke="#000" stroke-opacity="0.10" stroke-width="1.5"/>
<path d="M379.9,1760.2 C381.5,1758.5 386.2,1753.4 389.4,1750.1 C392.6,1746.8 396.0,1743.6 399.1,1740.2 C402.2,1736.8 406.3,1733.6 408.0,1729.6 C409.7,1725.5 407.6,1719.9 409.3,1715.8 C411.0,1711.7 416.6,1706.8 418.1,1705.0" fill="none" stroke="#000" stroke-opacity="0.09" stroke-width="0.8"/>
<path d="M184.6,1909.9 C187.2,1906.8 197.0,1898.7 200.6,1891.7 C204.1,1884.7 206.1,1875.9 205.9,1868.1 C205.7,1860.3 203.6,1851.0 199.1,1844.9 C194.6,1838.7 184.6,1836.9 179.2,1831.2 C173.7,1825.5 168.5,1814.1 166.4,1810.6" fill="none" stroke="#000" stroke-opacity="0.05" stroke-width="1.0"/>
<path d="M305.2,1822.5 C303.6,1821.5 298.9,1817.5 295.4,1816.6 C291.8,1815.7 287.7,1816.7 283.9,1816.9 C280.1,1817.2 276.3,1818.3 272.5,1818.1 C268.7,1817.9 264.9,1815.5 261.3,1815.7 C257.6,1815.9 252.2,1818.8 250.4,1819.5" fill="none" stroke="#000" stroke-opacity="0.15" stroke-width="1.3"/>
<path d="M232.8,1851.2 C237.7,1851.2 253.2,1853.6 262.3,1851.0 C271.4,1848.4 280.3,1842.1 287.4,1835.5 C294.5,1829.0 298.3,1819.1 304.7,1811.7 C311.2,1804.3 317.7,1795.9 326.0,1791.2 C334.3,1786.6 349.8,1785.2 354.6,1784.0" fill="none" stroke="#000" stroke-opacity="0.13" stroke-width="1.1"/>
<path d="M304.8,1854.6 C306.1,1858.8 308.0,1872.6 312.3,1880.0 C316.6,1887.4 325.1,1892.1 330.6,1899.0 C336.0,1905.9 340.1,1913.9 344.7,1921.3 C349.4,1928.8 352.1,1938.5 358.5,1943.9 C364.9,1949.3 378.9,1952.0 383.0,1953.7" fill="none" stroke="#fff" stroke-opacity="0.13" stroke-width="1.1"/>
<path d="M395.7,1872.7 C397.3,1873.0 401.9,1874.1 405.1,1874.5 C408.2,1874.9 411.5,1874.6 414.6,1875.2 C417.7,1875.9 420.5,1878.0 423.6,1878.3 C426.7,1878.6 430.2,1878.1 433.1,1876.9 C435.9,1875.7 439.4,1872.1 440.6,1871.1" fill="none" stroke="#000" stroke-opacity="0.15" stroke-width="0.8"/>
<circle cx="420.8" cy="1833.9" r="1.2" fill="#fff" fill-opacity="0.34"/>
<circle cx="302.4" cy="1808.0" r="0.9" fill="#fff" fill-opacity="0.46"/>
<circle cx="414.1" cy="1893.0" r="1.6" fill="#fff" fill-opacity="0.46"/>
<circle cx="400.0" cy="1743.8" r="1.7" fill="#fff" fill-opacity="0.58"/>
<circle cx="235.0" cy="1796.8" r="1.3" fill="#fff" fill-opacity="0.62"/>
<circle cx="337.2" cy="1776.3" r="1.8" fill="#fff" fill-opacity="0.49"/>
<circle cx="381.0" cy="1795.4" r="1.2" fill="#fff" fill-opacity="0.43"/>
<circle cx="238.5" cy="1862.2" r="1.6" fill="#fff" fill-opacity="0.46"/>
<circle cx="340.0" cy="1849.4" r="2.0" fill="#fff" fill-opacity="0.35"/>
<circle cx="223.1" cy="1881.6" r="1.9" fill="#fff" fill-opacity="0.59"/>
<circle cx="325.1" cy="1893.4" r="1.9" fill="#fff" fill-opacity="0.34"/>
<circle cx="360.7" cy="1868.8" r="1.1" fill="#fff" fill-opacity="0.62"/>
<circle cx="411.0" cy="1818.1" r="1.3" fill="#fff" fill-opacity="0.53"/>
<circle cx="387.1" cy="1843.1" r="2.0" fill="#fff" fill-opacity="0.50"/>
<circle cx="275.6" cy="1761.2" r="1.7" fill="#fff" fill-opacity="0.52"/>
<circle cx="340.5" cy="1899.5" r="1.8" fill="#fff" fill-opacity="0.60"/>
<circle cx="344.8" cy="1780.9" r="1.4" fill="#fff" fill-opacity="0.43"/>
<circle cx="311.1" cy="1898.3" r="1.5" fill="#fff" fill-opacity="0.62"/>
<circle cx="340.3" cy="1808.4" r="1.8" fill="#fff" fill-opacity="0.56"/>
<circle cx="282.2" cy="1807.0" r="1.6" fill="#fff" fill-opacity="0.65"/>
<circle cx="217.0" cy="1750.5" r="1.6" fill="#fff" fill-opacity="0.41"/>
<circle cx="236.0" cy="1882.2" r="1.5" fill="#fff" fill-opacity="0.37"/>
<circle cx="414.6" cy="1808.7" r="0.8" fill="#fff" fill-opacity="0.31"/>
<circle cx="238.2" cy="1879.8" r="1.6" fill="#fff" fill-opacity="0.60"/>
<circle cx="353.3" cy="1856.6" r="1.2" fill="#fff" fill-opacity="0.46"/>
<circle cx="303.5" cy="1855.6" r="1.2" fill="#fff" fill-opacity="0.60"/>
<circle cx="252.4" cy="1812.0" r="1.4" fill="#fff" fill-opacity="0.34"/>
<circle cx="222.1" cy="1841.1" r="1.0" fill="#fff" fill-opacity="0.48"/>
<circle cx="409.4" cy="1838.7" r="1.6" fill="#fff" fill-opacity="0.54"/>
<circle cx="261.1" cy="1765.3" r="1.1" fill="#fff" fill-opacity="0.37"/>
<circle cx="245.4" cy="1820.6" r="1.5" fill="#fff" fill-opacity="0.59"/>
<circle cx="327.3" cy="1756.2" r="1.3" fill="#fff" fill-opacity="0.45"/>
<circle cx="234.8" cy="1894.3" r="1.1" fill="#fff" fill-opacity="0.59"/>
<circle cx="243.0" cy="1816.2" r="1.1" fill="#fff" fill-opacity="0.67"/>
<circle cx="362.1" cy="1872.2" r="2.0" fill="#fff" fill-opacity="0.42"/>
<circle cx="301.1" cy="1824.6" r="1.7" fill="#fff" fill-opacity="0.65"/>
<circle cx="323.5" cy="1802.8" r="1.8" fill="#fff" fill-opacity="0.39"/>
<circle cx="320.2" cy="1760.3" r="1.5" fill="#fff" fill-opacity="0.47"/>
<circle cx="206.8" cy="1863.2" r="1.9" fill="#fff" fill-opacity="0.49"/>
<circle cx="207.9" cy="1892.1" r="1.2" fill="#fff" fill-opacity="0.55"/>
<circle cx="210.4" cy="1834.6" r="1.8" fill="#fff" fill-opacity="0.42"/>
<circle cx="288.2" cy="1893.4" r="0.9" fill="#fff" fill-opacity="0.50"/>
<circle cx="205.3" cy="1799.4" r="1.8" fill="#fff" fill-opacity="0.34"/>
<circle cx="337.4" cy="1835.6" r="1.8" fill="#fff" fill-opacity="0.62"/>
<circle cx="367.5" cy="1847.7" r="1.9" fill="#fff" fill-opacity="0.59"/>
<circle cx="260.4" cy="1742.0" r="1.6" fill="#fff" fill-opacity="0.50"/>
<circle cx="417.2" cy="1760.7" r="1.2" fill="#fff" fill-opacity="0.57"/>
<circle cx="289.1" cy="1800.1" r="1.3" fill="#fff" fill-opacity="0.44"/>
<circle cx="399.7" cy="1895.0" r="1.1" fill="#fff" fill-opacity="0.41"/>
<circle cx="213.2" cy="1812.3" r="2.0" fill="#fff" fill-opacity="0.46"/>
<circle cx="245.0" cy="1762.3" r="1.2" fill="#fff" fill-opacity="0.64"/>
<circle cx="362.5" cy="1871.5" r="1.8" fill="#fff" fill-opacity="0.41"/>
<circle cx="363.1" cy="1890.6" r="1.8" fill="#fff" fill-opacity="0.61"/>
<circle cx="247.5" cy="1786.8" r="1.4" fill="#fff" fill-opacity="0.36"/>
<circle cx="362.1" cy="1870.9" r="1.4" fill="#fff" fill-opacity="0.31"/>
<circle cx="318.5" cy="1880.6" r="0.9" fill="#fff" fill-opacity="0.57"/>
<circle cx="291.4" cy="1755.0" r="1.9" fill="#fff" fill-opacity="0.48"/>
<circle cx="398.6" cy="1749.8" r="1.0" fill="#fff" fill-opacity="0.44"/>
<circle cx="362.2" cy="1742.2" r="1.7" fill="#fff" fill-opacity="0.34"/>
<circle cx="210.3" cy="1747.8" r="1.4" fill="#fff" fill-opacity="0.64"/>
<circle cx="431.1" cy="1758.6" r="1.3" fill="#fff" fill-opacity="0.53"/>
<circle cx="354.4" cy="1813.0" r="1.0" fill="#fff" fill-opacity="0.35"/>
<circle cx="243.4" cy="1889.5" r="1.8" fill="#fff" fill-opacity="0.64"/>
<circle cx="217.9" cy="1802.1" r="1.6" fill="#fff" fill-opacity="0.64"/>
<circle cx="302.1" cy="1836.4" r="1.5" fill="#fff" fill-opacity="0.58"/>
<circle cx="429.2" cy="1847.9" r="1.8" fill="#fff" fill-opacity="0.49"/>
<circle cx="349.5" cy="1859.6" r="0.9" fill="#fff" fill-opacity="0.36"/>
<circle cx="354.5" cy="1797.1" r="0.9" fill="#fff" fill-opacity="0.44"/>
<circle cx="295.9" cy="1794.7" r="1.2" fill="#fff" fill-opacity="0.47"/>
<circle cx="287.2" cy="1773.3" r="1.3" fill="#fff" fill-opacity="0.48"/>
<circle cx="386.6" cy="1819.6" r="1.3" fill="#fff" fill-opacity="0.49"/>
<circle cx="261.3" cy="1807.5" r="1.1" fill="#fff" fill-opacity="0.52"/>
<circle cx="302.5" cy="1877.0" r="0.9" fill="#fff" fill-opacity="0.68"/>
<circle cx="408.5" cy="1857.9" r="0.8" fill="#fff" fill-opacity="0.58"/>
<circle cx="268.2" cy="1866.0" r="1.1" fill="#fff" fill-opacity="0.52"/>
<circle cx="383.5" cy="1799.9" r="1.1" fill="#fff" fill-opacity="0.32"/>
<circle cx="341.2" cy="1779.0" r="1.2" fill="#fff" fill-opacity="0.56"/>
<circle cx="394.3" cy="1788.4" r="1.4" fill="#fff" fill-opacity="0.49"/>
<circle cx="417.7" cy="1738.5" r="1.3" fill="#fff" fill-opacity="0.49"/>
<circle cx="250.4" cy="1861.2" r="1.7" fill="#fff" fill-opacity="0.51"/>
<circle cx="285.3" cy="1802.4" r="1.0" fill="#fff" fill-opacity="0.62"/>
<circle cx="260.4" cy="1893.0" r="1.0" fill="#fff" fill-opacity="0.58"/>
<circle cx="254.0" cy="1818.0" r="1.7" fill="#fff" fill-opacity="0.70"/>
<circle cx="221.5" cy="1785.6" r="0.9" fill="#fff" fill-opacity="0.45"/>
<circle cx="334.3" cy="1863.1" r="1.9" fill="#fff" fill-opacity="0.63"/>
<circle cx="304.9" cy="1874.2" r="2.0" fill="#fff" fill-opacity="0.69"/>
<circle cx="305.0" cy="1756.3" r="1.6" fill="#fff" fill-opacity="0.37"/>
<circle cx="231.0" cy="1776.9" r="1.4" fill="#fff" fill-opacity="0.63"/>
<circle cx="222.8" cy="1821.5" r="1.7" fill="#fff" fill-opacity="0.59"/>
<circle cx="286.2" cy="1801.7" r="1.0" fill="#fff" fill-opacity="0.36"/>
<circle cx="310.3" cy="1799.3" r="1.9" fill="#fff" fill-opacity="0.61"/>
<circle cx="295.7" cy="1797.5" r="1.2" fill="#fff" fill-opacity="0.62"/>
<circle cx="355.9" cy="1767.1" r="1.2" fill="#fff" fill-opacity="0.43"/>
<circle cx="307.3" cy="1864.1" r="1.4" fill="#fff" fill-opacity="0.44"/>
<circle cx="274.4" cy="1793.2" r="1.5" fill="#fff" fill-opacity="0.54"/>
<circle cx="353.5" cy="1765.5" r="1.7" fill="#fff" fill-opacity="0.64"/>
<circle cx="293.1" cy="1746.1" r="1.9" fill="#fff" fill-opacity="0.56"/>
<circle cx="262.6" cy="1854.7" r="1.2" fill="#fff" fill-opacity="0.33"/>
<circle cx="363.0" cy="1829.1" r="0.9" fill="#fff" fill-opacity="0.31"/>
<circle cx="287.9" cy="1783.3" r="1.4" fill="#fff" fill-opacity="0.68"/>
<circle cx="213.1" cy="1777.2" r="0.9" fill="#fff" fill-opacity="0.33"/>
<circle cx="339.4" cy="1880.6" r="1.4" fill="#fff" fill-opacity="0.54"/>
<circle cx="343.4" cy="1752.5" r="1.2" fill="#fff" fill-opacity="0.46"/>
<circle cx="354.6" cy="1750.7" r="1.1" fill="#fff" fill-opacity="0.62"/>
<circle cx="380.8" cy="1789.6" r="1.2" fill="#fff" fill-opacity="0.57"/>
<circle cx="377.7" cy="1834.8" r="1.1" fill="#fff" fill-opacity="0.60"/>
<circle cx="367.7" cy="1801.9" r="1.7" fill="#fff" fill-opacity="0.59"/>
<circle cx="224.4" cy="1884.4" r="1.4" fill="#fff" fill-opacity="0.39"/>
<circle cx="333.9" cy="1752.3" r="1.4" fill="#fff" fill-opacity="0.39"/>
<circle cx="405.5" cy="1739.8" r="1.8" fill="#fff" fill-opacity="0.68"/>
<circle cx="325.9" cy="1862.9" r="1.6" fill="#fff" fill-opacity="0.58"/>
<circle cx="249.8" cy="1831.5" r="1.4" fill="#fff" fill-opacity="0.56"/>
<circle cx="281.3" cy="1791.2" r="1.9" fill="#fff" fill-opacity="0.51"/>
<circle cx="390.1" cy="1894.8" r="1.9" fill="#fff" fill-opacity="0.62"/>
<circle cx="305.0" cy="1770.6" r="1.1" fill="#fff" fill-opacity="0.41"/>
<circle cx="271.3" cy="1817.7" r="1.0" fill="#fff" fill-opacity="0.58"/>
<circle cx="262.6" cy="1764.6" r="1.0" fill="#fff" fill-opacity="0.31"/>
<circle cx="403.1" cy="1821.4" r="1.9" fill="#fff" fill-opacity="0.67"/>
<circle cx="265.7" cy="1849.2" r="1.7" fill="#fff" fill-opacity="0.52"/>
<circle cx="225.6" cy="1889.4" r="0.9" fill="#fff" fill-opacity="0.60"/>
<circle cx="292.8" cy="1798.3" r="0.9" fill="#fff" fill-opacity="0.60"/>
<circle cx="255.4" cy="1898.5" r="1.9" fill="#fff" fill-opacity="0.59"/>
<circle cx="303.6" cy="1870.8" r="1.6" fill="#fff" fill-opacity="0.58"/>
<circle cx="404.6" cy="1849.2" r="1.6" fill="#fff" fill-opacity="0.42"/>
<circle cx="253.2" cy="1843.9" r="1.8" fill="#fff" fill-opacity="0.58"/>
<circle cx="407.2" cy="1846.5" r="1.7" fill="#fff" fill-opacity="0.31"/>
<circle cx="235.2" cy="1776.9" r="1.0" fill="#fff" fill-opacity="0.33"/>
<circle cx="247.5" cy="1769.2" r="0.9" fill="#fff" fill-opacity="0.42"/>
<circle cx="348.8" cy="1859.3" r="1.0" fill="#fff" fill-opacity="0.52"/>
<circle cx="285.2" cy="1833.5" r="1.0" fill="#fff" fill-opacity="0.66"/>
<circle cx="301.3" cy="1788.4" r="1.4" fill="#fff" fill-opacity="0.43"/>
<circle cx="400.2" cy="1803.7" r="1.0" fill="#fff" fill-opacity="0.50"/>
<circle cx="235.6" cy="1898.5" r="0.9" fill="#fff" fill-opacity="0.61"/>
<circle cx="258.8" cy="1805.1" r="1.6" fill="#fff" fill-opacity="0.36"/>
<circle cx="338.9" cy="1812.3" r="1.9" fill="#fff" fill-opacity="0.55"/>
<circle cx="214.0" cy="1800.5" r="0.9" fill="#fff" fill-opacity="0.58"/>
<circle cx="341.1" cy="1878.9" r="1.5" fill="#fff" fill-opacity="0.42"/>
<circle cx="230.7" cy="1787.7" r="1.2" fill="#fff" fill-opacity="0.47"/>
<circle cx="262.1" cy="1779.4" r="0.9" fill="#fff" fill-opacity="0.47"/>
<circle cx="340.1" cy="1887.2" r="1.9" fill="#fff" fill-opacity="0.39"/>
<circle cx="270.0" cy="1765.8" r="2.0" fill="#fff" fill-opacity="0.54"/>
<circle cx="255.4" cy="1743.2" r="1.8" fill="#fff" fill-opacity="0.56"/>
<circle cx="227.8" cy="1753.3" r="1.4" fill="#fff" fill-opacity="0.32"/>
<circle cx="374.4" cy="1814.4" r="1.5" fill="#fff" fill-opacity="0.41"/>
<circle cx="330.8" cy="1742.6" r="1.5" fill="#fff" fill-opacity="0.46"/>
<circle cx="381.9" cy="1823.3" r="2.0" fill="#fff" fill-opacity="0.53"/>
<circle cx="383.6" cy="1863.3" r="1.9" fill="#fff" fill-opacity="0.32"/>
<circle cx="291.4" cy="1888.4" r="1.1" fill="#fff" fill-opacity="0.35"/>
<circle cx="316.5" cy="1849.8" r="0.9" fill="#fff" fill-opacity="0.34"/>
<circle cx="250.0" cy="1854.8" r="1.0" fill="#fff" fill-opacity="0.41"/>
<circle cx="256.8" cy="1763.9" r="1.7" fill="#fff" fill-opacity="0.58"/>
<circle cx="393.1" cy="1872.5" r="1.9" fill="#fff" fill-opacity="0.51"/>
<circle cx="206.6" cy="1875.0" r="0.9" fill="#fff" fill-opacity="0.58"/>
<circle cx="259.8" cy="1853.3" r="1.5" fill="#fff" fill-opacity="0.41"/>
<circle cx="205.8" cy="1880.0" r="1.8" fill="#fff" fill-opacity="0.66"/>
<circle cx="397.0" cy="1880.5" r="1.7" fill="#fff" fill-opacity="0.50"/>
<circle cx="293.5" cy="1812.1" r="0.9" fill="#fff" fill-opacity="0.30"/>
<circle cx="268.9" cy="1738.7" r="1.3" fill="#fff" fill-opacity="0.47"/>
<circle cx="240.3" cy="1855.8" r="1.1" fill="#fff" fill-opacity="0.65"/>
<circle cx="311.8" cy="1839.0" r="1.0" fill="#fff" fill-opacity="0.38"/>
<ellipse cx="322.4" cy="1864.3" rx="10.3" ry="8.8" fill="none" stroke="#000" stroke-opacity="0.16" stroke-width="1.6"/>
<ellipse cx="292.5" cy="1829.0" rx="7.6" ry="7.4" fill="none" stroke="#000" stroke-opacity="0.13" stroke-width="1.6"/>
<ellipse cx="212.1" cy="1795.5" rx="8.6" ry="7.1" fill="none" stroke="#000" stroke-opacity="0.11" stroke-width="1.6"/>
<ellipse cx="324.0" cy="1805.6" rx="8.4" ry="7.8" fill="none" stroke="#000" stroke-opacity="0.16" stroke-width="1.6"/>
<ellipse cx="427.1" cy="1761.7" rx="6.4" ry="6.3" fill="none" stroke="#000" stroke-opacity="0.13" stroke-width="1.6"/>
<ellipse cx="263.5" cy="1899.7" rx="5.2" ry="5.4" fill="none" stroke="#000" stroke-opacity="0.08" stroke-width="1.6"/>
<ellipse cx="224.9" cy="1873.2" rx="6.6" ry="6.0" fill="none" stroke="#000" stroke-opacity="0.09" stroke-width="1.6"/>
<ellipse cx="423.7" cy="1891.6" rx="8.5" ry="8.8" fill="none" stroke="#000" stroke-opacity="0.14" stroke-width="1.6"/>
<ellipse cx="401.2" cy="1835.7" rx="8.6" ry="7.1" fill="none" stroke="#000" stroke-opacity="0.10" stroke-width="1.6"/>
<ellipse cx="340.3" cy="1778.1" rx="7.4" ry="7.5" fill="none" stroke="#000" stroke-opacity="0.11" stroke-width="1.6"/>
<ellipse cx="348.9" cy="1798.4" rx="9.5" ry="9.9" fill="none" stroke="#000" stroke-opacity="0.06" stroke-width="1.6"/>
<ellipse cx="272.7" cy="1851.1" rx="10.2" ry="8.7" fill="none" stroke="#000" stroke-opacity="0.12" stroke-width="1.6"/>
<ellipse cx="280.8" cy="1866.3" rx="10.5" ry="11.5" fill="none" stroke="#000" stroke-opacity="0.13" stroke-width="1.6"/>
<ellipse cx="243.6" cy="1784.7" rx="9.9" ry="10.8" fill="none" stroke="#000" stroke-opacity="0.11" stroke-width="1.6"/>
<ellipse cx="424.6" cy="1857.5" rx="7.3" ry="7.8" fill="none" stroke="#000" stroke-opacity="0.12" stroke-width="1.6"/>
<ellipse cx="276.1" cy="1821.0" rx="6.1" ry="5.8" fill="none" stroke="#000" stroke-opacity="0.13" stroke-width="1.6"/>
<ellipse cx="320.0" cy="1783.8" rx="8.8" ry="9.5" fill="none" stroke="#000" stroke-opacity="0.07" stroke-width="1.6"/>
<ellipse cx="287.5" cy="1835.2" rx="8.0" ry="8.1" fill="none" stroke="#000" stroke-opacity="0.10" stroke-width="1.6"/>
<ellipse cx="329.7" cy="1857.1" rx="5.9" ry="5.0" fill="none" stroke="#000" stroke-opacity="0.15" stroke-width="1.6"/>
<ellipse cx="426.5" cy="1890.8" rx="7.9" ry="6.6" fill="none" stroke="#000" stroke-opacity="0.14" stroke-width="1.6"/>
<ellipse cx="208.7" cy="1857.0" rx="6.5" ry="5.3" fill="none" stroke="#000" stroke-opacity="0.07" stroke-width="1.6"/>
<ellipse cx="286.8" cy="1789.7" rx="6.7" ry="6.1" fill="none" stroke="#000" stroke-opacity="0.16" stroke-width="1.6"/>
<ellipse cx="341.8" cy="1753.4" rx="9.0" ry="8.9" fill="none" stroke="#000" stroke-opacity="0.06" stroke-width="1.6"/>
<ellipse cx="423.0" cy="1759.1" rx="9.8" ry="10.7" fill="none" stroke="#000" stroke-opacity="0.08" stroke-width="1.6"/>
<ellipse cx="405.6" cy="1880.7" rx="5.9" ry="6.4" fill="none" stroke="#000" stroke-opacity="0.09" stroke-width="1.6"/>
<ellipse cx="409.7" cy="1833.9" rx="9.7" ry="8.6" fill="none" stroke="#000" stroke-opacity="0.08" stroke-width="1.6"/>
<ellipse cx="401.7" cy="1822.7" rx="7.3" ry="5.9" fill="none" stroke="#000" stroke-opacity="0.06" stroke-width="1.6"/>
<ellipse cx="372.0" cy="1749.3" rx="9.6" ry="9.5" fill="none" stroke="#000" stroke-opacity="0.16" stroke-width="1.6"/>
<ellipse cx="359.9" cy="1795.5" rx="5.5" ry="4.7" fill="none" stroke="#000" stroke-opacity="0.07" stroke-width="1.6"/>
<ellipse cx="371.2" cy="1749.0" rx="7.6" ry="8.2" fill="none" stroke="#000" stroke-opacity="0.06" stroke-width="1.6"/>
</g>
<clipPath id="c6"><rect x="442.4" y="1737.1" width="230.8" height="163.2"/></clipPath>
<g clip-path="url(#c6)">
<rect x="442.4" y="1737.1" width="230.8" height="163.2" fill="#c9c9c9"/>
<rect x="442.4" y="1737.1" width="230.8" height="163.2" fill="#c9c9c9" filter="url(#tex2)" opacity="0.8"/>
<path d="M440.6,1783.3 C443.0,1784.2 450.4,1786.4 454.8,1788.9 C459.3,1791.4 462.9,1795.2 467.1,1798.2 C471.2,1801.2 476.1,1803.4 479.7,1806.9 C483.3,1810.5 485.4,1815.4 488.5,1819.5 C491.6,1823.6 496.5,1829.5 498.1,1831.5" fill="none" stroke="#fff" stroke-opacity="0.11" stroke-width="0.9"/>
<path d="M575.9,1814.0 C573.9,1812.9 568.2,1808.7 563.9,1807.5 C559.7,1806.3 554.8,1806.3 550.4,1806.6 C545.9,1807.0 541.2,1807.8 537.1,1809.6 C533.0,1811.3 529.0,1814.0 525.7,1817.1 C522.5,1820.1 518.8,1826.0 517.4,1827.8" fill="none" stroke="#000" stroke-opacity="0.13" stroke-width="1.3"/>
<path d="M430.6,1834.0 C434.5,1835.5 446.1,1839.7 453.8,1842.8 C461.4,1845.9 469.7,1848.2 476.4,1852.8 C483.1,1857.3 489.4,1863.5 494.0,1870.2 C498.5,1876.9 501.4,1885.1 503.6,1893.0 C505.8,1900.8 506.5,1913.4 507.1,1917.4" fill="none" stroke="#000" stroke-opacity="0.06" stroke-width="1.2"/>
<path d="M567.2,1898.6 C568.6,1896.9 572.3,1891.6 575.5,1888.7 C578.7,1885.9 582.8,1884.3 586.3,1881.8 C589.8,1879.2 592.5,1875.0 596.3,1873.6 C600.1,1872.2 605.4,1874.6 609.1,1873.2 C612.9,1871.7 617.2,1866.1 618.9,1864.7" fill="none" stroke="#000" stroke-opacity="0.13" stroke-width="1.5"/>
<path d="M559.4,1768.3 C557.6,1766.2 552.6,1759.7 548.6,1756.0 C544.7,1752.4 540.3,1748.5 535.5,1746.4 C530.6,1744.3 524.8,1744.6 519.5,1743.2 C514.3,1741.8 508.7,1740.7 504.1,1738.0 C499.4,1735.4 493.7,1729.3 491.6,1727.5" fill="none" stroke="#000" stroke-opacity="0.11" stroke-width="1.2"/>
<path d="M564.4,1718.3 C560.8,1721.9 551.0,1734.4 542.6,1740.0 C534.3,1745.5 523.9,1750.9 514.2,1751.6 C504.5,1752.3 494.1,1743.3 484.4,1744.0 C474.8,1744.7 465.9,1753.5 456.1,1755.9 C446.3,1758.3 430.6,1757.9 425.5,1758.3" fill="none" stroke="#000" stroke-opacity="0.05" stroke-width="1.0"/>
<path d="M556.0,1810.8 C558.6,1809.7 566.7,1806.5 571.8,1803.9 C576.9,1801.3 581.3,1796.4 586.6,1795.2 C592.0,1793.9 598.9,1794.4 603.8,1796.6 C608.8,1798.8 611.5,1805.7 616.4,1808.4 C621.2,1811.2 630.2,1812.4 633.0,1813.2" fill="none" stroke="#fff" stroke-opacity="0.06" stroke-width="1.0"/>
<path d="M662.2,1805.2 C663.2,1806.2 666.6,1808.8 667.8,1811.1 C669.1,1813.4 670.1,1816.4 669.9,1819.0 C669.7,1821.5 667.6,1823.9 666.8,1826.5 C666.1,1829.1 665.5,1831.8 665.4,1834.5 C665.4,1837.2 666.2,1841.2 666.3,1842.6" fill="none" stroke="#fff" stroke-opacity="0.05" stroke-width="1.2"/>
<path d="M464.0,1755.0 C465.6,1753.2 469.9,1747.5 473.4,1744.4 C476.9,1741.3 481.0,1738.7 485.1,1736.3 C489.1,1733.9 493.3,1731.6 497.7,1729.9 C502.1,1728.2 507.2,1728.1 511.4,1726.1 C515.6,1724.1 520.9,1719.1 522.8,1717.7" fill="none" stroke="#fff" stroke-opacity="0.05" stroke-width="1.4"/>
<path d="M566.7,1839.5 C563.8,1840.0 554.7,1841.2 549.0,1842.9 C543.2,1844.6 538.0,1848.1 532.3,1849.9 C526.5,1851.7 520.2,1851.6 514.5,1853.5 C508.9,1855.5 504.1,1860.1 498.4,1861.7 C492.7,1863.2 483.3,1862.4 480.3,1862.6" fill="none" stroke="#fff" stroke-opacity="0.05" stroke-width="0.9"/>
<path d="M651.7,1825.7 C654.0,1828.6 661.6,1836.6 665.1,1842.9 C668.7,1849.1 670.3,1856.4 673.1,1863.2 C675.8,1869.9 680.9,1876.3 681.6,1883.2 C682.3,1890.0 676.4,1897.7 677.3,1904.5 C678.3,1911.3 685.7,1920.6 687.4,1923.8" fill="none" stroke="#fff" stroke-opacity="0.12" stroke-width="1.1"/>
<path d="M450.0,1746.5 C449.0,1742.4 447.9,1728.9 443.8,1722.0 C439.6,1715.0 432.3,1708.5 425.0,1705.0 C417.7,1701.4 408.4,1701.9 400.1,1700.5 C391.8,1699.1 383.2,1695.6 375.1,1696.5 C367.0,1697.5 355.6,1704.6 351.7,1706.2" fill="none" stroke="#000" stroke-opacity="0.05" stroke-width="1.0"/>
<circle cx="569.8" cy="1868.4" r="0.8" fill="#fff" fill-opacity="0.42"/>
<circle cx="518.9" cy="1773.0" r="1.3" fill="#fff" fill-opacity="0.30"/>
<circle cx="486.0" cy="1780.3" r="1.8" fill="#fff" fill-opacity="0.42"/>
<circle cx="601.6" cy="1861.8" r="1.6" fill="#fff" fill-opacity="0.47"/>
<circle cx="515.0" cy="1822.8" r="1.2" fill="#fff" fill-opacity="0.42"/>
<circle cx="528.5" cy="1746.5" r="1.5" fill="#fff" fill-opacity="0.46"/>
<circle cx="456.4" cy="1792.3" r="0.9" fill="#fff" fill-opacity="0.50"/>
<circle cx="569.3" cy="1895.6" r="1.0" fill="#fff" fill-opacity="0.53"/>
<circle cx="625.1" cy="1776.7" r="1.3" fill="#fff" fill-opacity="0.53"/>
<circle cx="468.2" cy="1810.1" r="1.9" fill="#fff" fill-opacity="0.66"/>
<circle cx="652.1" cy="1739.3" r="1.6" fill="#fff" fill-opacity="0.60"/>
<circle cx="515.0" cy="1776.0" r="1.6" fill="#fff" fill-opacity="0.44"/>
<circle cx="653.5" cy="1789.0" r="1.8" fill="#fff" fill-opacity="0.58"/>
<circle cx="531.3" cy="1853.6" r="1.9" fill="#fff" fill-opacity="0.59"/>
<circle cx="507.4" cy="1756.1" r="1.5" fill="#fff" fill-opacity="0.60"/>
<circle cx="583.5" cy="1775.3" r="1.6" fill="#fff" fill-opacity="0.58"/>
<circle cx="532.7" cy="1850.5" r="1.6" fill="#fff" fill-opacity="0.68"/>
<circle cx="446.7" cy="1892.5" r="1.7" fill="#fff" fill-opacity="0.35"/>
<circle cx="480.4" cy="1798.0" r="1.5" fill="#fff" fill-opacity="0.53"/>
<circle cx="538.5" cy="1877.0" r="1.4" fill="#fff" fill-opacity="0.54"/>
<circle cx="604.3" cy="1873.9" r="1.0" fill="#fff" fill-opacity="0.33"/>
<circle cx="551.1" cy="1872.9" r="1.9" fill="#fff" fill-opacity="0.52"/>
<circle cx="476.7" cy="1841.5" r="1.8" fill="#fff" fill-opacity="0.60"/>
<circle cx="483.0" cy="1744.9" r="1.4" fill="#fff" fill-opacity="0.40"/>
<circle cx="516.6" cy="1859.2" r="1.7" fill="#fff" fill-opacity="0.53"/>
<circle cx="653.8" cy="1852.7" r="1.0" fill="#fff" fill-opacity="0.46"/>
<circle cx="511.6" cy="1897.9" r="1.3" fill="#fff" fill-opacity="0.41"/>
<circle cx="639.2" cy="1893.0" r="1.2" fill="#fff" fill-opacity="0.42"/>
<circle cx="516.3" cy="1744.3" r="1.6" fill="#fff" fill-opacity="0.31"/>
<circle cx="671.9" cy="1870.6" r="1.3" fill="#fff" fill-opacity="0.53"/>
<circle cx="634.9" cy="1756.3" r="1.6" fill="#fff" fill-opacity="0.64"/>
<circle cx="561.1" cy="1879.9" r="1.1" fill="#fff" fill-opacity="0.30"/>
<circle cx="495.7" cy="1899.7" r="1.2" fill="#fff" fill-opacity="0.43"/>
<circle cx="458.5" cy="1801.0" r="1.1" fill="#fff" fill-opacity="0.50"/>
<circle cx="449.8" cy="1755.0" r="0.8" fill="#fff" fill-opacity="0.67"/>
<circle cx="621.2" cy="1771.9" r="1.2" fill="#fff" fill-opacity="0.39"/>
<circle cx="556.8" cy="1820.6" r="1.7" fill="#fff" fill-opacity="0.55"/>
<circle cx="451.7" cy="1833.0" r="0.8" fill="#fff" fill-opacity="0.47"/>
<circle cx="455.3" cy="1796.4" r="1.0" fill="#fff" fill-opacity="0.58"/>
<circle cx="536.4" cy="1862.9" r="0.9" fill="#fff" fill-opacity="0.40"/>
<circle cx="556.4" cy="1814.4" r="0.9" fill="#fff" fill-opacity="0.55"/>
<circle cx="570.3" cy="1874.8" r="2.0" fill="#fff" fill-opacity="0.61"/>
<circle cx="505.1" cy="1842.1" r="1.4" fill="#fff" fill-opacity="0.31"/>
<circle cx="582.4" cy="1780.3" r="1.1" fill="#fff" fill-opacity="0.55"/>
<circle cx="494.5" cy="1889.3" r="1.9" fill="#fff" fill-opacity="0.37"/>
<circle cx="668.0" cy="1766.6" r="1.6" fill="#fff" fill-opacity="0.66"/>
<circle cx="518.6" cy="1865.3" r="1.4" fill="#fff" fill-opacity="0.39"/>
<circle cx="629.6" cy="1818.9" r="1.7" fill="#fff" fill-opacity="0.66"/>
<circle cx="538.2" cy="1898.8" r="1.7" fill="#fff" fill-opacity="0.59"/>
<circle cx="570.6" cy="1865.2" r="1.0" fill="#fff" fill-opacity="0.36"/>
<circle cx="629.8" cy="1882.3" r="1.6" fill="#fff" fill-opacity="0.65"/>
<circle cx="652.4" cy="1885.3" r="1.9" fill="#fff" fill-opacity="0.46"/>
<circle cx="452.8" cy="1797.4" r="1.8" fill="#fff" fill-opacity="0.56"/>
<circle cx="475.3" cy="1776.0" r="1.3" fill="#fff" fill-opacity="0.32"/>
<circle cx="606.2" cy="1818.0" r="1.9" fill="#fff" fill-opacity="0.60"/>
<circle cx="543.6" cy="1765.3" r="1.5" fill="#fff" fill-opacity="0.70"/>
<circle cx="618.3" cy="1766.3" r="1.0" fill="#fff" fill-opacity="0.36"/>
<circle cx="561.8" cy="1748.9" r="1.9" fill="#fff" fill-opacity="0.50"/>
<circle cx="566.5" cy="1844.0" r="1.3" fill="#fff" fill-opacity="0.54"/>
<circle cx="454.0" cy="1890.3" r="2.0" fill="#fff" fill-opacity="0.68"/>
<circle cx="547.8" cy="1749.9" r="0.9" fill="#fff" fill-opacity="0.52"/>
<circle cx="537.6" cy="1823.7" r="1.8" fill="#fff" fill-opacity="0.68"/>
<circle cx="598.5" cy="1860.3" r="1.5" fill="#fff" fill-opacity="0.52"/>
<circle cx="527.4" cy="1785.8" r="2.0" fill="#fff" fill-opacity="0.60"/>
<circle cx="594.3" cy="1744.8" r="1.8" fill="#fff" fill-opacity="0.43"/>
<circle cx="525.7" cy="1804.4" r="1.7" fill="#fff" fill-opacity="0.38"/>
<circle cx="571.8" cy="1749.3" r="1.7" fill="#fff" fill-opacity="0.39"/>
<circle cx="625.8" cy="1780.3" r="1.4" fill="#fff" fill-opacity="0.30"/>
<circle cx="501.0" cy="1744.7" r="1.0" fill="#fff" fill-opacity="0.47"/>
<circle cx="448.1" cy="1812.1" r="0.9" fill="#fff" fill-opacity="0.44"/>
<circle cx="454.5" cy="1810.6" r="1.3" fill="#fff" fill-opacity="0.47"/>
<circle cx="575.0" cy="1756.4" r="1.9" fill="#fff" fill-opacity="0.39"/>
<circle cx="444.4" cy="1855.5" r="1.8" fill="#fff" fill-opacity="0.47"/>
<circle cx="669.8" cy="1832.0" r="1.1" fill="#fff" fill-opacity="0.32"/>
<circle cx="607.7" cy="1852.9" r="1.9" fill="#fff" fill-opacity="0.41"/>
<circle cx="673.1" cy="1879.5" r="1.4" fill="#fff" fill-opacity="0.44"/>
<circle cx="487.8" cy="1841.0" r="1.4" fill="#fff" fill-opacity="0.64"/>
<circle cx="483.2" cy="1826.7" r="1.4" fill="#fff" fill-opacity="0.32"/>
<circle cx="447.8" cy="1847.4" r="1.9" fill="#fff" fill-opacity="0.49"/>
<circle cx="470.7" cy="1892.6" r="1.2" fill="#fff" fill-opacity="0.44"/>
<circle cx="502.6" cy="1787.2" r="1.6" fill="#fff" fill-opacity="0.49"/>
<circle cx="594.4" cy="1841.2" r="1.6" fill="#fff" fill-opacity="0.41"/>
<circle cx="632.5" cy="1740.5" r="1.2" fill="#fff" fill-opacity="0.52"/>
<circle cx="653.6" cy="1868.0" r="2.0" fill="#fff" fill-opacity="0.31"/>
<circle cx="523.8" cy="1865.3" r="1.5" fill="#fff" fill-opacity="0.55"/>
<circle cx="671.9" cy="1862.9" r="1.0" fill="#fff" fill-opacity="0.32"/>
<circle cx="565.8" cy="1874.2" r="1.2" fill="#fff" fill-opacity="0.65"/>
<circle cx="489.6" cy="1745.0" r="1.1" fill="#fff" fill-opacity="0.33"/>
<circle cx="603.7" cy="1850.3" r="1.3" fill="#fff" fill-opacity="0.64"/>
<circle cx="605.1" cy="1740.7" r="1.3" fill="#fff" fill-opacity="0.37"/>
<circle cx="498.7" cy="1779.0" r="1.1" fill="#fff" fill-opacity="0.58"/>
<circle cx="671.3" cy="1779.6" r="1.5" fill="#fff" fill-opacity="0.52"/>
<circle cx="552.0" cy="1813.1" r="1.2" fill="#fff" fill-opacity="0.52"/>
<circle cx="635.4" cy="1758.1" r="0.8" fill="#fff" fill-opacity="0.40"/>
<circle cx="593.8" cy="1754.8" r="1.4" fill="#fff" fill-opacity="0.47"/>
<circle cx="477.8" cy="1854.5" r="1.8" fill="#fff" fill-opacity="0.67"/>
<circle cx="569.2" cy="1841.6" r="1.4" fill="#fff" fill-opacity="0.70"/>
<circle cx="519.6" cy="1791.7" r="1.4" fill="#fff" fill-opacity="0.53"/>
<circle cx="455.1" cy="1785.0" r="1.7" fill="#fff" fill-opacity="0.62"/>
<circle cx="540.3" cy="1768.3" r="1.3" fill="#fff" fill-opacity="0.65"/>
<circle cx="590.3" cy="1791.5" r="1.2" fill="#fff" fill-opacity="0.52"/>
<circle cx="544.7" cy="1742.3" r="1.9" fill="#fff" fill-opacity="0.33"/>
<circle cx="609.2" cy="1789.3" r="1.2" fill="#fff" fill-opacity="0.45"/>
<circle cx="448.8" cy="1758.9" r="1.2" fill="#fff" fill-opacity="0.36"/>
<circle cx="462.0" cy="1739.3" r="1.2" fill="#fff" fill-opacity="0.59"/>
<circle cx="453.5" cy="1868.2" r="1.7" fill="#fff" fill-opacity="0.36"/>
<circle cx="564.1" cy="1774.2" r="2.0" fill="#fff" fill-opacity="0.30"/>
<circle cx="551.3" cy="1757.4" r="1.8" fill="#fff" fill-opacity="0.38"/>
<circle cx="455.0" cy="1758.0" r="2.0" fill="#fff" fill-opacity="0.30"/>
<circle cx="592.4" cy="1835.5" r="1.1" fill="#fff" fill-opacity="0.67"/>
<circle cx="576.4" cy="1827.3" r="0.8" fill="#fff" fill-opacity="0.51"/>
<circle cx="487.4" cy="1812.1" r="0.9" fill="#fff" fill-opacity="0.69"/>
<circle cx="627.2" cy="1786.6" r="1.3" fill="#fff" fill-opacity="0.38"/>
<circle cx="470.4" cy="1806.9" r="1.3" fill="#fff" fill-opacity="0.39"/>
<circle cx="624.1" cy="1859.0" r="2.0" fill="#fff" fill-opacity="0.58"/>
<circle cx="584.0" cy="1781.2" r="1.7" fill="#fff" fill-opacity="0.51"/>
<circle cx="591.4" cy="1883.0" r="1.3" fill="#fff" fill-opacity="0.53"/>
<circle cx="513.8" cy="1795.8" r="1.7" fill="#fff" fill-opacity="0.41"/>
<circle cx="591.2" cy="1877.6" r="1.1" fill="#fff" fill-opacity="0.63"/>
<circle cx="602.8" cy="1881.2" r="1.5" fill="#fff" fill-opacity="0.70"/>
<circle cx="615.4" cy="1883.8" r="1.9" fill="#fff" fill-opacity="0.33"/>
<circle cx="487.0" cy="1893.0" r="1.6" fill="#fff" fill-opacity="0.66"/>
<circle cx="492.7" cy="1865.2" r="0.9" fill="#fff" fill-opacity="0.66"/>
<circle cx="455.3" cy="1850.4" r="0.9" fill="#fff" fill-opacity="0.61"/>
<circle cx="592.8" cy="1751.3" r="0.9" fill="#fff" fill-opacity="0.48"/>
<circle cx="590.7" cy="1803.3" r="1.9" fill="#fff" fill-opacity="0.61"/>
<circle cx="528.7" cy="1849.2" r="1.6" fill="#fff" fill-opacity="0.42"/>
<circle cx="673.1" cy="1859.3" r="0.9" fill="#fff" fill-opacity="0.64"/>
<circle cx="501.7" cy="1895.2" r="0.9" fill="#fff" fill-opacity="0.48"/>
<circle cx="466.9" cy="1751.0" r="1.1" fill="#fff" fill-opacity="0.51"/>
<circle cx="515.4" cy="1877.3" r="1.4" fill="#fff" fill-opacity="0.47"/>
<circle cx="463.4" cy="1756.3" r="1.4" fill="#fff" fill-opacity="0.47"/>
<circle cx="451.2" cy="1885.1" r="1.6" fill="#fff" fill-opacity="0.34"/>
<circle cx="617.6" cy="1818.8" r="1.4" fill="#fff" fill-opacity="0.44"/>
<circle cx="459.7" cy="1867.8" r="1.6" fill="#fff" fill-opacity="0.36"/>
<circle cx="633.5" cy="1847.7" r="1.6" fill="#fff" fill-opacity="0.43"/>
<circle cx="532.0" cy="1890.8" r="1.0" fill="#fff" fill-opacity="0.70"/>
<circle cx="563.2" cy="1792.9" r="1.5" fill="#fff" fill-opacity="0.58"/>
<circle cx="573.0" cy="1877.5" r="1.8" fill="#fff" fill-opacity="0.42"/>
<circle cx="494.9" cy="1815.7" r="0.9" fill="#fff" fill-opacity="0.52"/>
<circle cx="477.5" cy="1858.2" r="1.7" fill="#fff" fill-opacity="0.48"/>
<circle cx="549.9" cy="1893.8" r="1.6" fill="#fff" fill-opacity="0.55"/>
<circle cx="547.1" cy="1883.6" r="0.9" fill="#fff" fill-opacity="0.51"/>
<circle cx="606.0" cy="1861.4" r="1.5" fill="#fff" fill-opacity="0.63"/>
<circle cx="486.4" cy="1829.7" r="1.7" fill="#fff" fill-opacity="0.36"/>
<circle cx="646.7" cy="1747.2" r="1.1" fill="#fff" fill-opacity="0.56"/>
<circle cx="628.3" cy="1779.8" r="1.4" fill="#fff" fill-opacity="0.49"/>
<circle cx="500.9" cy="1865.7" r="1.9" fill="#fff" fill-opacity="0.43"/>
<circle cx="673.0" cy="1813.6" r="1.4" fill="#fff" fill-opacity="0.49"/>
<circle cx="620.1" cy="1805.4" r="1.7" fill="#fff" fill-opacity="0.45"/>
<circle cx="519.8" cy="1881.1" r="0.8" fill="#fff" fill-opacity="0.60"/>
<circle cx="537.1" cy="1889.0" r="0.9" fill="#fff" fill-opacity="0.60"/>
<circle cx="543.0" cy="1774.3" r="1.0" fill="#fff" fill-opacity="0.68"/>
<circle cx="660.0" cy="1748.5" r="1.1" fill="#fff" fill-opacity="0.35"/>
<circle cx="545.8" cy="1846.4" r="1.5" fill="#fff" fill-opacity="0.46"/>
<circle cx="491.1" cy="1886.3" r="1.1" fill="#fff" fill-opacity="0.67"/>
<circle cx="505.7" cy="1886.2" r="1.8" fill="#fff" fill-opacity="0.31"/>
<circle cx="465.8" cy="1830.9" r="1.3" fill="#fff" fill-opacity="0.34"/>
<circle cx="526.2" cy="1757.0" r="1.5" fill="#fff" fill-opacity="0.69"/>
<circle cx="545.7" cy="1740.8" r="1.3" fill="#fff" fill-opacity="0.60"/>
<ellipse cx="499.4" cy="1818.1" rx="10.6" ry="9.2" fill="none" stroke="#000" stroke-opacity="0.10" stroke-width="1.6"/>
<ellipse cx="594.6" cy="1767.6" rx="9.5" ry="8.9" fill="none" stroke="#000" stroke-opacity="0.08" stroke-width="1.6"/>
<ellipse cx="582.7" cy="1853.2" rx="8.6" ry="8.6" fill="none" stroke="#000" stroke-opacity="0.13" stroke-width="1.6"/>
<ellipse cx="577.0" cy="1797.4" rx="8.3" ry="7.0" fill="none" stroke="#000" stroke-opacity="0.10" stroke-width="1.6"/>
<ellipse cx="542.0" cy="1843.4" rx="10.4" ry="10.1" fill="none" stroke="#000" stroke-opacity="0.06" stroke-width="1.6"/>
<ellipse cx="673.1" cy="1808.5" rx="9.4" ry="8.8" fill="none" stroke="#000" stroke-opacity="0.09" stroke-width="1.6"/>
<ellipse cx="622.3" cy="1834.8" rx="5.4" ry="5.7" fill="none" stroke="#000" stroke-opacity="0.13" stroke-width="1.6"/>
<ellipse cx="513.2" cy="1817.4" rx="6.7" ry="5.5" fill="none" stroke="#000" stroke-opacity="0.10" stroke-width="1.6"/>
<ellipse cx="552.1" cy="1772.4" rx="6.0" ry="5.2" fill="none" stroke="#000" stroke-opacity="0.11" stroke-width="1.6"/>
<ellipse cx="442.4" cy="1771.9" rx="10.0" ry="8.8" fill="none" stroke="#000" stroke-opacity="0.14" stroke-width="1.6"/>
<ellipse cx="648.4" cy="1816.4" rx="6.8" ry="6.7" fill="none" stroke="#000" stroke-opacity="0.08" stroke-width="1.6"/>
<ellipse cx="461.2" cy="1780.3" rx="9.7" ry="9.1" fill="none" stroke="#000" stroke-opacity="0.07" stroke-width="1.6"/>
<ellipse cx="479.6" cy="1886.7" rx="5.6" ry="5.4" fill="none" stroke="#000" stroke-opacity="0.14" stroke-width="1.6"/>
<ellipse cx="549.3" cy="1887.3" rx="9.3" ry="9.5" fill="none" stroke="#000" stroke-opacity="0.15" stroke-width="1.6"/>
<ellipse cx="466.4" cy="1748.3" rx="5.6" ry="5.9" fill="none" stroke="#000" stroke-opacity="0.14" stroke-width="1.6"/>
<ellipse cx="506.4" cy="1834.0" rx="5.8" ry="6.3" fill="none" stroke="#000" stroke-opacity="0.06" stroke-width="1.6"/>
<ellipse cx="562.3" cy="1894.8" rx="10.8" ry="9.1" fill="none" stroke="#000" stroke-opacity="0.08" stroke-width="1.6"/>
<ellipse cx="514.3" cy="1807.9" rx="5.7" ry="5.8" fill="none" stroke="#000" stroke-opacity="0.10" stroke-width="1.6"/>
<ellipse cx="580.3" cy="1746.9" rx="6.5" ry="5.6" fill="none" stroke="#000" stroke-opacity="0.09" stroke-width="1.6"/>
<ellipse cx="459.1" cy="1835.2" rx="10.2" ry="9.0" fill="none" stroke="#000" stroke-opacity="0.07" stroke-width="1.6"/>
<ellipse cx="503.8" cy="1851.6" rx="5.4" ry="5.8" fill="none" stroke="#000" stroke-opacity="0.10" stroke-width="1.6"/>
<ellipse cx="596.6" cy="1818.5" rx="10.8" ry="10.0" fill="none" stroke="#000" stroke-opacity="0.12" stroke-width="1.6"/>
<ellipse cx="654.0" cy="1849.3" rx="7.9" ry="7.2" fill="none" stroke="#000" stroke-opacity="0.14" stroke-width="1.6"/>
<ellipse cx="615.9" cy="1877.1" rx="8.9" ry="8.7" fill="none" stroke="#000" stroke-opacity="0.07" stroke-width="1.6"/>
<ellipse cx="608.2" cy="1806.9" rx="5.7" ry="5.9" fill="none" stroke="#000" stroke-opacity="0.08" stroke-width="1.6"/>
<ellipse cx="446.7" cy="1875.7" rx="6.5" ry="6.1" fill="none" stroke="#000" stroke-opacity="0.11" stroke-width="1.6"/>
<ellipse cx="607.4" cy="1838.6" rx="8.0" ry="7.8" fill="none" stroke="#000" stroke-opacity="0.14" stroke-width="1.6"/>
<ellipse cx="456.7" cy="1756.0" rx="9.5" ry="10.4" fill="none" stroke="#000" stroke-opacity="0.08" stroke-width="1.6"/>
<ellipse cx="479.6" cy="1799.0" rx="9.8" ry="9.4" fill="none" stroke="#000" stroke-opacity="0.14" stroke-width="1.6"/>
<ellipse cx="664.9" cy="1829.4" rx="6.9" ry="7.1" fill="none" stroke="#000" stroke-opacity="0.12" stroke-width="1.6"/>
</g>
<clipPath id="c7"><rect x="682.7" y="1737.1" width="231.3" height="163.2"/></clipPath>
<g clip-path="url(#c7)">
<rect x="682.7" y="1737.1" width="231.3" height="163.2" fill="#c9c9c9"/>
<rect x="682.7" y="1737.1" width="231.3" height="163.2" fill="#c9c9c9" filter="url(#tex2)" opacity="0.8"/>
<path d="M869.9,1848.1 C867.9,1848.8 861.6,1852.3 857.5,1852.3 C853.3,1852.2 849.2,1849.2 845.0,1847.9 C840.8,1846.7 836.0,1846.9 832.3,1844.9 C828.5,1842.9 826.2,1837.8 822.4,1836.2 C818.6,1834.6 811.5,1835.3 809.3,1835.2" fill="none" stroke="#fff" stroke-opacity="0.07" stroke-width="1.1"/>
<path d="M828.5,1891.0 C823.5,1891.5 807.3,1890.6 798.1,1894.0 C788.9,1897.5 781.3,1905.6 773.2,1911.8 C765.0,1917.9 757.9,1925.7 749.1,1930.7 C740.4,1935.7 730.4,1939.4 720.6,1941.6 C710.7,1943.9 695.2,1943.6 690.1,1943.9" fill="none" stroke="#000" stroke-opacity="0.07" stroke-width="1.0"/>
<path d="M790.6,1892.2 C789.7,1893.4 787.2,1897.6 784.8,1899.3 C782.4,1901.0 779.2,1902.1 776.2,1902.6 C773.2,1903.1 769.8,1901.6 767.0,1902.5 C764.3,1903.3 761.7,1905.7 759.6,1907.9 C757.5,1910.1 755.3,1914.2 754.4,1915.5" fill="none" stroke="#000" stroke-opacity="0.14" stroke-width="0.9"/>
<path d="M697.3,1761.9 C699.1,1760.6 704.7,1757.1 707.9,1754.1 C711.0,1751.1 712.9,1746.9 716.0,1743.8 C719.0,1740.7 723.5,1738.7 726.1,1735.4 C728.7,1732.0 730.5,1727.6 731.7,1723.5 C733.0,1719.3 733.4,1712.7 733.7,1710.5" fill="none" stroke="#fff" stroke-opacity="0.15" stroke-width="1.0"/>
<path d="M757.5,1728.8 C758.5,1731.6 761.6,1740.1 763.2,1745.8 C764.7,1751.6 765.1,1757.7 767.0,1763.4 C768.9,1769.1 770.9,1775.2 774.5,1779.8 C778.1,1784.3 784.1,1787.0 788.6,1790.9 C793.2,1794.7 799.7,1801.0 801.9,1803.0" fill="none" stroke="#000" stroke-opacity="0.08" stroke-width="1.5"/>
<path d="M822.0,1720.2 C827.1,1717.9 841.9,1707.4 852.3,1706.5 C862.7,1705.6 873.9,1715.0 884.5,1714.7 C895.1,1714.4 905.6,1704.8 916.2,1704.7 C926.8,1704.6 937.3,1713.4 948.1,1713.9 C958.8,1714.4 975.3,1708.9 980.7,1707.9" fill="none" stroke="#fff" stroke-opacity="0.12" stroke-width="1.5"/>
<path d="M744.7,1850.0 C746.0,1848.6 749.8,1844.4 752.5,1841.7 C755.2,1839.1 758.9,1837.2 760.9,1834.1 C762.9,1831.1 764.5,1827.0 764.5,1823.4 C764.6,1819.8 763.3,1815.4 761.2,1812.5 C759.1,1809.7 753.3,1807.2 751.8,1806.2" fill="none" stroke="#000" stroke-opacity="0.11" stroke-width="1.1"/>
<path d="M826.6,1722.5 C830.3,1723.0 842.0,1727.3 849.0,1726.0 C856.0,1724.7 863.8,1719.9 868.7,1714.6 C873.5,1709.2 874.3,1700.4 878.1,1693.9 C882.0,1687.5 885.8,1679.9 891.8,1675.8 C897.7,1671.7 909.9,1670.5 913.5,1669.4" fill="none" stroke="#000" stroke-opacity="0.05" stroke-width="0.9"/>
<path d="M847.5,1878.2 C850.2,1880.2 858.4,1886.1 863.6,1890.3 C868.9,1894.5 874.8,1898.2 879.0,1903.3 C883.2,1908.4 885.6,1915.0 888.9,1920.9 C892.2,1926.7 896.7,1932.2 898.7,1938.5 C900.8,1944.7 900.6,1955.2 901.0,1958.5" fill="none" stroke="#000" stroke-opacity="0.12" stroke-width="1.1"/>
<path d="M826.5,1731.9 C823.3,1734.4 813.9,1742.0 807.4,1746.7 C800.9,1751.4 791.9,1754.0 787.3,1760.1 C782.8,1766.1 782.0,1775.3 779.9,1783.0 C777.9,1790.8 778.9,1800.0 775.2,1806.7 C771.5,1813.4 760.6,1820.5 757.7,1823.2" fill="none" stroke="#fff" stroke-opacity="0.10" stroke-width="1.4"/>
<path d="M850.9,1820.5 C846.9,1823.8 835.1,1833.5 827.3,1840.2 C819.4,1846.8 811.1,1852.9 804.0,1860.2 C796.9,1867.5 788.9,1875.1 784.7,1884.1 C780.5,1893.1 778.6,1904.3 778.8,1914.3 C779.0,1924.3 784.9,1939.1 786.1,1944.1" fill="none" stroke="#fff" stroke-opacity="0.10" stroke-width="1.3"/>
<path d="M784.5,1795.2 C783.2,1793.2 778.9,1787.3 776.6,1783.1 C774.4,1778.8 773.5,1773.7 771.1,1769.6 C768.7,1765.5 765.2,1762.0 762.1,1758.2 C759.1,1754.4 755.0,1751.1 753.0,1746.9 C751.0,1742.6 750.6,1735.0 750.1,1732.6" fill="none" stroke="#fff" stroke-opacity="0.12" stroke-width="1.4"/>
<circle cx="869.3" cy="1797.0" r="1.3" fill="#fff" fill-opacity="0.49"/>
<circle cx="694.7" cy="1833.6" r="1.5" fill="#fff" fill-opacity="0.61"/>
<circle cx="761.3" cy="1896.6" r="1.7" fill="#fff" fill-opacity="0.53"/>
<circle cx="735.3" cy="1889.5" r="1.6" fill="#fff" fill-opacity="0.55"/>
<circle cx="727.5" cy="1769.4" r="1.0" fill="#fff" fill-opacity="0.67"/>
<circle cx="785.1" cy="1851.5" r="1.6" fill="#fff" fill-opacity="0.62"/>
<circle cx="749.5" cy="1770.0" r="2.0" fill="#fff" fill-opacity="0.36"/>
<circle cx="914.0" cy="1801.7" r="0.8" fill="#fff" fill-opacity="0.42"/>
<circle cx="860.0" cy="1803.3" r="1.0" fill="#fff" fill-opacity="0.33"/>
<circle cx="694.1" cy="1830.4" r="1.2" fill="#fff" fill-opacity="0.57"/>
<circle cx="711.8" cy="1783.5" r="1.5" fill="#fff" fill-opacity="0.43"/>
<circle cx="843.3" cy="1779.6" r="1.7" fill="#fff" fill-opacity="0.57"/>
<circle cx="778.1" cy="1852.1" r="1.2" fill="#fff" fill-opacity="0.67"/>
<circle cx="854.2" cy="1783.7" r="1.8" fill="#fff" fill-opacity="0.55"/>
<circle cx="882.6" cy="1853.0" r="1.9" fill="#fff" fill-opacity="0.52"/>
<circle cx="762.4" cy="1857.1" r="1.9" fill="#fff" fill-opacity="0.51"/>
<circle cx="848.3" cy="1835.8" r="1.2" fill="#fff" fill-opacity="0.38"/>
<circle cx="826.8" cy="1764.4" r="1.3" fill="#fff" fill-opacity="0.61"/>
<circle cx="770.8" cy="1807.8" r="2.0" fill="#fff" fill-opacity="0.54"/>
<circle cx="807.7" cy="1768.7" r="1.7" fill="#fff" fill-opacity="0.45"/>
<circle cx="848.4" cy="1892.7" r="1.8" fill="#fff" fill-opacity="0.39"/>
<circle cx="897.5" cy="1845.7" r="1.0" fill="#fff" fill-opacity="0.32"/>
<circle cx="740.0" cy="1832.5" r="1.4" fill="#fff" fill-opacity="0.30"/>
<circle cx="902.1" cy="1747.9" r="1.8" fill="#fff" fill-opacity="0.50"/>
<circle cx="867.5" cy="1869.3" r="1.6" fill="#fff" fill-opacity="0.45"/>
<circle cx="802.6" cy="1770.4" r="1.1" fill="#fff" fill-opacity="0.31"/>
<circle cx="767.1" cy="1884.2" r="1.7" fill="#fff" fill-opacity="0.32"/>
<circle cx="761.9" cy="1808.4" r="1.4" fill="#fff" fill-opacity="0.50"/>
<circle cx="876.4" cy="1769.1" r="1.6" fill="#fff" fill-opacity="0.56"/>
<circle cx="686.5" cy="1761.9" r="0.9" fill="#fff" fill-opacity="0.55"/>
<circle cx="881.3" cy="1881.0" r="1.8" fill="#fff" fill-opacity="0.52"/>
<circle cx="825.9" cy="1845.4" r="1.2" fill="#fff" fill-opacity="0.49"/>
<circle cx="713.9" cy="1791.2" r="1.2" fill="#fff" fill-opacity="0.68"/>
<circle cx="731.1" cy="1816.8" r="0.9" fill="#fff" fill-opacity="0.32"/>
<circle cx="802.1" cy="1833.5" r="1.4" fill="#fff" fill-opacity="0.70"/>
<circle cx="792.8" cy="1839.3" r="1.9" fill="#fff" fill-opacity="0.35"/>
<circle cx="860.7" cy="1758.7" r="1.9" fill="#fff" fill-opacity="0.60"/>
<circle cx="863.4" cy="1877.3" r="0.9" fill="#fff" fill-opacity="0.33"/>
<circle cx="779.4" cy="1747.8" r="1.9" fill="#fff" fill-opacity="0.37"/>
<circle cx="736.4" cy="1855.4" r="0.9" fill="#fff" fill-opacity="0.64"/>
<circle cx="764.1" cy="1824.5" r="1.8" fill="#fff" fill-opacity="0.33"/>
<circle cx="741.6" cy="1799.3" r="1.6" fill="#fff" fill-opacity="0.42"/>
<circle cx="780.2" cy="1771.0" r="1.5" fill="#fff" fill-opacity="0.47"/>
<circle cx="832.7" cy="1738.1" r="1.5" fill="#fff" fill-opacity="0.68"/>
<circle cx="738.2" cy="1775.7" r="1.7" fill="#fff" fill-opacity="0.36"/>
<circle cx="800.7" cy="1804.0" r="1.0" fill="#fff" fill-opacity="0.43"/>
<circle cx="867.4" cy="1840.3" r="1.1" fill="#fff" fill-opacity="0.54"/>
<circle cx="912.9" cy="1762.8" r="1.7" fill="#fff" fill-opacity="0.35"/>
<circle cx="742.6" cy="1756.9" r="1.5" fill="#fff" fill-opacity="0.56"/>
<circle cx="847.4" cy="1833.8" r="1.5" fill="#fff" fill-opacity="0.38"/>
<circle cx="744.0" cy="1759.0" r="2.0" fill="#fff" fill-opacity="0.34"/>
<circle cx="879.0" cy="1799.7" r="1.8" fill="#fff" fill-opacity="0.48"/>
<circle cx="900.6" cy="1857.6" r="1.7" fill="#fff" fill-opacity="0.32"/>
<circle cx="839.1" cy="1741.9" r="1.5" fill="#fff" fill-opacity="0.46"/>
<circle cx="716.6" cy="1814.4" r="1.2" fill="#fff" fill-opacity="0.49"/>
<circle cx="825.4" cy="1756.0" r="1.4" fill="#fff" fill-opacity="0.47"/>
<circle cx="893.5" cy="1890.2" r="1.1" fill="#fff" fill-opacity="0.45"/>
<circle cx="788.5" cy="1789.1" r="1.9" fill="#fff" fill-opacity="0.64"/>
<circle cx="723.8" cy="1872.7" r="1.8" fill="#fff" fill-opacity="0.65"/>
<circle cx="779.1" cy="1739.7" r="1.6" fill="#fff" fill-opacity="0.37"/>
<circle cx="849.0" cy="1755.8" r="1.5" fill="#fff" fill-opacity="0.34"/>
<circle cx="819.2" cy="1775.3" r="0.9" fill="#fff" fill-opacity="0.64"/>
<circle cx="856.7" cy="1842.7" r="1.2" fill="#fff" fill-opacity="0.46"/>
<circle cx="813.8" cy="1773.7" r="1.6" fill="#fff" fill-opacity="0.34"/>
<circle cx="720.0" cy="1786.5" r="1.4" fill="#fff" fill-opacity="0.54"/>
<circle cx="846.9" cy="1830.8" r="1.3" fill="#fff" fill-opacity="0.65"/>
<circle cx="804.9" cy="1816.5" r="1.1" fill="#fff" fill-opacity="0.60"/>
<circle cx="694.4" cy="1868.2" r="1.6" fill="#fff" fill-opacity="0.70"/>
<circle cx="879.0" cy="1820.8" r="1.6" fill="#fff" fill-opacity="0.46"/>
<circle cx="751.9" cy="1888.8" r="1.3" fill="#fff" fill-opacity="0.59"/>
<circle cx="684.5" cy="1752.6" r="1.8" fill="#fff" fill-opacity="0.56"/>
<circle cx="855.1" cy="1836.3" r="1.0" fill="#fff" fill-opacity="0.50"/>
<circle cx="802.0" cy="1830.3" r="2.0" fill="#fff" fill-opacity="0.48"/>
<circle cx="844.9" cy="1844.1" r="0.9" fill="#fff" fill-opacity="0.69"/>
<circle cx="778.7" cy="1893.8" r="1.8" fill="#fff" fill-opacity="0.42"/>
<circle cx="821.2" cy="1843.8" r="1.7" fill="#fff" fill-opacity="0.41"/>
<circle cx="726.7" cy="1770.4" r="1.2" fill="#fff" fill-opacity="0.68"/>
<circle cx="780.0" cy="1843.6" r="2.0" fill="#fff" fill-opacity="0.36"/>
<circle cx="773.9" cy="1891.6" r="1.2" fill="#fff" fill-opacity="0.61"/>
<circle cx="862.7" cy="1896.8" r="0.9" fill="#fff" fill-opacity="0.44"/>
<circle cx="885.6" cy="1791.3" r="1.0" fill="#fff" fill-opacity="0.61"/>
<circle cx="730.4" cy="1845.6" r="1.8" fill="#fff" fill-opacity="0.61"/>
<circle cx="847.8" cy="1784.0" r="1.5" fill="#fff" fill-opacity="0.54"/>
<circle cx="746.0" cy="1863.5" r="1.9" fill="#fff" fill-opacity="0.67"/>
<circle cx="801.6" cy="1852.0" r="2.0" fill="#fff" fill-opacity="0.52"/>
<circle cx="779.7" cy="1787.6" r="0.9" fill="#fff" fill-opacity="0.64"/>
<circle cx="913.3" cy="1826.1" r="1.8" fill="#fff" fill-opacity="0.66"/>
<circle cx="693.9" cy="1798.6" r="1.4" fill="#fff" fill-opacity="0.55"/>
<circle cx="718.9" cy="1811.4" r="1.2" fill="#fff" fill-opacity="0.32"/>
<circle cx="851.2" cy="1862.5" r="1.9" fill="#fff" fill-opacity="0.57"/>
<circle cx="867.6" cy="1845.3" r="1.1" fill="#fff" fill-opacity="0.43"/>
<circle cx="727.4" cy="1821.0" r="1.8" fill="#fff" fill-opacity="0.52"/>
<circle cx="690.0" cy="1749.7" r="1.6" fill="#fff" fill-opacity="0.55"/>
<circle cx="819.3" cy="1781.2" r="1.0" fill="#fff" fill-opacity="0.58"/>
<circle cx="739.9" cy="1807.9" r="1.7" fill="#fff" fill-opacity="0.34"/>
<circle cx="861.6" cy="1774.4" r="1.8" fill="#fff" fill-opacity="0.61"/>
<circle cx="852.0" cy="1887.2" r="1.9" fill="#fff" fill-opacity="0.63"/>
<circle cx="725.4" cy="1869.9" r="0.9" fill="#fff" fill-opacity="0.38"/>
<circle cx="878.5" cy="1799.2" r="1.7" fill="#fff" fill-opacity="0.39"/>
<circle cx="710.0" cy="1744.8" r="1.9" fill="#fff" fill-opacity="0.65"/>
<circle cx="904.0" cy="1819.5" r="1.7" fill="#fff" fill-opacity="0.45"/>
<circle cx="717.0" cy="1777.4" r="1.5" fill="#fff" fill-opacity="0.51"/>
<circle cx="696.7" cy="1818.5" r="1.2" fill="#fff" fill-opacity="0.31"/>
<circle cx="694.8" cy="1795.9" r="2.0" fill="#fff" fill-opacity="0.60"/>
<circle cx="754.0" cy="1835.9" r="2.0" fill="#fff" fill-opacity="0.49"/>
<circle cx="695.4" cy="1870.8" r="1.6" fill="#fff" fill-opacity="0.63"/>
<circle cx="872.5" cy="1894.6" r="1.7" fill="#fff" fill-opacity="0.40"/>
<circle cx="689.7" cy="1775.2" r="1.3" fill="#fff" fill-opacity="0.41"/>
<circle cx="792.1" cy="1781.1" r="1.6" fill="#fff" fill-opacity="0.40"/>
<circle cx="791.0" cy="1753.2" r="1.5" fill="#fff" fill-opacity="0.68"/>
<circle cx="869.9" cy="1793.6" r="1.8" fill="#fff" fill-opacity="0.63"/>
<circle cx="785.9" cy="1882.2" r="1.0" fill="#fff" fill-opacity="0.35"/>
<circle cx="880.9" cy="1790.3" r="1.0" fill="#fff" fill-opacity="0.59"/>
<circle cx="757.4" cy="1756.4" r="1.2" fill="#fff" fill-opacity="0.43"/>
<circle cx="822.8" cy="1761.5" r="1.9" fill="#fff" fill-opacity="0.53"/>
<circle cx="746.4" cy="1810.3" r="1.9" fill="#fff" fill-opacity="0.31"/>
<circle cx="753.4" cy="1772.1" r="1.5" fill="#fff" fill-opacity="0.69"/>
<circle cx="804.0" cy="1825.8" r="0.9" fill="#fff" fill-opacity="0.57"/>
<circle cx="708.3" cy="1769.5" r="1.6" fill="#fff" fill-opacity="0.52"/>
<circle cx="714.3" cy="1775.1" r="0.9" fill="#fff" fill-opacity="0.67"/>
<circle cx="908.6" cy="1809.2" r="1.7" fill="#fff" fill-opacity="0.67"/>
<circle cx="899.9" cy="1739.7" r="1.0" fill="#fff" fill-opacity="0.61"/>
<circle cx="878.1" cy="1786.6" r="0.9" fill="#fff" fill-opacity="0.43"/>
<circle cx="810.1" cy="1885.5" r="0.9" fill="#fff" fill-opacity="0.43"/>
<circle cx="723.5" cy="1761.0" r="1.2" fill="#fff" fill-opacity="0.61"/>
<circle cx="760.2" cy="1755.5" r="1.9" fill="#fff" fill-opacity="0.31"/>
<circle cx="747.3" cy="1894.6" r="1.3" fill="#fff" fill-opacity="0.39"/>
<circle cx="840.9" cy="1794.4" r="1.5" fill="#fff" fill-opacity="0.42"/>
<circle cx="766.0" cy="1857.5" r="1.7" fill="#fff" fill-opacity="0.55"/>
<circle cx="848.0" cy="1786.7" r="1.1" fill="#fff" fill-opacity="0.35"/>
<circle cx="752.7" cy="1829.2" r="0.9" fill="#fff" fill-opacity="0.32"/>
<circle cx="771.0" cy="1799.5" r="1.3" fill="#fff" fill-opacity="0.61"/>
<circle cx="728.4" cy="1853.1" r="1.3" fill="#fff" fill-opacity="0.41"/>
<circle cx="907.2" cy="1803.3" r="1.4" fill="#fff" fill-opacity="0.58"/>
<circle cx="713.7" cy="1839.1" r="0.8" fill="#fff" fill-opacity="0.44"/>
<circle cx="778.9" cy="1803.3" r="0.9" fill="#fff" fill-opacity="0.66"/>
<circle cx="722.4" cy="1849.9" r="0.9" fill="#fff" fill-opacity="0.63"/>
<circle cx="827.0" cy="1781.3" r="1.3" fill="#fff" fill-opacity="0.52"/>
<circle cx="684.3" cy="1812.5" r="1.1" fill="#fff" fill-opacity="0.44"/>
<circle cx="900.5" cy="1746.5" r="1.2" fill="#fff" fill-opacity="0.34"/>
<circle cx="871.3" cy="1814.3" r="1.3" fill="#fff" fill-opacity="0.60"/>
<circle cx="875.7" cy="1889.8" r="1.9" fill="#fff" fill-opacity="0.35"/>
<circle cx="796.4" cy="1823.7" r="1.7" fill="#fff" fill-opacity="0.42"/>
<circle cx="717.9" cy="1816.3" r="1.8" fill="#fff" fill-opacity="0.69"/>
<circle cx="840.3" cy="1740.9" r="1.6" fill="#fff" fill-opacity="0.47"/>
<circle cx="869.8" cy="1886.9" r="1.4" fill="#fff" fill-opacity="0.63"/>
<circle cx="869.3" cy="1899.0" r="2.0" fill="#fff" fill-opacity="0.44"/>
<circle cx="766.7" cy="1881.1" r="1.9" fill="#fff" fill-opacity="0.43"/>
<circle cx="901.5" cy="1827.8" r="0.9" fill="#fff" fill-opacity="0.63"/>
<circle cx="858.9" cy="1858.2" r="1.5" fill="#fff" fill-opacity="0.41"/>
<circle cx="723.8" cy="1796.7" r="1.1" fill="#fff" fill-opacity="0.46"/>
<circle cx="729.4" cy="1851.9" r="1.8" fill="#fff" fill-opacity="0.53"/>
<circle cx="795.9" cy="1741.8" r="0.8" fill="#fff" fill-opacity="0.37"/>
<circle cx="876.6" cy="1876.5" r="1.3" fill="#fff" fill-opacity="0.63"/>
<circle cx="866.2" cy="1894.9" r="1.6" fill="#fff" fill-opacity="0.65"/>
<circle cx="767.9" cy="1754.1" r="2.0" fill="#fff" fill-opacity="0.34"/>
<circle cx="683.6" cy="1806.9" r="1.8" fill="#fff" fill-opacity="0.69"/>
<circle cx="790.3" cy="1776.6" r="1.1" fill="#fff" fill-opacity="0.62"/>
<circle cx="782.1" cy="1767.8" r="1.4" fill="#fff" fill-opacity="0.41"/>
<circle cx="894.6" cy="1893.2" r="2.0" fill="#fff" fill-opacity="0.56"/>
<ellipse cx="850.0" cy="1786.5" rx="9.0" ry="7.9" fill="none" stroke="#000" stroke-opacity="0.08" stroke-width="1.6"/>
<ellipse cx="865.9" cy="1796.6" rx="7.7" ry="6.8" fill="none" stroke="#000" stroke-opacity="0.10" stroke-width="1.6"/>
<ellipse cx="721.2" cy="1844.4" rx="6.4" ry="5.2" fill="none" stroke="#000" stroke-opacity="0.10" stroke-width="1.6"/>
<ellipse cx="772.9" cy="1786.0" rx="10.2" ry="9.9" fill="none" stroke="#000" stroke-opacity="0.11" stroke-width="1.6"/>
<ellipse cx="715.2" cy="1785.5" rx="10.2" ry="8.7" fill="none" stroke="#000" stroke-opacity="0.12" stroke-width="1.6"/>
<ellipse cx="744.2" cy="1773.1" rx="8.1" ry="7.6" fill="none" stroke="#000" stroke-opacity="0.09" stroke-width="1.6"/>
<ellipse cx="830.7" cy="1792.3" rx="5.3" ry="4.7" fill="none" stroke="#000" stroke-opacity="0.15" stroke-width="1.6"/>
<ellipse cx="752.6" cy="1796.3" rx="8.0" ry="7.6" fill="none" stroke="#000" stroke-opacity="0.14" stroke-width="1.6"/>
<ellipse cx="788.9" cy="1779.5" rx="10.1" ry="9.0" fill="none" stroke="#000" stroke-opacity="0.09" stroke-width="1.6"/>
<ellipse cx="691.7" cy="1811.8" rx="5.5" ry="6.0" fill="none" stroke="#000" stroke-opacity="0.13" stroke-width="1.6"/>
<ellipse cx="777.6" cy="1756.5" rx="5.1" ry="4.7" fill="none" stroke="#000" stroke-opacity="0.10" stroke-width="1.6"/>
<ellipse cx="745.3" cy="1798.4" rx="9.8" ry="9.0" fill="none" stroke="#000" stroke-opacity="0.12" stroke-width="1.6"/>
<ellipse cx="856.4" cy="1766.5" rx="5.8" ry="5.5" fill="none" stroke="#000" stroke-opacity="0.07" stroke-width="1.6"/>
<ellipse cx="818.4" cy="1816.9" rx="8.8" ry="8.3" fill="none" stroke="#000" stroke-opacity="0.07" stroke-width="1.6"/>
<ellipse cx="803.8" cy="1833.9" rx="6.0" ry="5.3" fill="none" stroke="#000" stroke-opacity="0.08" stroke-width="1.6"/>
<ellipse cx="848.6" cy="1801.9" rx="10.1" ry="8.6" fill="none" stroke="#000" stroke-opacity="0.10" stroke-width="1.6"/>
<ellipse cx="797.5" cy="1831.9" rx="6.6" ry="6.1" fill="none" stroke="#000" stroke-opacity="0.10" stroke-width="1.6"/>
<ellipse cx="842.3" cy="1763.1" rx="10.3" ry="9.2" fill="none" stroke="#000" stroke-opacity="0.15" stroke-width="1.6"/>
<ellipse cx="754.2" cy="1841.6" rx="6.2" ry="5.5" fill="none" stroke="#000" stroke-opacity="0.15" stroke-width="1.6"/>
<ellipse cx="913.8" cy="1822.4" rx="5.3" ry="5.5" fill="none" stroke="#000" stroke-opacity="0.12" stroke-width="1.6"/>
<ellipse cx="707.0" cy="1747.0" rx="10.2" ry="8.1" fill="none" stroke="#000" stroke-opacity="0.10" stroke-width="1.6"/>
<ellipse cx="742.5" cy="1761.2" rx="5.2" ry="5.7" fill="none" stroke="#000" stroke-opacity="0.11" stroke-width="1.6"/>
<ellipse cx="911.3" cy="1864.7" rx="10.4" ry="11.2" fill="none" stroke="#000" stroke-opacity="0.09" stroke-width="1.6"/>
<ellipse cx="744.4" cy="1740.6" rx="9.5" ry="9.1" fill="none" stroke="#000" stroke-opacity="0.06" stroke-width="1.6"/>
<ellipse cx="701.5" cy="1771.4" rx="9.0" ry="9.6" fill="none" stroke="#000" stroke-opacity="0.15" stroke-width="1.6"/>
<ellipse cx="824.7" cy="1829.3" rx="8.8" ry="7.1" fill="none" stroke="#000" stroke-opacity="0.11" stroke-width="1.6"/>
<ellipse cx="743.5" cy="1843.6" rx="9.6" ry="10.4" fill="none" stroke="#000" stroke-opacity="0.11" stroke-width="1.6"/>
<ellipse cx="773.2" cy="1884.8" rx="9.8" ry="9.8" fill="none" stroke="#000" stroke-opacity="0.15" stroke-width="1.6"/>
<ellipse cx="871.8" cy="1780.2" rx="8.1" ry="8.2" fill="none" stroke="#000" stroke-opacity="0.10" stroke-width="1.6"/>
<ellipse cx="813.1" cy="1809.8" rx="5.8" ry="6.3" fill="none" stroke="#000" stroke-opacity="0.11" stroke-width="1.6"/>
</g>
<clipPath id="c8"><rect x="923.8" y="1737.1" width="231.2" height="163.2"/></clipPath>
<g clip-path="url(#c8)">
<rect x="923.8" y="1737.1" width="231.2" height="163.2" fill="#c9c9c9"/>
<rect x="923.8" y="1737.1" width="231.2" height="163.2" fill="#c9c9c9" filter="url(#tex2)" opacity="0.8"/>
<path d="M928.4,1888.2 C927.2,1886.3 923.4,1880.7 921.4,1876.7 C919.3,1872.7 916.7,1868.6 915.9,1864.3 C915.1,1860.0 915.9,1855.2 916.5,1850.8 C917.0,1846.3 917.6,1841.7 919.2,1837.5 C920.7,1833.3 924.7,1827.7 925.8,1825.7" fill="none" stroke="#fff" stroke-opacity="0.08" stroke-width="0.9"/>
<path d="M1147.3,1741.0 C1141.7,1740.1 1125.0,1735.8 1113.9,1736.0 C1102.8,1736.2 1091.5,1739.3 1080.7,1742.2 C1069.9,1745.2 1058.3,1748.0 1049.0,1753.9 C1039.6,1759.7 1033.9,1771.1 1024.7,1777.3 C1015.5,1783.5 998.9,1788.7 993.8,1791.0" fill="none" stroke="#000" stroke-opacity="0.06" stroke-width="1.2"/>
<path d="M974.1,1753.5 C979.1,1753.1 993.9,1751.5 1003.8,1751.5 C1013.8,1751.6 1023.6,1753.1 1033.6,1753.7 C1043.5,1754.3 1054.2,1752.2 1063.3,1755.1 C1072.5,1758.0 1079.4,1768.6 1088.5,1771.1 C1097.7,1773.5 1113.4,1770.0 1118.3,1769.8" fill="none" stroke="#fff" stroke-opacity="0.13" stroke-width="1.0"/>
<path d="M1021.4,1785.5 C1021.0,1790.9 1021.3,1807.6 1018.7,1818.0 C1016.0,1828.3 1006.5,1837.5 1005.5,1847.7 C1004.5,1858.0 1012.4,1868.9 1012.6,1879.5 C1012.9,1890.2 1005.7,1901.3 1007.0,1911.6 C1008.2,1921.9 1017.9,1936.5 1020.1,1941.4" fill="none" stroke="#fff" stroke-opacity="0.06" stroke-width="1.0"/>
<path d="M975.3,1774.3 C973.8,1771.2 970.2,1760.7 965.8,1755.4 C961.5,1750.1 954.9,1746.5 949.1,1742.5 C943.4,1738.5 936.5,1736.0 931.1,1731.5 C925.7,1727.1 921.2,1721.5 917.0,1715.8 C912.9,1710.1 908.1,1700.6 906.3,1697.6" fill="none" stroke="#000" stroke-opacity="0.13" stroke-width="1.5"/>
<path d="M1161.3,1918.6 C1166.8,1917.4 1183.2,1912.5 1194.2,1911.8 C1205.3,1911.0 1216.7,1912.6 1227.8,1914.0 C1238.9,1915.3 1249.8,1918.9 1260.9,1920.0 C1272.0,1921.2 1284.0,1918.2 1294.5,1921.0 C1305.0,1923.9 1319.1,1934.5 1324.0,1937.2" fill="none" stroke="#000" stroke-opacity="0.14" stroke-width="1.1"/>
<path d="M909.8,1889.3 C908.5,1888.9 904.4,1888.0 902.2,1886.6 C899.9,1885.2 897.7,1883.2 896.3,1881.0 C894.9,1878.7 894.9,1875.7 894.0,1873.2 C893.2,1870.6 892.8,1867.7 891.4,1865.5 C890.0,1863.3 886.5,1860.8 885.6,1859.8" fill="none" stroke="#000" stroke-opacity="0.10" stroke-width="1.3"/>
<path d="M1054.9,1766.0 C1054.6,1771.5 1056.8,1789.4 1053.1,1799.2 C1049.3,1809.1 1039.4,1816.7 1032.3,1825.3 C1025.3,1833.9 1015.1,1841.0 1010.9,1850.8 C1006.7,1860.6 1006.3,1873.1 1007.3,1883.9 C1008.2,1894.8 1015.0,1910.6 1016.6,1915.9" fill="none" stroke="#fff" stroke-opacity="0.14" stroke-width="1.3"/>
<path d="M933.2,1903.2 C932.2,1900.2 929.7,1890.9 927.4,1884.9 C925.2,1878.9 922.0,1873.3 919.5,1867.5 C917.0,1861.6 916.4,1854.2 912.5,1849.6 C908.6,1845.0 901.9,1841.3 896.0,1839.9 C890.0,1838.4 880.0,1840.8 876.8,1841.0" fill="none" stroke="#fff" stroke-opacity="0.09" stroke-width="1.4"/>
<path d="M1004.5,1796.8 C1009.4,1798.6 1025.1,1802.4 1033.9,1807.6 C1042.7,1812.9 1048.4,1823.5 1057.4,1828.3 C1066.3,1833.2 1077.3,1835.4 1087.5,1836.8 C1097.7,1838.2 1109.2,1839.6 1118.8,1836.7 C1128.4,1833.8 1140.6,1822.4 1145.0,1819.6" fill="none" stroke="#fff" stroke-opacity="0.14" stroke-width="1.2"/>
<path d="M1078.5,1767.6 C1080.0,1766.5 1084.3,1763.1 1087.3,1761.0 C1090.3,1759.0 1093.3,1756.9 1096.6,1755.2 C1099.8,1753.6 1103.7,1753.1 1106.8,1751.4 C1110.0,1749.6 1112.4,1746.7 1115.5,1744.7 C1118.5,1742.7 1123.3,1740.1 1124.9,1739.2" fill="none" stroke="#000" stroke-opacity="0.05" stroke-width="1.1"/>
<path d="M1060.3,1896.5 C1055.0,1895.6 1037.3,1896.0 1028.4,1891.2 C1019.4,1886.3 1012.5,1876.2 1006.5,1867.4 C1000.5,1858.6 997.6,1847.7 992.3,1838.3 C987.1,1828.9 980.0,1820.5 975.1,1811.0 C970.3,1801.4 965.4,1785.8 963.5,1780.8" fill="none" stroke="#fff" stroke-opacity="0.08" stroke-width="0.9"/>
<circle cx="998.6" cy="1825.5" r="0.9" fill="#fff" fill-opacity="0.44"/>
<circle cx="957.3" cy="1889.8" r="1.3" fill="#fff" fill-opacity="0.53"/>
<circle cx="956.0" cy="1810.7" r="2.0" fill="#fff" fill-opacity="0.63"/>
<circle cx="1134.6" cy="1763.7" r="1.8" fill="#fff" fill-opacity="0.62"/>
<circle cx="1011.4" cy="1793.3" r="1.9" fill="#fff" fill-opacity="0.42"/>
<circle cx="984.9" cy="1842.1" r="1.4" fill="#fff" fill-opacity="0.47"/>
<circle cx="1021.8" cy="1853.7" r="1.7" fill="#fff" fill-opacity="0.48"/>
<circle cx="1141.0" cy="1781.0" r="1.1" fill="#fff" fill-opacity="0.46"/>
<circle cx="924.3" cy="1819.5" r="1.4" fill="#fff" fill-opacity="0.41"/>
<circle cx="1028.0" cy="1815.0" r="1.5" fill="#fff" fill-opacity="0.52"/>
<circle cx="1002.8" cy="1796.7" r="1.8" fill="#fff" fill-opacity="0.33"/>
<circle cx="1129.9" cy="1759.1" r="1.0" fill="#fff" fill-opacity="0.47"/>
<circle cx="1152.2" cy="1773.2" r="0.9" fill="#fff" fill-opacity="0.60"/>
<circle cx="1041.5" cy="1758.7" r="1.9" fill="#fff" fill-opacity="0.53"/>
<circle cx="1080.2" cy="1755.4" r="1.5" fill="#fff" fill-opacity="0.32"/>
<circle cx="983.0" cy="1830.1" r="2.0" fill="#fff" fill-opacity="0.67"/>
<circle cx="968.4" cy="1885.2" r="1.9" fill="#fff" fill-opacity="0.34"/>
<circle cx="936.7" cy="1770.4" r="2.0" fill="#fff" fill-opacity="0.40"/>
<circle cx="1048.5" cy="1845.1" r="1.3" fill="#fff" fill-opacity="0.44"/>
<circle cx="1054.3" cy="1868.6" r="1.1" fill="#fff" fill-opacity="0.31"/>
<circle cx="1027.8" cy="1892.9" r="1.8" fill="#fff" fill-opacity="0.33"/>
<circle cx="1092.0" cy="1884.9" r="1.8" fill="#fff" fill-opacity="0.31"/>
<circle cx="926.8" cy="1811.2" r="1.9" fill="#fff" fill-opacity="0.66"/>
<circle cx="992.9" cy="1892.3" r="1.8" fill="#fff" fill-opacity="0.47"/>
<circle cx="966.0" cy="1758.8" r="1.2" fill="#fff" fill-opacity="0.33"/>
<circle cx="1040.3" cy="1836.9" r="2.0" fill="#fff" fill-opacity="0.33"/>
<circle cx="945.5" cy="1836.1" r="1.0" fill="#fff" fill-opacity="0.36"/>
<circle cx="1059.6" cy="1850.2" r="1.7" fill="#fff" fill-opacity="0.45"/>
<circle cx="955.6" cy="1738.7" r="1.7" fill="#fff" fill-opacity="0.59"/>
<circle cx="943.5" cy="1831.0" r="0.9" fill="#fff" fill-opacity="0.48"/>
<circle cx="1116.7" cy="1895.0" r="1.5" fill="#fff" fill-opacity="0.65"/>
<circle cx="1038.1" cy="1894.6" r="1.1" fill="#fff" fill-opacity="0.31"/>
<circle cx="1035.9" cy="1898.8" r="1.6" fill="#fff" fill-opacity="0.57"/>
<circle cx="1104.1" cy="1851.8" r="1.7" fill="#fff" fill-opacity="0.44"/>
<circle cx="1002.7" cy="1878.4" r="1.1" fill="#fff" fill-opacity="0.51"/>
<circle cx="977.7" cy="1842.9" r="1.4" fill="#fff" fill-opacity="0.66"/>
<circle cx="997.2" cy="1766.2" r="0.8" fill="#fff" fill-opacity="0.31"/>
<circle cx="982.6" cy="1873.0" r="2.0" fill="#fff" fill-opacity="0.35"/>
<circle cx="1136.0" cy="1751.1" r="1.7" fill="#fff" fill-opacity="0.46"/>
<circle cx="948.9" cy="1787.6" r="1.9" fill="#fff" fill-opacity="0.60"/>
<circle cx="1062.7" cy="1857.1" r="1.8" fill="#fff" fill-opacity="0.49"/>
<circle cx="1125.1" cy="1871.7" r="1.6" fill="#fff" fill-opacity="0.51"/>
<circle cx="1122.9" cy="1745.7" r="1.1" fill="#fff" fill-opacity="0.59"/>
<circle cx="1067.7" cy="1794.1" r="0.9" fill="#fff" fill-opacity="0.57"/>
<circle cx="948.5" cy="1864.4" r="1.6" fill="#fff" fill-opacity="0.32"/>
<circle cx="994.7" cy="1877.3" r="1.3" fill="#fff" fill-opacity="0.58"/>
<circle cx="1064.1" cy="1788.2" r="1.5" fill="#fff" fill-opacity="0.52"/>
<circle cx="1113.5" cy="1876.6" r="1.2" fill="#fff" fill-opacity="0.37"/>
<circle cx="1057.6" cy="1756.4" r="1.8" fill="#fff" fill-opacity="0.50"/>
<circle cx="958.7" cy="1833.5" r="0.9" fill="#fff" fill-opacity="0.50"/>
<circle cx="985.9" cy="1827.6" r="1.8" fill="#fff" fill-opacity="0.69"/>
<circle cx="1029.9" cy="1780.8" r="1.4" fill="#fff" fill-opacity="0.60"/>
<circle cx="1141.1" cy="1847.6" r="1.8" fill="#fff" fill-opacity="0.46"/>
<circle cx="937.0" cy="1841.5" r="1.3" fill="#fff" fill-opacity="0.36"/>
<circle cx="984.5" cy="1793.5" r="1.0" fill="#fff" fill-opacity="0.45"/>
<circle cx="1059.0" cy="1793.3" r="1.2" fill="#fff" fill-opacity="0.50"/>
<circle cx="1018.1" cy="1751.6" r="1.5" fill="#fff" fill-opacity="0.31"/>
<circle cx="1128.2" cy="1863.0" r="0.9" fill="#fff" fill-opacity="0.54"/>
<circle cx="1027.2" cy="1830.4" r="1.4" fill="#fff" fill-opacity="0.60"/>
<circle cx="1025.1" cy="1865.9" r="1.8" fill="#fff" fill-opacity="0.34"/>
<circle cx="936.1" cy="1756.6" r="1.0" fill="#fff" fill-opacity="0.60"/>
<circle cx="1055.0" cy="1757.5" r="1.4" fill="#fff" fill-opacity="0.51"/>
<circle cx="1110.4" cy="1866.1" r="1.1" fill="#fff" fill-opacity="0.44"/>
<circle cx="932.4" cy="1871.6" r="1.3" fill="#fff" fill-opacity="0.52"/>
<circle cx="933.5" cy="1808.4" r="1.5" fill="#fff" fill-opacity="0.65"/>
<circle cx="966.5" cy="1846.5" r="1.5" fill="#fff" fill-opacity="0.30"/>
<circle cx="998.6" cy="1806.8" r="1.9" fill="#fff" fill-opacity="0.67"/>
<circle cx="1113.1" cy="1830.1" r="1.8" fill="#fff" fill-opacity="0.70"/>
<circle cx="1058.9" cy="1866.7" r="0.8" fill="#fff" fill-opacity="0.33"/>
<circle cx="1004.4" cy="1857.7" r="1.0" fill="#fff" fill-opacity="0.69"/>
<circle cx="1111.4" cy="1752.2" r="0.9" fill="#fff" fill-opacity="0.31"/>
<circle cx="1131.4" cy="1850.6" r="1.1" fill="#fff" fill-opacity="0.44"/>
<circle cx="950.4" cy="1788.4" r="1.7" fill="#fff" fill-opacity="0.60"/>
<circle cx="984.9" cy="1884.3" r="1.9" fill="#fff" fill-opacity="0.36"/>
<circle cx="1054.6" cy="1786.5" r="1.8" fill="#fff" fill-opacity="0.43"/>
<circle cx="1103.3" cy="1816.5" r="1.7" fill="#fff" fill-opacity="0.60"/>
<circle cx="1074.0" cy="1900.1" r="1.5" fill="#fff" fill-opacity="0.54"/>
<circle cx="1133.9" cy="1825.5" r="1.0" fill="#fff" fill-opacity="0.41"/>
<circle cx="1054.2" cy="1764.2" r="1.7" fill="#fff" fill-opacity="0.52"/>
<circle cx="924.7" cy="1877.4" r="2.0" fill="#fff" fill-opacity="0.33"/>
<circle cx="1132.4" cy="1853.3" r="1.8" fill="#fff" fill-opacity="0.58"/>
<circle cx="1093.6" cy="1877.1" r="1.7" fill="#fff" fill-opacity="0.42"/>
<circle cx="1102.7" cy="1774.5" r="1.9" fill="#fff" fill-opacity="0.34"/>
<circle cx="946.0" cy="1761.4" r="1.0" fill="#fff" fill-opacity="0.47"/>
<circle cx="1061.8" cy="1751.5" r="1.4" fill="#fff" fill-opacity="0.53"/>
<circle cx="1142.3" cy="1814.4" r="1.8" fill="#fff" fill-opacity="0.42"/>
<circle cx="966.1" cy="1775.6" r="1.0" fill="#fff" fill-opacity="0.69"/>
<circle cx="1133.8" cy="1824.7" r="0.8" fill="#fff" fill-opacity="0.70"/>
<circle cx="1131.9" cy="1868.8" r="1.4" fill="#fff" fill-opacity="0.63"/>
<circle cx="928.3" cy="1812.2" r="1.1" fill="#fff" fill-opacity="0.48"/>
<circle cx="960.9" cy="1895.8" r="1.8" fill="#fff" fill-opacity="0.64"/>
<circle cx="1111.6" cy="1741.0" r="1.1" fill="#fff" fill-opacity="0.65"/>
<circle cx="1066.2" cy="1896.2" r="0.8" fill="#fff" fill-opacity="0.31"/>
<circle cx="1063.0" cy="1764.1" r="1.9" fill="#fff" fill-opacity="0.66"/>
<circle cx="1010.5" cy="1892.9" r="1.1" fill="#fff" fill-opacity="0.61"/>
<circle cx="974.4" cy="1804.1" r="1.7" fill="#fff" fill-opacity="0.68"/>
<circle cx="962.2" cy="1748.1" r="0.8" fill="#fff" fill-opacity="0.49"/>
<circle cx="976.9" cy="1802.7" r="1.8" fill="#fff" fill-opacity="0.50"/>
<circle cx="1147.6" cy="1878.1" r="1.2" fill="#fff" fill-opacity="0.62"/>
<circle cx="1000.6" cy="1823.1" r="1.0" fill="#fff" fill-opacity="0.63"/>
<circle cx="1040.4" cy="1833.5" r="1.9" fill="#fff" fill-opacity="0.39"/>
<circle cx="963.4" cy="1803.7" r="1.9" fill="#fff" fill-opacity="0.70"/>
<circle cx="1000.3" cy="1855.4" r="1.8" fill="#fff" fill-opacity="0.47"/>
<circle cx="1009.1" cy="1857.3" r="1.0" fill="#fff" fill-opacity="0.56"/>
<circle cx="1101.3" cy="1895.8" r="1.5" fill="#fff" fill-opacity="0.43"/>
<circle cx="1123.7" cy="1894.9" r="1.1" fill="#fff" fill-opacity="0.56"/>
<circle cx="999.2" cy="1761.2" r="0.9" fill="#fff" fill-opacity="0.64"/>
<circle cx="936.9" cy="1754.1" r="1.1" fill="#fff" fill-opacity="0.52"/>
<circle cx="1041.3" cy="1762.5" r="1.8" fill="#fff" fill-opacity="0.47"/>
<circle cx="963.1" cy="1895.8" r="1.2" fill="#fff" fill-opacity="0.59"/>
<circle cx="1010.2" cy="1873.2" r="1.2" fill="#fff" fill-opacity="0.62"/>
<circle cx="1090.5" cy="1887.5" r="1.0" fill="#fff" fill-opacity="0.44"/>
<circle cx="943.4" cy="1742.0" r="1.0" fill="#fff" fill-opacity="0.66"/>
<circle cx="1007.7" cy="1769.7" r="1.2" fill="#fff" fill-opacity="0.43"/>
<circle cx="1098.4" cy="1757.3" r="1.5" fill="#fff" fill-opacity="0.50"/>
<circle cx="1062.3" cy="1876.4" r="1.8" fill="#fff" fill-opacity="0.36"/>
<circle cx="1035.8" cy="1824.4" r="1.5" fill="#fff" fill-opacity="0.55"/>
<circle cx="1045.2" cy="1870.2" r="1.6" fill="#fff" fill-opacity="0.48"/>
<circle cx="1135.7" cy="1814.7" r="0.9" fill="#fff" fill-opacity="0.51"/>
<circle cx="1126.2" cy="1855.8" r="1.1" fill="#fff" fill-opacity="0.41"/>
<circle cx="1035.8" cy="1775.1" r="0.9" fill="#fff" fill-opacity="0.48"/>
<circle cx="1095.7" cy="1835.3" r="1.6" fill="#fff" fill-opacity="0.43"/>
<circle cx="1103.6" cy="1755.3" r="1.7" fill="#fff" fill-opacity="0.62"/>
<circle cx="961.6" cy="1857.1" r="1.3" fill="#fff" fill-opacity="0.56"/>
<circle cx="1069.7" cy="1882.2" r="1.4" fill="#fff" fill-opacity="0.56"/>
<circle cx="1148.1" cy="1741.7" r="1.2" fill="#fff" fill-opacity="0.40"/>
<circle cx="1113.8" cy="1868.6" r="1.8" fill="#fff" fill-opacity="0.53"/>
<circle cx="960.7" cy="1839.5" r="1.1" fill="#fff" fill-opacity="0.60"/>
<circle cx="1005.7" cy="1835.0" r="0.8" fill="#fff" fill-opacity="0.58"/>
<circle cx="1009.0" cy="1794.9" r="1.7" fill="#fff" fill-opacity="0.37"/>
<circle cx="1103.4" cy="1848.4" r="1.9" fill="#fff" fill-opacity="0.49"/>
<circle cx="1139.3" cy="1801.5" r="1.1" fill="#fff" fill-opacity="0.39"/>
<circle cx="1013.8" cy="1756.5" r="1.5" fill="#fff" fill-opacity="0.60"/>
<circle cx="1070.4" cy="1875.8" r="1.6" fill="#fff" fill-opacity="0.65"/>
<circle cx="1042.3" cy="1813.8" r="1.9" fill="#fff" fill-opacity="0.66"/>
<circle cx="1029.0" cy="1770.8" r="0.9" fill="#fff" fill-opacity="0.39"/>
<circle cx="972.4" cy="1841.9" r="1.2" fill="#fff" fill-opacity="0.58"/>
<circle cx="930.6" cy="1768.7" r="1.3" fill="#fff" fill-opacity="0.53"/>
<circle cx="1128.3" cy="1802.5" r="2.0" fill="#fff" fill-opacity="0.33"/>
<circle cx="945.4" cy="1833.6" r="1.5" fill="#fff" fill-opacity="0.53"/>
<circle cx="989.6" cy="1748.5" r="1.1" fill="#fff" fill-opacity="0.42"/>
<circle cx="946.4" cy="1810.6" r="1.5" fill="#fff" fill-opacity="0.47"/>
<circle cx="1126.0" cy="1786.4" r="1.9" fill="#fff" fill-opacity="0.36"/>
<circle cx="1101.1" cy="1871.7" r="0.9" fill="#fff" fill-opacity="0.41"/>
<circle cx="980.7" cy="1788.0" r="1.4" fill="#fff" fill-opacity="0.63"/>
<circle cx="1062.6" cy="1860.4" r="1.9" fill="#fff" fill-opacity="0.33"/>
<circle cx="1037.8" cy="1809.7" r="1.8" fill="#fff" fill-opacity="0.49"/>
<circle cx="1131.4" cy="1802.0" r="1.7" fill="#fff" fill-opacity="0.39"/>
<circle cx="1112.4" cy="1805.6" r="1.6" fill="#fff" fill-opacity="0.45"/>
<circle cx="1054.6" cy="1807.0" r="1.5" fill="#fff" fill-opacity="0.45"/>
<circle cx="1051.9" cy="1764.4" r="0.9" fill="#fff" fill-opacity="0.43"/>
<circle cx="1022.4" cy="1748.5" r="1.6" fill="#fff" fill-opacity="0.67"/>
<circle cx="947.6" cy="1798.5" r="1.9" fill="#fff" fill-opacity="0.34"/>
<circle cx="1011.2" cy="1819.4" r="1.1" fill="#fff" fill-opacity="0.54"/>
<circle cx="1034.3" cy="1833.5" r="0.8" fill="#fff" fill-opacity="0.48"/>
<circle cx="1072.9" cy="1764.0" r="1.2" fill="#fff" fill-opacity="0.53"/>
<circle cx="1067.6" cy="1883.8" r="0.9" fill="#fff" fill-opacity="0.64"/>
<circle cx="1057.0" cy="1792.8" r="1.4" fill="#fff" fill-opacity="0.59"/>
<circle cx="995.6" cy="1865.1" r="0.9" fill="#fff" fill-opacity="0.44"/>
<circle cx="1028.9" cy="1834.7" r="1.5" fill="#fff" fill-opacity="0.39"/>
<ellipse cx="1104.3" cy="1817.0" rx="10.5" ry="9.8" fill="none" stroke="#000" stroke-opacity="0.13" stroke-width="1.6"/>
<ellipse cx="944.2" cy="1859.4" rx="9.1" ry="7.9" fill="none" stroke="#000" stroke-opacity="0.12" stroke-width="1.6"/>
<ellipse cx="932.9" cy="1861.1" rx="6.6" ry="6.5" fill="none" stroke="#000" stroke-opacity="0.07" stroke-width="1.6"/>
<ellipse cx="1112.0" cy="1766.8" rx="5.8" ry="4.8" fill="none" stroke="#000" stroke-opacity="0.14" stroke-width="1.6"/>
<ellipse cx="950.4" cy="1737.9" rx="5.4" ry="5.8" fill="none" stroke="#000" stroke-opacity="0.11" stroke-width="1.6"/>
<ellipse cx="1097.6" cy="1790.2" rx="10.6" ry="9.7" fill="none" stroke="#000" stroke-opacity="0.08" stroke-width="1.6"/>
<ellipse cx="948.5" cy="1813.6" rx="5.8" ry="5.0" fill="none" stroke="#000" stroke-opacity="0.16" stroke-width="1.6"/>
<ellipse cx="1153.6" cy="1740.9" rx="6.5" ry="5.6" fill="none" stroke="#000" stroke-opacity="0.15" stroke-width="1.6"/>
<ellipse cx="1038.1" cy="1888.5" rx="9.9" ry="9.3" fill="none" stroke="#000" stroke-opacity="0.14" stroke-width="1.6"/>
<ellipse cx="1032.6" cy="1789.1" rx="10.0" ry="9.3" fill="none" stroke="#000" stroke-opacity="0.12" stroke-width="1.6"/>
<ellipse cx="1013.4" cy="1773.9" rx="9.4" ry="10.2" fill="none" stroke="#000" stroke-opacity="0.08" stroke-width="1.6"/>
<ellipse cx="1074.8" cy="1845.5" rx="8.9" ry="7.8" fill="none" stroke="#000" stroke-opacity="0.09" stroke-width="1.6"/>
<ellipse cx="1114.3" cy="1803.8" rx="7.3" ry="7.3" fill="none" stroke="#000" stroke-opacity="0.16" stroke-width="1.6"/>
<ellipse cx="1038.5" cy="1859.1" rx="10.2" ry="9.9" fill="none" stroke="#000" stroke-opacity="0.16" stroke-width="1.6"/>
<ellipse cx="1129.4" cy="1850.9" rx="6.1" ry="5.9" fill="none" stroke="#000" stroke-opacity="0.13" stroke-width="1.6"/>
<ellipse cx="1154.1" cy="1739.5" rx="6.5" ry="5.5" fill="none" stroke="#000" stroke-opacity="0.15" stroke-width="1.6"/>
<ellipse cx="966.0" cy="1800.3" rx="6.7" ry="6.8" fill="none" stroke="#000" stroke-opacity="0.14" stroke-width="1.6"/>
<ellipse cx="928.4" cy="1790.2" rx="7.6" ry="7.5" fill="none" stroke="#000" stroke-opacity="0.14" stroke-width="1.6"/>
<ellipse cx="949.8" cy="1862.0" rx="8.8" ry="7.5" fill="none" stroke="#000" stroke-opacity="0.08" stroke-width="1.6"/>
<ellipse cx="944.4" cy="1821.0" rx="7.6" ry="6.9" fill="none" stroke="#000" stroke-opacity="0.16" stroke-width="1.6"/>
<ellipse cx="964.6" cy="1893.7" rx="6.7" ry="6.8" fill="none" stroke="#000" stroke-opacity="0.11" stroke-width="1.6"/>
<ellipse cx="1076.1" cy="1761.5" rx="9.5" ry="8.4" fill="none" stroke="#000" stroke-opacity="0.11" stroke-width="1.6"/>
<ellipse cx="1078.8" cy="1829.2" rx="7.1" ry="7.5" fill="none" stroke="#000" stroke-opacity="0.07" stroke-width="1.6"/>
<ellipse cx="986.8" cy="1742.5" rx="10.9" ry="9.8" fill="none" stroke="#000" stroke-opacity="0.08" stroke-width="1.6"/>
<ellipse cx="1042.1" cy="1788.2" rx="9.0" ry="7.5" fill="none" stroke="#000" stroke-opacity="0.08" stroke-width="1.6"/>
<ellipse cx="1114.0" cy="1848.6" rx="6.2" ry="5.8" fill="none" stroke="#000" stroke-opacity="0.10" stroke-width="1.6"/>
<ellipse cx="1133.6" cy="1860.0" rx="5.2" ry="4.6" fill="none" stroke="#000" stroke-opacity="0.08" stroke-width="1.6"/>
<ellipse cx="1051.8" cy="1844.3" rx="7.1" ry="6.7" fill="none" stroke="#000" stroke-opacity="0.09" stroke-width="1.6"/>
<ellipse cx="989.8" cy="1842.6" rx="8.7" ry="7.4" fill="none" stroke="#000" stroke-opacity="0.14" stroke-width="1.6"/>
<ellipse cx="1101.6" cy="1873.2" rx="10.5" ry="10.1" fill="none" stroke="#000" stroke-opacity="0.08" stroke-width="1.6"/>
</g>
<text transform="translate(375.70,1888.20) scale(1,1.02)" x="-0.66" y="0" font-family="Liberation Sans, sans-serif" font-size="16.52" style="stroke:none">50 µm</text>
<line x1="372" y1="1894" x2="428.5" y2="1894" stroke="#2a1a12" stroke-width="3"/>
<text transform="translate(303.60,1925.80) scale(1,1.02)" x="-0.02" y="0" font-family="Liberation Sans, sans-serif" font-size="20.80" font-weight="bold" >WT</text>
<text transform="translate(521.40,1925.80) scale(1,1.02)" x="-0.48" y="0" font-family="Liberation Sans, sans-serif" font-size="20.92" font-weight="bold" >3MST-KO</text>
<text transform="translate(760.00,1925.80) scale(1,1.02)" x="-0.24" y="0" font-family="Liberation Sans, sans-serif" font-size="21.08" font-weight="bold" >TRPA1-KO</text>
<text transform="translate(1006.90,1925.80) scale(1,1.02)" x="-1.43" y="0" font-family="Liberation Sans, sans-serif" font-size="21.33" font-weight="bold" >M/T-KO</text>
<text transform="translate(76.60,2067.30)" x="-0.99" y="0" font-family="Liberation Sans, sans-serif" font-size="58.00" font-weight="bold" >f</text>
<path d="M272.4,2078.2 V2027.8 H1103.4 V2077.4 M272.4,2047.5 H836.5 V2068.3" fill="none" stroke="#231815" stroke-width="2.5"/>
<text transform="translate(792.20,2078.72) scale(1,1.02)" x="-0.10" y="0" font-family="Liberation Sans, sans-serif" font-size="34.50" font-weight="bold" >**</text>
<text transform="translate(1077.80,2057.96) scale(1,1.02)" x="-0.09" y="0" font-family="Liberation Sans, sans-serif" font-size="30.40" font-weight="bold" >*</text>
<circle cx="219.9" cy="2200.5" r="122.5" fill="#e17835"/>
<path d="M219.9,2200.5 L219.9,2078.0 A122.5,122.5 0 0 1 342.16,2208.19 Z" fill="#4170b8"/>
<circle cx="499.2" cy="2195.5" r="122.5" fill="#e17835"/>
<path d="M499.2,2195.5 L499.2,2073.0 A122.5,122.5 0 0 1 621.46,2187.81 Z" fill="#4170b8"/>
<circle cx="778.8" cy="2200" r="122.5" fill="#e17835"/>
<path d="M778.8,2200 L778.8,2077.5 A122.5,122.5 0 0 1 850.80,2100.90 Z" fill="#4170b8"/>
<circle cx="1061.8" cy="2203.5" r="122.5" fill="#e17835"/>
<path d="M1061.8,2203.5 L1061.8,2081.0 A122.5,122.5 0 0 1 1156.19,2125.42 Z" fill="#4170b8"/>
<text transform="translate(255.80,2164.90) scale(1,1.02)" x="-0.64" y="0" font-family="Liberation Sans, sans-serif" font-size="18.60" font-weight="bold" fill="#fff" >26%</text>
<text transform="translate(174.20,2248.80) scale(1,1.02)" x="-0.80" y="0" font-family="Liberation Sans, sans-serif" font-size="18.60" font-weight="bold" fill="#fff" >74%</text>
<text transform="translate(525.30,2149.50) scale(1,1.02)" x="-0.64" y="0" font-family="Liberation Sans, sans-serif" font-size="18.60" font-weight="bold" fill="#fff" >24%</text>
<text transform="translate(441.30,2245.10) scale(1,1.02)" x="-0.80" y="0" font-family="Liberation Sans, sans-serif" font-size="18.60" font-weight="bold" fill="#fff" >76%</text>
<text transform="translate(788.40,2121.20) scale(1,1.02)" x="-1.17" y="0" font-family="Liberation Sans, sans-serif" font-size="18.60" font-weight="bold" fill="#fff" >10%</text>
<text transform="translate(725.40,2255.70) scale(1,1.02)" x="-0.64" y="0" font-family="Liberation Sans, sans-serif" font-size="18.60" font-weight="bold" fill="#fff" >90%</text>
<text transform="translate(1076.70,2136.10) scale(1,1.02)" x="-1.17" y="0" font-family="Liberation Sans, sans-serif" font-size="18.60" font-weight="bold" fill="#fff" >14%</text>
<text transform="translate(1020.10,2262.70) scale(1,1.02)" x="-0.59" y="0" font-family="Liberation Sans, sans-serif" font-size="18.60" font-weight="bold" fill="#fff" >86%</text>
<text transform="translate(200.80,2363.00) scale(1,1.02)" x="-0.02" y="0" font-family="Liberation Sans, sans-serif" font-size="24.00" font-weight="bold" >WT</text>
<text transform="translate(459.50,2363.00) scale(1,1.02)" x="-0.56" y="0" font-family="Liberation Sans, sans-serif" font-size="24.42" font-weight="bold" >3MST-KO</text>
<text transform="translate(742.50,2363.00) scale(1,1.02)" x="-0.28" y="0" font-family="Liberation Sans, sans-serif" font-size="24.59" font-weight="bold" >TRPA1-KO</text>
<text transform="translate(1030.80,2363.00) scale(1,1.02)" x="-1.64" y="0" font-family="Liberation Sans, sans-serif" font-size="24.49" font-weight="bold" >M/T-KO</text>
<text x="1241" y="2065.9" font-family="Liberation Sans, sans-serif" font-size="25" font-weight="bold">Na<tspan font-size="14.5" dy="8">2</tspan><tspan dy="-8">S</tspan><tspan font-size="14.5" dy="8">3</tspan><tspan dy="-8" dx="2.5"> Glu</tspan></text>
<rect x="1220.2" y="2087" width="19.9" height="19" fill="#4170b8"/>
<rect x="1220.2" y="2124.3" width="19.9" height="20.1" fill="#e17835"/>
<rect x="1266.3" y="2093.7" width="19.5" height="5" fill="#000"/><rect x="1273.6" y="2086.7" width="4.8" height="19" fill="#000"/>
<rect x="1324.2" y="2093.7" width="19.5" height="5" fill="#000"/><rect x="1331.5" y="2086.7" width="4.8" height="19" fill="#000"/>
<rect x="1324.6" y="2126.3" width="19.5" height="5" fill="#000"/><rect x="1331.9" y="2119.3" width="4.8" height="19" fill="#000"/>
<rect x="1271.4" y="2128.9" width="10.5" height="5.9" fill="#000"/>
</svg></body></html>
